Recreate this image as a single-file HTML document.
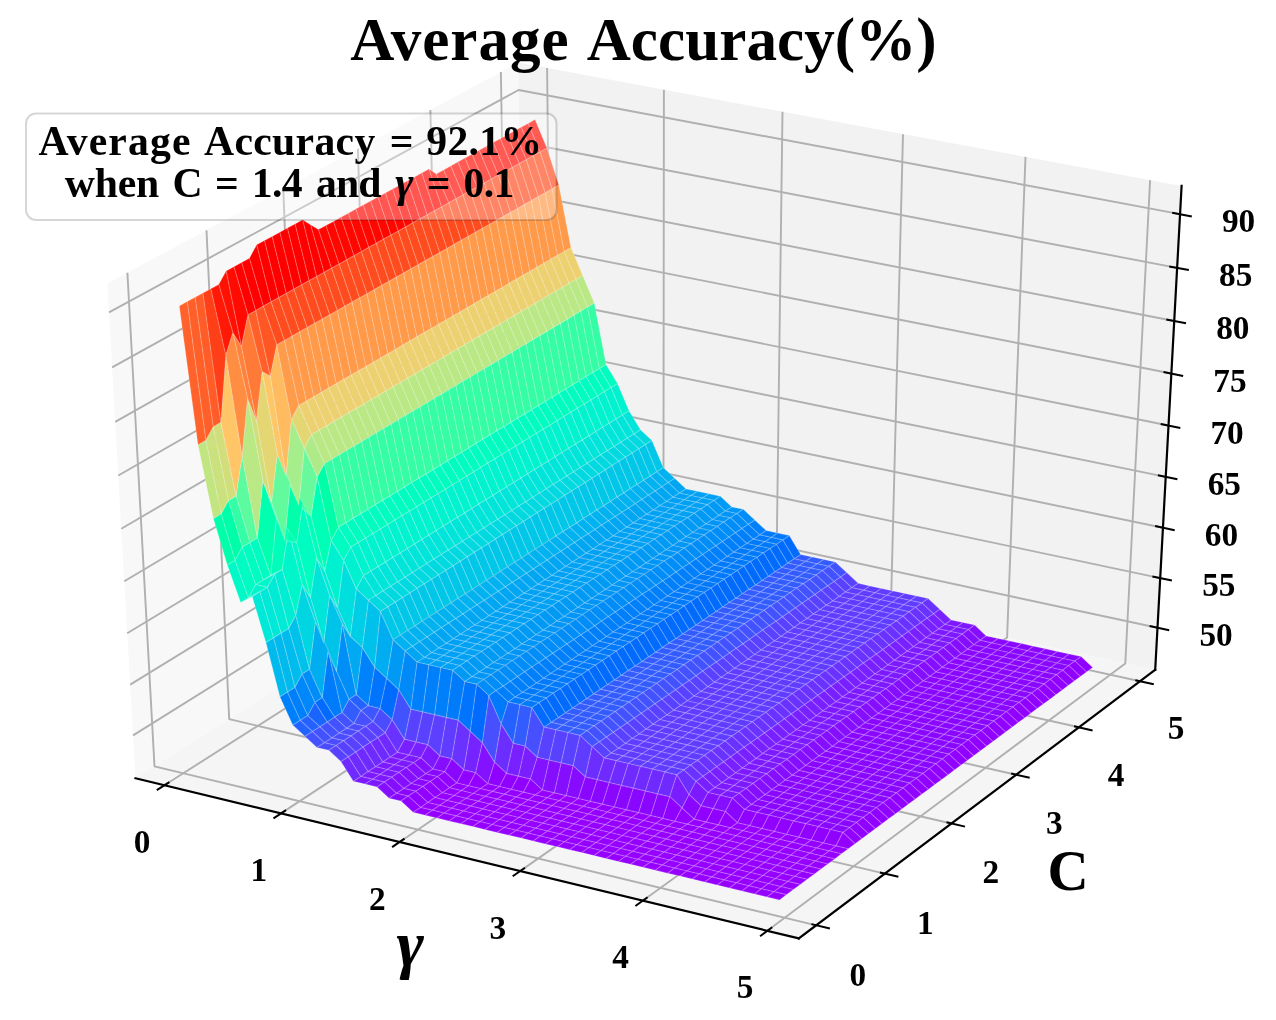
<!DOCTYPE html>
<html><head><meta charset="utf-8"><title>Average Accuracy</title>
<style>html,body{margin:0;padding:0;background:#fff}body{width:1276px;height:1020px;position:relative;overflow:hidden}</style></head>
<body>
<svg width="1276" height="1020" viewBox="0 0 1276 1020" style="position:absolute;left:0;top:0;filter:blur(0.5px)">
<polygon points="135.5,778.3 524.7,532.4 518.2,62.6 107.3,283.5" fill="#f8f8f8"/>
<polygon points="524.7,532.4 1155.2,669.9 1181.6,185.9 518.2,62.6" fill="#f2f2f2"/>
<polygon points="135.5,778.3 798.8,938.4 1155.2,669.9 524.7,532.4" fill="#f5f5f5"/>
<g fill="none" stroke="#b0b0b0" stroke-width="1.9" stroke-linejoin="round">
<polyline points="164.4,785.3 552.2,538.4 547.1,68.0"/>
<polyline points="816.3,925.3 154.5,766.3 127.4,272.7"/>
<polyline points="281.0,813.4 663.4,562.7 663.9,89.7"/>
<polyline points="884.8,873.6 229.2,719.1 206.5,230.2"/>
<polyline points="399.6,842.0 776.2,587.3 782.5,111.7"/>
<polyline points="951.4,823.5 301.8,673.3 283.3,189.0"/>
<polyline points="520.1,871.1 890.8,612.3 903.0,134.2"/>
<polyline points="1016.1,774.7 372.4,628.6 357.9,148.8"/>
<polyline points="642.7,900.7 1007.1,637.6 1025.5,156.9"/>
<polyline points="1079.0,727.3 441.2,585.2 430.4,109.9"/>
<polyline points="767.3,930.8 1125.3,663.4 1150.1,180.1"/>
<polyline points="1140.1,681.2 508.2,542.9 500.9,71.9"/>
<polyline points="133.1,735.4 524.1,491.5 1157.5,627.8"/>
<polyline points="130.2,684.6 523.5,443.1 1160.2,578.1"/>
<polyline points="127.2,633.2 522.8,394.3 1162.9,527.8"/>
<polyline points="124.3,581.2 522.1,344.9 1165.7,476.9"/>
<polyline points="121.3,528.7 521.4,295.0 1168.5,425.5"/>
<polyline points="118.3,475.5 520.7,244.5 1171.3,373.5"/>
<polyline points="115.2,421.8 520.0,193.5 1174.2,321.0"/>
<polyline points="112.1,367.4 519.3,142.0 1177.1,267.9"/>
<polyline points="109.0,312.4 518.6,90.0 1180.0,214.1"/>
</g>
<g id="surf" stroke="#fff" stroke-opacity="0.16" stroke-width="1.2" stroke-linejoin="round">
<polygon points="668.1,482.4 679.5,493.1 686.1,488.9 674.7,478.2" fill="#00a6f2"/>
<polygon points="656.7,471.8 668.1,482.4 674.7,478.2 663.3,467.6" fill="#00b2ef"/>
<polygon points="679.5,493.1 691.0,495.5 697.5,491.3 686.1,488.9" fill="#00a1f4"/>
<polygon points="645.3,444.6 656.7,471.8 663.3,467.6 651.9,440.4" fill="#00c7e8"/>
<polygon points="691.0,495.5 702.4,498.0 709.0,493.8 697.5,491.3" fill="#00a1f4"/>
<polygon points="661.6,486.7 673.0,497.3 679.5,493.1 668.1,482.4" fill="#00a6f2"/>
<polygon points="650.1,476.0 661.6,486.7 668.1,482.4 656.7,471.8" fill="#00b2ef"/>
<polygon points="673.0,497.3 684.4,499.8 691.0,495.5 679.5,493.1" fill="#00a1f4"/>
<polygon points="702.4,498.0 713.9,500.4 720.4,496.2 709.0,493.8" fill="#00a1f4"/>
<polygon points="633.9,433.9 645.3,444.6 651.9,440.4 640.5,429.8" fill="#00d9e0"/>
<polygon points="713.9,500.4 725.4,511.1 731.9,506.9 720.4,496.2" fill="#009af5"/>
<polygon points="638.7,448.8 650.1,476.0 656.7,471.8 645.3,444.6" fill="#00c7e8"/>
<polygon points="684.4,499.8 695.9,502.2 702.4,498.0 691.0,495.5" fill="#00a1f4"/>
<polygon points="725.4,511.1 736.9,513.6 743.3,509.3 731.9,506.9" fill="#0095f6"/>
<polygon points="622.4,414.9 633.9,433.9 640.5,429.8 629.0,410.8" fill="#00e5d9"/>
<polygon points="655.0,490.9 666.4,501.6 673.0,497.3 661.6,486.7" fill="#00a6f2"/>
<polygon points="643.5,480.2 655.0,490.9 661.6,486.7 650.1,476.0" fill="#00b2ef"/>
<polygon points="748.3,524.2 759.7,534.9 766.2,530.6 754.8,520.0" fill="#007ffa"/>
<polygon points="736.9,513.6 748.3,524.2 754.8,520.0 743.3,509.3" fill="#008df8"/>
<polygon points="666.4,501.6 677.9,504.0 684.4,499.8 673.0,497.3" fill="#00a1f4"/>
<polygon points="759.7,534.9 771.3,537.4 777.7,533.1 766.2,530.6" fill="#0079fb"/>
<polygon points="695.9,502.2 707.4,504.7 713.9,500.4 702.4,498.0" fill="#00a1f4"/>
<polygon points="627.2,438.1 638.7,448.8 645.3,444.6 633.9,433.9" fill="#00d9e0"/>
<polygon points="707.4,504.7 718.8,515.4 725.4,511.1 713.9,500.4" fill="#009af5"/>
<polygon points="794.1,558.8 805.7,561.3 812.1,557.0 800.6,554.5" fill="#335cff"/>
<polygon points="632.0,452.9 643.5,480.2 650.1,476.0 638.7,448.8" fill="#00c7e8"/>
<polygon points="677.9,504.0 689.3,506.5 695.9,502.2 684.4,499.8" fill="#00a1f4"/>
<polygon points="782.8,539.9 794.1,558.8 800.6,554.5 789.3,535.6" fill="#006bfd"/>
<polygon points="718.8,515.4 730.4,517.8 736.9,513.6 725.4,511.1" fill="#0095f6"/>
<polygon points="771.3,537.4 782.8,539.9 789.3,535.6 777.7,533.1" fill="#0079fb"/>
<polygon points="615.7,419.0 627.2,438.1 633.9,433.9 622.4,414.9" fill="#00e5d9"/>
<polygon points="610.9,387.5 622.4,414.9 629.0,410.8 617.5,383.4" fill="#00f3ce"/>
<polygon points="648.3,495.1 659.8,505.8 666.4,501.6 655.0,490.9" fill="#00a6f2"/>
<polygon points="636.9,484.4 648.3,495.1 655.0,490.9 643.5,480.2" fill="#00b2ef"/>
<polygon points="741.8,528.5 753.3,539.2 759.7,534.9 748.3,524.2" fill="#007ffa"/>
<polygon points="730.4,517.8 741.8,528.5 748.3,524.2 736.9,513.6" fill="#008df8"/>
<polygon points="659.8,505.8 671.3,508.3 677.9,504.0 666.4,501.6" fill="#00a1f4"/>
<polygon points="753.3,539.2 764.8,541.7 771.3,537.4 759.7,534.9" fill="#0079fb"/>
<polygon points="805.7,561.3 817.3,563.8 823.7,559.5 812.1,557.0" fill="#335cff"/>
<polygon points="689.3,506.5 700.8,508.9 707.4,504.7 695.9,502.2" fill="#00a1f4"/>
<polygon points="620.6,442.2 632.0,452.9 638.7,448.8 627.2,438.1" fill="#00d9e0"/>
<polygon points="700.8,508.9 712.3,519.6 718.8,515.4 707.4,504.7" fill="#009af5"/>
<polygon points="787.7,563.1 799.3,565.6 805.7,561.3 794.1,558.8" fill="#335cff"/>
<polygon points="625.4,457.1 636.9,484.4 643.5,480.2 632.0,452.9" fill="#00c7e8"/>
<polygon points="671.3,508.3 682.8,510.7 689.3,506.5 677.9,504.0" fill="#00a1f4"/>
<polygon points="776.4,544.2 787.7,563.1 794.1,558.8 782.8,539.9" fill="#006bfd"/>
<polygon points="712.3,519.6 723.8,522.1 730.4,517.8 718.8,515.4" fill="#0095f6"/>
<polygon points="764.8,541.7 776.4,544.2 782.8,539.9 771.3,537.4" fill="#0079fb"/>
<polygon points="817.3,563.8 828.9,566.3 835.3,561.9 823.7,559.5" fill="#335cff"/>
<polygon points="609.1,423.2 620.6,442.2 627.2,438.1 615.7,419.0" fill="#00e5d9"/>
<polygon points="604.2,391.6 615.7,419.0 622.4,414.9 610.9,387.5" fill="#00f3ce"/>
<polygon points="641.7,499.3 653.2,510.1 659.8,505.8 648.3,495.1" fill="#00a6f2"/>
<polygon points="599.3,368.4 610.9,387.5 617.5,383.4 606.0,364.4" fill="#00fcc0"/>
<polygon points="630.2,488.6 641.7,499.3 648.3,495.1 636.9,484.4" fill="#00b2ef"/>
<polygon points="735.3,532.8 746.8,543.5 753.3,539.2 741.8,528.5" fill="#007ffa"/>
<polygon points="840.4,577.0 851.8,587.7 858.2,583.3 846.7,572.6" fill="#5842ff"/>
<polygon points="723.8,522.1 735.3,532.8 741.8,528.5 730.4,517.8" fill="#008df8"/>
<polygon points="828.9,566.3 840.4,577.0 846.7,572.6 835.3,561.9" fill="#4352ff"/>
<polygon points="653.2,510.1 664.7,512.5 671.3,508.3 659.8,505.8" fill="#00a1f4"/>
<polygon points="746.8,543.5 758.3,546.0 764.8,541.7 753.3,539.2" fill="#0079fb"/>
<polygon points="799.3,565.6 810.9,568.1 817.3,563.8 805.7,561.3" fill="#335cff"/>
<polygon points="851.8,587.7 863.5,590.2 869.8,585.9 858.2,583.3" fill="#5f3cff"/>
<polygon points="682.8,510.7 694.3,513.2 700.8,508.9 689.3,506.5" fill="#00a1f4"/>
<polygon points="613.9,446.4 625.4,457.1 632.0,452.9 620.6,442.2" fill="#00d9e0"/>
<polygon points="694.3,513.2 705.8,523.9 712.3,519.6 700.8,508.9" fill="#009af5"/>
<polygon points="781.3,567.4 792.9,570.0 799.3,565.6 787.7,563.1" fill="#335cff"/>
<polygon points="618.7,461.3 630.2,488.6 636.9,484.4 625.4,457.1" fill="#00c7e8"/>
<polygon points="664.7,512.5 676.2,515.0 682.8,510.7 671.3,508.3" fill="#00a1f4"/>
<polygon points="769.9,548.5 781.3,567.4 787.7,563.1 776.4,544.2" fill="#006bfd"/>
<polygon points="705.8,523.9 717.3,526.4 723.8,522.1 712.3,519.6" fill="#0095f6"/>
<polygon points="758.3,546.0 769.9,548.5 776.4,544.2 764.8,541.7" fill="#0079fb"/>
<polygon points="810.9,568.1 822.5,570.6 828.9,566.3 817.3,563.8" fill="#335cff"/>
<polygon points="863.5,590.2 875.1,592.8 881.4,588.4 869.8,585.9" fill="#5f3cff"/>
<polygon points="602.4,427.3 613.9,446.4 620.6,442.2 609.1,423.2" fill="#00e5d9"/>
<polygon points="597.5,395.7 609.1,423.2 615.7,419.0 604.2,391.6" fill="#00f3ce"/>
<polygon points="635.1,503.6 646.6,514.3 653.2,510.1 641.7,499.3" fill="#00a6f2"/>
<polygon points="592.6,372.5 604.2,391.6 610.9,387.5 599.3,368.4" fill="#00fcc0"/>
<polygon points="623.6,492.9 635.1,503.6 641.7,499.3 630.2,488.6" fill="#00b2ef"/>
<polygon points="728.8,537.1 740.3,547.8 746.8,543.5 735.3,532.8" fill="#007ffa"/>
<polygon points="834.0,581.4 845.5,592.1 851.8,587.7 840.4,577.0" fill="#5842ff"/>
<polygon points="717.3,526.4 728.8,537.1 735.3,532.8 723.8,522.1" fill="#008df8"/>
<polygon points="822.5,570.6 834.0,581.4 840.4,577.0 828.9,566.3" fill="#4352ff"/>
<polygon points="646.6,514.3 658.1,516.8 664.7,512.5 653.2,510.1" fill="#00a1f4"/>
<polygon points="740.3,547.8 751.8,550.3 758.3,546.0 746.8,543.5" fill="#0079fb"/>
<polygon points="792.9,570.0 804.5,572.5 810.9,568.1 799.3,565.6" fill="#335cff"/>
<polygon points="845.5,592.1 857.1,594.6 863.5,590.2 851.8,587.7" fill="#5f3cff"/>
<polygon points="676.2,515.0 687.7,517.5 694.3,513.2 682.8,510.7" fill="#00a1f4"/>
<polygon points="875.1,592.8 886.8,595.3 893.1,590.9 881.4,588.4" fill="#5f3cff"/>
<polygon points="607.2,450.6 618.7,461.3 625.4,457.1 613.9,446.4" fill="#00d9e0"/>
<polygon points="687.7,517.5 699.2,528.2 705.8,523.9 694.3,513.2" fill="#009af5"/>
<polygon points="774.8,571.8 786.4,574.3 792.9,570.0 781.3,567.4" fill="#335cff"/>
<polygon points="612.0,465.5 623.6,492.9 630.2,488.6 618.7,461.3" fill="#00c7e8"/>
<polygon points="658.1,516.8 669.6,519.3 676.2,515.0 664.7,512.5" fill="#00a1f4"/>
<polygon points="763.4,552.8 774.8,571.8 781.3,567.4 769.9,548.5" fill="#006bfd"/>
<polygon points="699.2,528.2 710.7,530.7 717.3,526.4 705.8,523.9" fill="#0095f6"/>
<polygon points="751.8,550.3 763.4,552.8 769.9,548.5 758.3,546.0" fill="#0079fb"/>
<polygon points="804.5,572.5 816.1,575.0 822.5,570.6 810.9,568.1" fill="#335cff"/>
<polygon points="857.1,594.6 868.8,597.1 875.1,592.8 863.5,590.2" fill="#5f3cff"/>
<polygon points="595.6,431.5 607.2,450.6 613.9,446.4 602.4,427.3" fill="#00e5d9"/>
<polygon points="590.7,399.9 602.4,427.3 609.1,423.2 597.5,395.7" fill="#00f3ce"/>
<polygon points="628.4,507.9 639.9,518.6 646.6,514.3 635.1,503.6" fill="#00a6f2"/>
<polygon points="585.9,376.6 597.5,395.7 604.2,391.6 592.6,372.5" fill="#00fcc0"/>
<polygon points="616.9,497.1 628.4,507.9 635.1,503.6 623.6,492.9" fill="#00b2ef"/>
<polygon points="886.8,595.3 898.5,597.8 904.8,593.4 893.1,590.9" fill="#5f3cff"/>
<polygon points="722.2,541.4 733.7,552.2 740.3,547.8 728.8,537.1" fill="#007ffa"/>
<polygon points="827.6,585.7 839.1,596.5 845.5,592.1 834.0,581.4" fill="#5842ff"/>
<polygon points="710.7,530.7 722.2,541.4 728.8,537.1 717.3,526.4" fill="#008df8"/>
<polygon points="816.1,575.0 827.6,585.7 834.0,581.4 822.5,570.6" fill="#4352ff"/>
<polygon points="639.9,518.6 651.4,521.1 658.1,516.8 646.6,514.3" fill="#00a1f4"/>
<polygon points="733.7,552.2 745.3,554.7 751.8,550.3 740.3,547.8" fill="#0079fb"/>
<polygon points="786.4,574.3 798.0,576.8 804.5,572.5 792.9,570.0" fill="#335cff"/>
<polygon points="839.1,596.5 850.7,599.0 857.1,594.6 845.5,592.1" fill="#5f3cff"/>
<polygon points="587.5,307.1 599.3,368.4 606.0,364.4 594.3,303.1" fill="#34fda5"/>
<polygon points="669.6,519.3 681.1,521.8 687.7,517.5 676.2,515.0" fill="#00a1f4"/>
<polygon points="868.8,597.1 880.5,599.7 886.8,595.3 875.1,592.8" fill="#5f3cff"/>
<polygon points="600.5,454.8 612.0,465.5 618.7,461.3 607.2,450.6" fill="#00d9e0"/>
<polygon points="681.1,521.8 692.6,532.5 699.2,528.2 687.7,517.5" fill="#009af5"/>
<polygon points="898.5,597.8 910.2,600.4 916.5,596.0 904.8,593.4" fill="#5f3cff"/>
<polygon points="768.3,576.2 779.9,578.7 786.4,574.3 774.8,571.8" fill="#335cff"/>
<polygon points="605.3,469.8 616.9,497.1 623.6,492.9 612.0,465.5" fill="#00c7e8"/>
<polygon points="651.4,521.1 662.9,523.6 669.6,519.3 658.1,516.8" fill="#00a1f4"/>
<polygon points="756.9,557.2 768.3,576.2 774.8,571.8 763.4,552.8" fill="#006bfd"/>
<polygon points="692.6,532.5 704.2,535.0 710.7,530.7 699.2,528.2" fill="#0095f6"/>
<polygon points="745.3,554.7 756.9,557.2 763.4,552.8 751.8,550.3" fill="#0079fb"/>
<polygon points="798.0,576.8 809.7,579.4 816.1,575.0 804.5,572.5" fill="#335cff"/>
<polygon points="850.7,599.0 862.4,601.5 868.8,597.1 857.1,594.6" fill="#5f3cff"/>
<polygon points="588.9,435.7 600.5,454.8 607.2,450.6 595.6,431.5" fill="#00e5d9"/>
<polygon points="584.0,404.0 595.6,431.5 602.4,427.3 590.7,399.9" fill="#00f3ce"/>
<polygon points="621.7,512.2 633.2,522.9 639.9,518.6 628.4,507.9" fill="#00a6f2"/>
<polygon points="579.2,380.7 590.7,399.9 597.5,395.7 585.9,376.6" fill="#00fcc0"/>
<polygon points="610.2,501.4 621.7,512.2 628.4,507.9 616.9,497.1" fill="#00b2ef"/>
<polygon points="880.5,599.7 892.2,602.2 898.5,597.8 886.8,595.3" fill="#5f3cff"/>
<polygon points="715.7,545.8 727.2,556.5 733.7,552.2 722.2,541.4" fill="#007ffa"/>
<polygon points="821.2,590.1 832.7,600.9 839.1,596.5 827.6,585.7" fill="#5842ff"/>
<polygon points="704.2,535.0 715.7,545.8 722.2,541.4 710.7,530.7" fill="#008df8"/>
<polygon points="809.7,579.4 821.2,590.1 827.6,585.7 816.1,575.0" fill="#4352ff"/>
<polygon points="910.2,600.4 921.9,602.9 928.2,598.5 916.5,596.0" fill="#5f3cff"/>
<polygon points="633.2,522.9 644.8,525.4 651.4,521.1 639.9,518.6" fill="#00a1f4"/>
<polygon points="727.2,556.5 738.8,559.0 745.3,554.7 733.7,552.2" fill="#0079fb"/>
<polygon points="779.9,578.7 791.6,581.2 798.0,576.8 786.4,574.3" fill="#335cff"/>
<polygon points="832.7,600.9 844.3,603.4 850.7,599.0 839.1,596.5" fill="#5f3cff"/>
<polygon points="580.7,311.1 592.6,372.5 599.3,368.4 587.5,307.1" fill="#34fda5"/>
<polygon points="662.9,523.6 674.5,526.1 681.1,521.8 669.6,519.3" fill="#00a1f4"/>
<polygon points="933.4,613.7 944.9,624.4 951.2,620.0 939.7,609.2" fill="#7820ff"/>
<polygon points="921.9,602.9 933.4,613.7 939.7,609.2 928.2,598.5" fill="#6932ff"/>
<polygon points="862.4,601.5 874.1,604.1 880.5,599.7 868.8,597.1" fill="#5f3cff"/>
<polygon points="593.8,459.0 605.3,469.8 612.0,465.5 600.5,454.8" fill="#00d9e0"/>
<polygon points="674.5,526.1 686.0,536.8 692.6,532.5 681.1,521.8" fill="#009af5"/>
<polygon points="892.2,602.2 903.9,604.8 910.2,600.4 898.5,597.8" fill="#5f3cff"/>
<polygon points="944.9,624.4 956.7,627.0 962.9,622.5 951.2,620.0" fill="#7d19ff"/>
<polygon points="761.8,580.5 773.4,583.1 779.9,578.7 768.3,576.2" fill="#335cff"/>
<polygon points="598.6,474.0 610.2,501.4 616.9,497.1 605.3,469.8" fill="#00c7e8"/>
<polygon points="644.8,525.4 656.3,527.9 662.9,523.6 651.4,521.1" fill="#00a1f4"/>
<polygon points="750.4,561.5 761.8,580.5 768.3,576.2 756.9,557.2" fill="#006bfd"/>
<polygon points="686.0,536.8 697.6,539.3 704.2,535.0 692.6,532.5" fill="#0095f6"/>
<polygon points="738.8,559.0 750.4,561.5 756.9,557.2 745.3,554.7" fill="#0079fb"/>
<polygon points="791.6,581.2 803.2,583.7 809.7,579.4 798.0,576.8" fill="#335cff"/>
<polygon points="844.3,603.4 856.0,606.0 862.4,601.5 850.7,599.0" fill="#5f3cff"/>
<polygon points="582.2,439.9 593.8,459.0 600.5,454.8 588.9,435.7" fill="#00e5d9"/>
<polygon points="577.2,408.1 588.9,435.7 595.6,431.5 584.0,404.0" fill="#00f3ce"/>
<polygon points="615.0,516.4 626.5,527.2 633.2,522.9 621.7,512.2" fill="#00a6f2"/>
<polygon points="572.4,384.8 584.0,404.0 590.7,399.9 579.2,380.7" fill="#00fcc0"/>
<polygon points="603.5,505.7 615.0,516.4 621.7,512.2 610.2,501.4" fill="#00b2ef"/>
<polygon points="874.1,604.1 885.8,606.6 892.2,602.2 880.5,599.7" fill="#5f3cff"/>
<polygon points="709.1,550.1 720.6,560.9 727.2,556.5 715.7,545.8" fill="#007ffa"/>
<polygon points="814.7,594.5 826.2,605.3 832.7,600.9 821.2,590.1" fill="#5842ff"/>
<polygon points="697.6,539.3 709.1,550.1 715.7,545.8 704.2,535.0" fill="#008df8"/>
<polygon points="803.2,583.7 814.7,594.5 821.2,590.1 809.7,579.4" fill="#4352ff"/>
<polygon points="903.9,604.8 915.6,607.3 921.9,602.9 910.2,600.4" fill="#5f3cff"/>
<polygon points="956.7,627.0 968.5,629.6 974.7,625.1 962.9,622.5" fill="#7d19ff"/>
<polygon points="626.5,527.2 638.1,529.7 644.8,525.4 633.2,522.9" fill="#00a1f4"/>
<polygon points="720.6,560.9 732.2,563.4 738.8,559.0 727.2,556.5" fill="#0079fb"/>
<polygon points="773.4,583.1 785.1,585.6 791.6,581.2 779.9,578.7" fill="#335cff"/>
<polygon points="826.2,605.3 837.9,607.8 844.3,603.4 832.7,600.9" fill="#5f3cff"/>
<polygon points="574.0,315.1 585.9,376.6 592.6,372.5 580.7,311.1" fill="#34fda5"/>
<polygon points="656.3,527.9 667.8,530.4 674.5,526.1 662.9,523.6" fill="#00a1f4"/>
<polygon points="927.1,618.1 938.7,628.9 944.9,624.4 933.4,613.7" fill="#7820ff"/>
<polygon points="915.6,607.3 927.1,618.1 933.4,613.7 921.9,602.9" fill="#6932ff"/>
<polygon points="968.5,629.6 980.0,640.3 986.2,635.9 974.7,625.1" fill="#850eff"/>
<polygon points="856.0,606.0 867.7,608.5 874.1,604.1 862.4,601.5" fill="#5f3cff"/>
<polygon points="587.0,463.2 598.6,474.0 605.3,469.8 593.8,459.0" fill="#00d9e0"/>
<polygon points="667.8,530.4 679.4,541.2 686.0,536.8 674.5,526.1" fill="#009af5"/>
<polygon points="885.8,606.6 897.6,609.2 903.9,604.8 892.2,602.2" fill="#5f3cff"/>
<polygon points="938.7,628.9 950.4,631.4 956.7,627.0 944.9,624.4" fill="#7d19ff"/>
<polygon points="980.0,640.3 991.8,642.9 998.0,638.4 986.2,635.9" fill="#8a07ff"/>
<polygon points="755.3,584.9 766.9,587.5 773.4,583.1 761.8,580.5" fill="#335cff"/>
<polygon points="591.8,478.2 603.5,505.7 610.2,501.4 598.6,474.0" fill="#00c7e8"/>
<polygon points="638.1,529.7 649.6,532.2 656.3,527.9 644.8,525.4" fill="#00a1f4"/>
<polygon points="743.8,565.9 755.3,584.9 761.8,580.5 750.4,561.5" fill="#006bfd"/>
<polygon points="679.4,541.2 691.0,543.7 697.6,539.3 686.0,536.8" fill="#0095f6"/>
<polygon points="732.2,563.4 743.8,565.9 750.4,561.5 738.8,559.0" fill="#0079fb"/>
<polygon points="785.1,585.6 796.7,588.1 803.2,583.7 791.6,581.2" fill="#335cff"/>
<polygon points="837.9,607.8 849.6,610.4 856.0,606.0 844.3,603.4" fill="#5f3cff"/>
<polygon points="575.4,444.1 587.0,463.2 593.8,459.0 582.2,439.9" fill="#00e5d9"/>
<polygon points="570.5,412.3 582.2,439.9 588.9,435.7 577.2,408.1" fill="#00f3ce"/>
<polygon points="608.3,520.7 619.8,531.5 626.5,527.2 615.0,516.4" fill="#00a6f2"/>
<polygon points="565.6,388.9 577.2,408.1 584.0,404.0 572.4,384.8" fill="#00fcc0"/>
<polygon points="575.8,279.3 587.5,307.1 594.3,303.1 582.6,275.3" fill="#b9e884"/>
<polygon points="596.7,510.0 608.3,520.7 615.0,516.4 603.5,505.7" fill="#00b2ef"/>
<polygon points="867.7,608.5 879.5,611.1 885.8,606.6 874.1,604.1" fill="#5f3cff"/>
<polygon points="702.5,554.4 714.0,565.2 720.6,560.9 709.1,550.1" fill="#007ffa"/>
<polygon points="808.3,598.9 819.8,609.7 826.2,605.3 814.7,594.5" fill="#5842ff"/>
<polygon points="691.0,543.7 702.5,554.4 709.1,550.1 697.6,539.3" fill="#008df8"/>
<polygon points="796.7,588.1 808.3,598.9 814.7,594.5 803.2,583.7" fill="#4352ff"/>
<polygon points="897.6,609.2 909.3,611.8 915.6,607.3 903.9,604.8" fill="#5f3cff"/>
<polygon points="950.4,631.4 962.2,634.0 968.5,629.6 956.7,627.0" fill="#7d19ff"/>
<polygon points="619.8,531.5 631.4,534.0 638.1,529.7 626.5,527.2" fill="#00a1f4"/>
<polygon points="991.8,642.9 1003.6,645.5 1009.8,641.0 998.0,638.4" fill="#8a07ff"/>
<polygon points="714.0,565.2 725.7,567.7 732.2,563.4 720.6,560.9" fill="#0079fb"/>
<polygon points="766.9,587.5 778.6,590.0 785.1,585.6 773.4,583.1" fill="#335cff"/>
<polygon points="819.8,609.7 831.5,612.3 837.9,607.8 826.2,605.3" fill="#5f3cff"/>
<polygon points="567.2,319.2 579.2,380.7 585.9,376.6 574.0,315.1" fill="#34fda5"/>
<polygon points="649.6,532.2 661.2,534.7 667.8,530.4 656.3,527.9" fill="#00a1f4"/>
<polygon points="920.8,622.5 932.4,633.3 938.7,628.9 927.1,618.1" fill="#7820ff"/>
<polygon points="909.3,611.8 920.8,622.5 927.1,618.1 915.6,607.3" fill="#6932ff"/>
<polygon points="962.2,634.0 973.8,644.8 980.0,640.3 968.5,629.6" fill="#850eff"/>
<polygon points="849.6,610.4 861.4,612.9 867.7,608.5 856.0,606.0" fill="#5f3cff"/>
<polygon points="580.2,467.4 591.8,478.2 598.6,474.0 587.0,463.2" fill="#00d9e0"/>
<polygon points="661.2,534.7 672.7,545.5 679.4,541.2 667.8,530.4" fill="#009af5"/>
<polygon points="879.5,611.1 891.2,613.6 897.6,609.2 885.8,606.6" fill="#5f3cff"/>
<polygon points="932.4,633.3 944.2,635.9 950.4,631.4 938.7,628.9" fill="#7d19ff"/>
<polygon points="973.8,644.8 985.6,647.4 991.8,642.9 980.0,640.3" fill="#8a07ff"/>
<polygon points="748.8,589.3 760.4,591.9 766.9,587.5 755.3,584.9" fill="#335cff"/>
<polygon points="585.0,482.5 596.7,510.0 603.5,505.7 591.8,478.2" fill="#00c7e8"/>
<polygon points="631.4,534.0 642.9,536.5 649.6,532.2 638.1,529.7" fill="#00a1f4"/>
<polygon points="737.3,570.3 748.8,589.3 755.3,584.9 743.8,565.9" fill="#006bfd"/>
<polygon points="1003.6,645.5 1015.5,648.1 1021.6,643.6 1009.8,641.0" fill="#8a07ff"/>
<polygon points="672.7,545.5 684.3,548.0 691.0,543.7 679.4,541.2" fill="#0095f6"/>
<polygon points="725.7,567.7 737.3,570.3 743.8,565.9 732.2,563.4" fill="#0079fb"/>
<polygon points="778.6,590.0 790.3,592.5 796.7,588.1 785.1,585.6" fill="#335cff"/>
<polygon points="831.5,612.3 843.2,614.8 849.6,610.4 837.9,607.8" fill="#5f3cff"/>
<polygon points="568.6,448.3 580.2,467.4 587.0,463.2 575.4,444.1" fill="#00e5d9"/>
<polygon points="563.7,416.5 575.4,444.1 582.2,439.9 570.5,412.3" fill="#00f3ce"/>
<polygon points="601.5,525.1 613.1,535.9 619.8,531.5 608.3,520.7" fill="#00a6f2"/>
<polygon points="558.8,393.1 570.5,412.3 577.2,408.1 565.6,388.9" fill="#00fcc0"/>
<polygon points="569.0,283.3 580.7,311.1 587.5,307.1 575.8,279.3" fill="#b9e884"/>
<polygon points="590.0,514.3 601.5,525.1 608.3,520.7 596.7,510.0" fill="#00b2ef"/>
<polygon points="861.4,612.9 873.1,615.5 879.5,611.1 867.7,608.5" fill="#5f3cff"/>
<polygon points="695.9,558.8 707.5,569.6 714.0,565.2 702.5,554.4" fill="#007ffa"/>
<polygon points="801.8,603.3 813.4,614.1 819.8,609.7 808.3,598.9" fill="#5842ff"/>
<polygon points="684.3,548.0 695.9,558.8 702.5,554.4 691.0,543.7" fill="#008df8"/>
<polygon points="790.3,592.5 801.8,603.3 808.3,598.9 796.7,588.1" fill="#4352ff"/>
<polygon points="891.2,613.6 903.0,616.2 909.3,611.8 897.6,609.2" fill="#5f3cff"/>
<polygon points="944.2,635.9 956.0,638.5 962.2,634.0 950.4,631.4" fill="#7d19ff"/>
<polygon points="613.1,535.9 624.7,538.4 631.4,534.0 619.8,531.5" fill="#00a1f4"/>
<polygon points="985.6,647.4 997.4,650.0 1003.6,645.5 991.8,642.9" fill="#8a07ff"/>
<polygon points="707.5,569.6 719.1,572.1 725.7,567.7 714.0,565.2" fill="#0079fb"/>
<polygon points="760.4,591.9 772.1,594.4 778.6,590.0 766.9,587.5" fill="#335cff"/>
<polygon points="813.4,614.1 825.1,616.7 831.5,612.3 819.8,609.7" fill="#5f3cff"/>
<polygon points="560.3,323.2 572.4,384.8 579.2,380.7 567.2,319.2" fill="#34fda5"/>
<polygon points="642.9,536.5 654.5,539.0 661.2,534.7 649.6,532.2" fill="#00a1f4"/>
<polygon points="914.5,627.0 926.1,637.8 932.4,633.3 920.8,622.5" fill="#7820ff"/>
<polygon points="564.1,251.4 575.8,279.3 582.6,275.3 570.9,247.4" fill="#edd06f"/>
<polygon points="1015.5,648.1 1027.3,650.7 1033.5,646.2 1021.6,643.6" fill="#8a07ff"/>
<polygon points="903.0,616.2 914.5,627.0 920.8,622.5 909.3,611.8" fill="#6932ff"/>
<polygon points="956.0,638.5 967.5,649.3 973.8,644.8 962.2,634.0" fill="#850eff"/>
<polygon points="843.2,614.8 854.9,617.4 861.4,612.9 849.6,610.4" fill="#5f3cff"/>
<polygon points="573.5,471.7 585.0,482.5 591.8,478.2 580.2,467.4" fill="#00d9e0"/>
<polygon points="654.5,539.0 666.1,549.8 672.7,545.5 661.2,534.7" fill="#009af5"/>
<polygon points="873.1,615.5 884.8,618.1 891.2,613.6 879.5,611.1" fill="#5f3cff"/>
<polygon points="926.1,637.8 937.9,640.4 944.2,635.9 932.4,633.3" fill="#7d19ff"/>
<polygon points="967.5,649.3 979.3,651.9 985.6,647.4 973.8,644.8" fill="#8a07ff"/>
<polygon points="742.2,593.7 753.9,596.3 760.4,591.9 748.8,589.3" fill="#335cff"/>
<polygon points="578.3,486.8 590.0,514.3 596.7,510.0 585.0,482.5" fill="#00c7e8"/>
<polygon points="624.7,538.4 636.2,540.9 642.9,536.5 631.4,534.0" fill="#00a1f4"/>
<polygon points="730.7,574.7 742.2,593.7 748.8,589.3 737.3,570.3" fill="#006bfd"/>
<polygon points="997.4,650.0 1009.3,652.6 1015.5,648.1 1003.6,645.5" fill="#8a07ff"/>
<polygon points="666.1,549.8 677.7,552.4 684.3,548.0 672.7,545.5" fill="#0095f6"/>
<polygon points="719.1,572.1 730.7,574.7 737.3,570.3 725.7,567.7" fill="#0079fb"/>
<polygon points="772.1,594.4 783.7,597.0 790.3,592.5 778.6,590.0" fill="#335cff"/>
<polygon points="825.1,616.7 836.8,619.3 843.2,614.8 831.5,612.3" fill="#5f3cff"/>
<polygon points="561.8,452.5 573.5,471.7 580.2,467.4 568.6,448.3" fill="#00e5d9"/>
<polygon points="556.8,420.7 568.6,448.3 575.4,444.1 563.7,416.5" fill="#00f3ce"/>
<polygon points="594.8,529.4 606.4,540.2 613.1,535.9 601.5,525.1" fill="#00a6f2"/>
<polygon points="552.0,397.2 563.7,416.5 570.5,412.3 558.8,393.1" fill="#00fcc0"/>
<polygon points="1027.3,650.7 1039.2,653.3 1045.4,648.8 1033.5,646.2" fill="#8a07ff"/>
<polygon points="562.2,287.3 574.0,315.1 580.7,311.1 569.0,283.3" fill="#b9e884"/>
<polygon points="583.2,518.6 594.8,529.4 601.5,525.1 590.0,514.3" fill="#00b2ef"/>
<polygon points="854.9,617.4 866.7,620.0 873.1,615.5 861.4,612.9" fill="#5f3cff"/>
<polygon points="689.3,563.2 700.8,574.0 707.5,569.6 695.9,558.8" fill="#007ffa"/>
<polygon points="795.3,607.8 806.9,618.6 813.4,614.1 801.8,603.3" fill="#5842ff"/>
<polygon points="677.7,552.4 689.3,563.2 695.9,558.8 684.3,548.0" fill="#008df8"/>
<polygon points="783.7,597.0 795.3,607.8 801.8,603.3 790.3,592.5" fill="#4352ff"/>
<polygon points="884.8,618.1 896.6,620.7 903.0,616.2 891.2,613.6" fill="#5f3cff"/>
<polygon points="937.9,640.4 949.7,643.0 956.0,638.5 944.2,635.9" fill="#7d19ff"/>
<polygon points="606.4,540.2 617.9,542.7 624.7,538.4 613.1,535.9" fill="#00a1f4"/>
<polygon points="979.3,651.9 991.2,654.5 997.4,650.0 985.6,647.4" fill="#8a07ff"/>
<polygon points="700.8,574.0 712.5,576.5 719.1,572.1 707.5,569.6" fill="#0079fb"/>
<polygon points="753.9,596.3 765.5,598.8 772.1,594.4 760.4,591.9" fill="#335cff"/>
<polygon points="806.9,618.6 818.6,621.2 825.1,616.7 813.4,614.1" fill="#5f3cff"/>
<polygon points="553.5,327.3 565.6,388.9 572.4,384.8 560.3,323.2" fill="#34fda5"/>
<polygon points="636.2,540.9 647.8,543.4 654.5,539.0 642.9,536.5" fill="#00a1f4"/>
<polygon points="908.2,631.5 919.7,642.3 926.1,637.8 914.5,627.0" fill="#7820ff"/>
<polygon points="557.3,255.3 569.0,283.3 575.8,279.3 564.1,251.4" fill="#edd06f"/>
<polygon points="1009.3,652.6 1021.1,655.2 1027.3,650.7 1015.5,648.1" fill="#8a07ff"/>
<polygon points="896.6,620.7 908.2,631.5 914.5,627.0 903.0,616.2" fill="#6932ff"/>
<polygon points="949.7,643.0 961.2,653.8 967.5,649.3 956.0,638.5" fill="#850eff"/>
<polygon points="836.8,619.3 848.5,621.8 854.9,617.4 843.2,614.8" fill="#5f3cff"/>
<polygon points="566.7,475.9 578.3,486.8 585.0,482.5 573.5,471.7" fill="#00d9e0"/>
<polygon points="1039.2,653.3 1051.1,655.9 1057.3,651.4 1045.4,648.8" fill="#8a07ff"/>
<polygon points="647.8,543.4 659.4,554.2 666.1,549.8 654.5,539.0" fill="#009af5"/>
<polygon points="866.7,620.0 878.5,622.5 884.8,618.1 873.1,615.5" fill="#5f3cff"/>
<polygon points="919.7,642.3 931.6,644.9 937.9,640.4 926.1,637.8" fill="#7d19ff"/>
<polygon points="961.2,653.8 973.1,656.4 979.3,651.9 967.5,649.3" fill="#8a07ff"/>
<polygon points="735.6,598.2 747.3,600.7 753.9,596.3 742.2,593.7" fill="#335cff"/>
<polygon points="571.5,491.1 583.2,518.6 590.0,514.3 578.3,486.8" fill="#00c7e8"/>
<polygon points="617.9,542.7 629.5,545.2 636.2,540.9 624.7,538.4" fill="#00a1f4"/>
<polygon points="724.1,579.1 735.6,598.2 742.2,593.7 730.7,574.7" fill="#006bfd"/>
<polygon points="991.2,654.5 1003.1,657.1 1009.3,652.6 997.4,650.0" fill="#8a07ff"/>
<polygon points="659.4,554.2 671.0,556.7 677.7,552.4 666.1,549.8" fill="#0095f6"/>
<polygon points="712.5,576.5 724.1,579.1 730.7,574.7 719.1,572.1" fill="#0079fb"/>
<polygon points="765.5,598.8 777.2,601.4 783.7,597.0 772.1,594.4" fill="#335cff"/>
<polygon points="818.6,621.2 830.3,623.7 836.8,619.3 825.1,616.7" fill="#5f3cff"/>
<polygon points="555.0,456.7 566.7,475.9 573.5,471.7 561.8,452.5" fill="#00e5d9"/>
<polygon points="550.0,424.9 561.8,452.5 568.6,448.3 556.8,420.7" fill="#00f3ce"/>
<polygon points="588.0,533.7 599.6,544.6 606.4,540.2 594.8,529.4" fill="#00a6f2"/>
<polygon points="545.1,401.4 556.8,420.7 563.7,416.5 552.0,397.2" fill="#00fcc0"/>
<polygon points="1021.1,655.2 1033.0,657.8 1039.2,653.3 1027.3,650.7" fill="#8a07ff"/>
<polygon points="555.4,291.3 567.2,319.2 574.0,315.1 562.2,287.3" fill="#b9e884"/>
<polygon points="576.4,522.9 588.0,533.7 594.8,529.4 583.2,518.6" fill="#00b2ef"/>
<polygon points="848.5,621.8 860.3,624.4 866.7,620.0 854.9,617.4" fill="#5f3cff"/>
<polygon points="682.6,567.6 694.2,578.4 700.8,574.0 689.3,563.2" fill="#007ffa"/>
<polygon points="788.8,612.2 800.4,623.0 806.9,618.6 795.3,607.8" fill="#5842ff"/>
<polygon points="671.0,556.7 682.6,567.6 689.3,563.2 677.7,552.4" fill="#008df8"/>
<polygon points="777.2,601.4 788.8,612.2 795.3,607.8 783.7,597.0" fill="#4352ff"/>
<polygon points="1051.1,655.9 1063.0,658.5 1069.2,654.0 1057.3,651.4" fill="#8a07ff"/>
<polygon points="878.5,622.5 890.2,625.1 896.6,620.7 884.8,618.1" fill="#5f3cff"/>
<polygon points="931.6,644.9 943.4,647.5 949.7,643.0 937.9,640.4" fill="#7d19ff"/>
<polygon points="599.6,544.6 611.2,547.1 617.9,542.7 606.4,540.2" fill="#00a1f4"/>
<polygon points="973.1,656.4 984.9,659.0 991.2,654.5 979.3,651.9" fill="#8a07ff"/>
<polygon points="694.2,578.4 705.8,580.9 712.5,576.5 700.8,574.0" fill="#0079fb"/>
<polygon points="747.3,600.7 759.0,603.3 765.5,598.8 753.9,596.3" fill="#335cff"/>
<polygon points="800.4,623.0 812.1,625.6 818.6,621.2 806.9,618.6" fill="#5f3cff"/>
<polygon points="546.7,331.4 558.8,393.1 565.6,388.9 553.5,327.3" fill="#34fda5"/>
<polygon points="629.5,545.2 641.1,547.7 647.8,543.4 636.2,540.9" fill="#00a1f4"/>
<polygon points="901.8,635.9 913.4,646.8 919.7,642.3 908.2,631.5" fill="#7820ff"/>
<polygon points="550.4,259.3 562.2,287.3 569.0,283.3 557.3,255.3" fill="#edd06f"/>
<polygon points="1003.1,657.1 1014.9,659.7 1021.1,655.2 1009.3,652.6" fill="#8a07ff"/>
<polygon points="890.2,625.1 901.8,635.9 908.2,631.5 896.6,620.7" fill="#6932ff"/>
<polygon points="943.4,647.5 955.0,658.3 961.2,653.8 949.7,643.0" fill="#850eff"/>
<polygon points="830.3,623.7 842.1,626.3 848.5,621.8 836.8,619.3" fill="#5f3cff"/>
<polygon points="559.8,480.2 571.5,491.1 578.3,486.8 566.7,475.9" fill="#00d9e0"/>
<polygon points="1033.0,657.8 1045.0,660.4 1051.1,655.9 1039.2,653.3" fill="#8a07ff"/>
<polygon points="641.1,547.7 652.7,558.6 659.4,554.2 647.8,543.4" fill="#009af5"/>
<polygon points="860.3,624.4 872.1,627.0 878.5,622.5 866.7,620.0" fill="#5f3cff"/>
<polygon points="913.4,646.8 925.2,649.4 931.6,644.9 919.7,642.3" fill="#7d19ff"/>
<polygon points="955.0,658.3 966.8,660.9 973.1,656.4 961.2,653.8" fill="#8a07ff"/>
<polygon points="729.0,602.6 740.7,605.2 747.3,600.7 735.6,598.2" fill="#335cff"/>
<polygon points="1063.0,658.5 1075.0,661.1 1081.1,656.6 1069.2,654.0" fill="#8a07ff"/>
<polygon points="564.6,495.3 576.4,522.9 583.2,518.6 571.5,491.1" fill="#00c7e8"/>
<polygon points="611.2,547.1 622.8,549.6 629.5,545.2 617.9,542.7" fill="#00a1f4"/>
<polygon points="717.5,583.5 729.0,602.6 735.6,598.2 724.1,579.1" fill="#006bfd"/>
<polygon points="984.9,659.0 996.8,661.6 1003.1,657.1 991.2,654.5" fill="#8a07ff"/>
<polygon points="652.7,558.6 664.3,561.1 671.0,556.7 659.4,554.2" fill="#0095f6"/>
<polygon points="705.8,580.9 717.5,583.5 724.1,579.1 712.5,576.5" fill="#0079fb"/>
<polygon points="759.0,603.3 770.7,605.8 777.2,601.4 765.5,598.8" fill="#335cff"/>
<polygon points="812.1,625.6 823.9,628.2 830.3,623.7 818.6,621.2" fill="#5f3cff"/>
<polygon points="548.1,461.0 559.8,480.2 566.7,475.9 555.0,456.7" fill="#00e5d9"/>
<polygon points="543.2,429.1 555.0,456.7 561.8,452.5 550.0,424.9" fill="#00f3ce"/>
<polygon points="581.2,538.1 592.8,548.9 599.6,544.6 588.0,533.7" fill="#00a6f2"/>
<polygon points="538.3,405.6 550.0,424.9 556.8,420.7 545.1,401.4" fill="#00fcc0"/>
<polygon points="1075.0,661.1 1086.5,671.9 1092.7,667.4 1081.1,656.6" fill="#9101ff"/>
<polygon points="1014.9,659.7 1026.8,662.3 1033.0,657.8 1021.1,655.2" fill="#8a07ff"/>
<polygon points="548.5,295.3 560.3,323.2 567.2,319.2 555.4,291.3" fill="#b9e884"/>
<polygon points="569.6,527.2 581.2,538.1 588.0,533.7 576.4,522.9" fill="#00b2ef"/>
<polygon points="842.1,626.3 853.9,628.9 860.3,624.4 848.5,621.8" fill="#5f3cff"/>
<polygon points="675.9,572.0 687.6,582.8 694.2,578.4 682.6,567.6" fill="#007ffa"/>
<polygon points="782.3,616.7 793.9,627.5 800.4,623.0 788.8,612.2" fill="#5842ff"/>
<polygon points="551.9,188.8 564.1,251.4 570.9,247.4 558.8,184.9" fill="#ff9a4a"/>
<polygon points="664.3,561.1 675.9,572.0 682.6,567.6 671.0,556.7" fill="#008df8"/>
<polygon points="770.7,605.8 782.3,616.7 788.8,612.2 777.2,601.4" fill="#4352ff"/>
<polygon points="1045.0,660.4 1056.9,663.0 1063.0,658.5 1051.1,655.9" fill="#8a07ff"/>
<polygon points="872.1,627.0 883.9,629.6 890.2,625.1 878.5,622.5" fill="#5f3cff"/>
<polygon points="925.2,649.4 937.1,652.0 943.4,647.5 931.6,644.9" fill="#7d19ff"/>
<polygon points="592.8,548.9 604.4,551.4 611.2,547.1 599.6,544.6" fill="#00a1f4"/>
<polygon points="966.8,660.9 978.7,663.5 984.9,659.0 973.1,656.4" fill="#8a07ff"/>
<polygon points="687.6,582.8 699.2,585.3 705.8,580.9 694.2,578.4" fill="#0079fb"/>
<polygon points="740.7,605.2 752.4,607.7 759.0,603.3 747.3,600.7" fill="#335cff"/>
<polygon points="793.9,627.5 805.6,630.1 812.1,625.6 800.4,623.0" fill="#5f3cff"/>
<polygon points="539.8,335.5 552.0,397.2 558.8,393.1 546.7,331.4" fill="#34fda5"/>
<polygon points="622.8,549.6 634.4,552.1 641.1,547.7 629.5,545.2" fill="#00a1f4"/>
<polygon points="895.5,640.4 907.1,651.3 913.4,646.8 901.8,635.9" fill="#7820ff"/>
<polygon points="543.6,263.3 555.4,291.3 562.2,287.3 550.4,259.3" fill="#edd06f"/>
<polygon points="996.8,661.6 1008.7,664.2 1014.9,659.7 1003.1,657.1" fill="#8a07ff"/>
<polygon points="883.9,629.6 895.5,640.4 901.8,635.9 890.2,625.1" fill="#6932ff"/>
<polygon points="937.1,652.0 948.7,662.8 955.0,658.3 943.4,647.5" fill="#850eff"/>
<polygon points="823.9,628.2 835.6,630.8 842.1,626.3 830.3,623.7" fill="#5f3cff"/>
<polygon points="553.0,484.5 564.6,495.3 571.5,491.1 559.8,480.2" fill="#00d9e0"/>
<polygon points="1026.8,662.3 1038.8,664.9 1045.0,660.4 1033.0,657.8" fill="#8a07ff"/>
<polygon points="634.4,552.1 646.0,563.0 652.7,558.6 641.1,547.7" fill="#009af5"/>
<polygon points="853.9,628.9 865.7,631.5 872.1,627.0 860.3,624.4" fill="#5f3cff"/>
<polygon points="907.1,651.3 918.9,653.9 925.2,649.4 913.4,646.8" fill="#7d19ff"/>
<polygon points="948.7,662.8 960.5,665.4 966.8,660.9 955.0,658.3" fill="#8a07ff"/>
<polygon points="722.4,607.0 734.1,609.6 740.7,605.2 729.0,602.6" fill="#335cff"/>
<polygon points="1056.9,663.0 1068.8,665.6 1075.0,661.1 1063.0,658.5" fill="#8a07ff"/>
<polygon points="557.8,499.7 569.6,527.2 576.4,522.9 564.6,495.3" fill="#00c7e8"/>
<polygon points="604.4,551.4 616.0,554.0 622.8,549.6 611.2,547.1" fill="#00a1f4"/>
<polygon points="710.9,587.9 722.4,607.0 729.0,602.6 717.5,583.5" fill="#006bfd"/>
<polygon points="978.7,663.5 990.6,666.1 996.8,661.6 984.9,659.0" fill="#8a07ff"/>
<polygon points="646.0,563.0 657.6,565.5 664.3,561.1 652.7,558.6" fill="#0095f6"/>
<polygon points="699.2,585.3 710.9,587.9 717.5,583.5 705.8,580.9" fill="#0079fb"/>
<polygon points="752.4,607.7 764.1,610.3 770.7,605.8 759.0,603.3" fill="#335cff"/>
<polygon points="805.6,630.1 817.4,632.7 823.9,628.2 812.1,625.6" fill="#5f3cff"/>
<polygon points="541.3,465.2 553.0,484.5 559.8,480.2 548.1,461.0" fill="#00e5d9"/>
<polygon points="536.3,433.3 548.1,461.0 555.0,456.7 543.2,429.1" fill="#00f3ce"/>
<polygon points="574.4,542.4 586.0,553.3 592.8,548.9 581.2,538.1" fill="#00a6f2"/>
<polygon points="531.4,409.7 543.2,429.1 550.0,424.9 538.3,405.6" fill="#00fcc0"/>
<polygon points="1068.8,665.6 1080.4,676.5 1086.5,671.9 1075.0,661.1" fill="#9101ff"/>
<polygon points="1008.7,664.2 1020.6,666.8 1026.8,662.3 1014.9,659.7" fill="#8a07ff"/>
<polygon points="541.7,299.3 553.5,327.3 560.3,323.2 548.5,295.3" fill="#b9e884"/>
<polygon points="562.8,531.6 574.4,542.4 581.2,538.1 569.6,527.2" fill="#00b2ef"/>
<polygon points="835.6,630.8 847.4,633.4 853.9,628.9 842.1,626.3" fill="#5f3cff"/>
<polygon points="669.3,576.4 680.9,587.2 687.6,582.8 675.9,572.0" fill="#007ffa"/>
<polygon points="775.8,621.2 787.4,632.0 793.9,627.5 782.3,616.7" fill="#5842ff"/>
<polygon points="545.1,192.7 557.3,255.3 564.1,251.4 551.9,188.8" fill="#ff9a4a"/>
<polygon points="657.6,565.5 669.3,576.4 675.9,572.0 664.3,561.1" fill="#008df8"/>
<polygon points="764.1,610.3 775.8,621.2 782.3,616.7 770.7,605.8" fill="#4352ff"/>
<polygon points="1038.8,664.9 1050.7,667.5 1056.9,663.0 1045.0,660.4" fill="#8a07ff"/>
<polygon points="865.7,631.5 877.5,634.1 883.9,629.6 872.1,627.0" fill="#5f3cff"/>
<polygon points="918.9,653.9 930.7,656.5 937.1,652.0 925.2,649.4" fill="#7d19ff"/>
<polygon points="586.0,553.3 597.6,555.8 604.4,551.4 592.8,548.9" fill="#00a1f4"/>
<polygon points="960.5,665.4 972.4,668.0 978.7,663.5 966.8,660.9" fill="#8a07ff"/>
<polygon points="680.9,587.2 692.5,589.8 699.2,585.3 687.6,582.8" fill="#0079fb"/>
<polygon points="734.1,609.6 745.8,612.2 752.4,607.7 740.7,605.2" fill="#335cff"/>
<polygon points="787.4,632.0 799.1,634.6 805.6,630.1 793.9,627.5" fill="#5f3cff"/>
<polygon points="532.9,339.5 545.1,401.4 552.0,397.2 539.8,335.5" fill="#34fda5"/>
<polygon points="616.0,554.0 627.6,556.5 634.4,552.1 622.8,549.6" fill="#00a1f4"/>
<polygon points="889.1,644.9 900.7,655.8 907.1,651.3 895.5,640.4" fill="#7820ff"/>
<polygon points="536.7,267.3 548.5,295.3 555.4,291.3 543.6,263.3" fill="#edd06f"/>
<polygon points="990.6,666.1 1002.5,668.7 1008.7,664.2 996.8,661.6" fill="#8a07ff"/>
<polygon points="877.5,634.1 889.1,644.9 895.5,640.4 883.9,629.6" fill="#6932ff"/>
<polygon points="930.7,656.5 942.3,667.3 948.7,662.8 937.1,652.0" fill="#850eff"/>
<polygon points="817.4,632.7 829.2,635.3 835.6,630.8 823.9,628.2" fill="#5f3cff"/>
<polygon points="546.1,488.8 557.8,499.7 564.6,495.3 553.0,484.5" fill="#00d9e0"/>
<polygon points="1020.6,666.8 1032.6,669.5 1038.8,664.9 1026.8,662.3" fill="#8a07ff"/>
<polygon points="627.6,556.5 639.3,567.4 646.0,563.0 634.4,552.1" fill="#009af5"/>
<polygon points="847.4,633.4 859.2,636.0 865.7,631.5 853.9,628.9" fill="#5f3cff"/>
<polygon points="900.7,655.8 912.5,658.4 918.9,653.9 907.1,651.3" fill="#7d19ff"/>
<polygon points="942.3,667.3 954.2,670.0 960.5,665.4 948.7,662.8" fill="#8a07ff"/>
<polygon points="715.8,611.5 727.5,614.1 734.1,609.6 722.4,607.0" fill="#335cff"/>
<polygon points="1050.7,667.5 1062.7,670.2 1068.8,665.6 1056.9,663.0" fill="#8a07ff"/>
<polygon points="550.9,504.0 562.8,531.6 569.6,527.2 557.8,499.7" fill="#00c7e8"/>
<polygon points="597.6,555.8 609.2,558.4 616.0,554.0 604.4,551.4" fill="#00a1f4"/>
<polygon points="704.2,592.3 715.8,611.5 722.4,607.0 710.9,587.9" fill="#006bfd"/>
<polygon points="972.4,668.0 984.3,670.7 990.6,666.1 978.7,663.5" fill="#8a07ff"/>
<polygon points="639.3,567.4 650.9,569.9 657.6,565.5 646.0,563.0" fill="#0095f6"/>
<polygon points="692.5,589.8 704.2,592.3 710.9,587.9 699.2,585.3" fill="#0079fb"/>
<polygon points="745.8,612.2 757.6,614.8 764.1,610.3 752.4,607.7" fill="#335cff"/>
<polygon points="799.1,634.6 810.9,637.2 817.4,632.7 805.6,630.1" fill="#5f3cff"/>
<polygon points="534.4,469.5 546.1,488.8 553.0,484.5 541.3,465.2" fill="#00e5d9"/>
<polygon points="529.4,437.5 541.3,465.2 548.1,461.0 536.3,433.3" fill="#00f3ce"/>
<polygon points="567.6,546.8 579.2,557.7 586.0,553.3 574.4,542.4" fill="#00a6f2"/>
<polygon points="524.5,413.9 536.3,433.3 543.2,429.1 531.4,409.7" fill="#00fcc0"/>
<polygon points="1062.7,670.2 1074.3,681.0 1080.4,676.5 1068.8,665.6" fill="#9101ff"/>
<polygon points="1002.5,668.7 1014.4,671.4 1020.6,666.8 1008.7,664.2" fill="#8a07ff"/>
<polygon points="534.8,303.4 546.7,331.4 553.5,327.3 541.7,299.3" fill="#b9e884"/>
<polygon points="555.9,535.9 567.6,546.8 574.4,542.4 562.8,531.6" fill="#00b2ef"/>
<polygon points="829.2,635.3 841.0,637.9 847.4,633.4 835.6,630.8" fill="#5f3cff"/>
<polygon points="662.6,580.8 674.2,591.7 680.9,587.2 669.3,576.4" fill="#007ffa"/>
<polygon points="769.2,625.6 780.8,636.5 787.4,632.0 775.8,621.2" fill="#5842ff"/>
<polygon points="538.2,196.6 550.4,259.3 557.3,255.3 545.1,192.7" fill="#ff9a4a"/>
<polygon points="650.9,569.9 662.6,580.8 669.3,576.4 657.6,565.5" fill="#008df8"/>
<polygon points="757.6,614.8 769.2,625.6 775.8,621.2 764.1,610.3" fill="#4352ff"/>
<polygon points="1032.6,669.5 1044.5,672.1 1050.7,667.5 1038.8,664.9" fill="#8a07ff"/>
<polygon points="859.2,636.0 871.0,638.6 877.5,634.1 865.7,631.5" fill="#5f3cff"/>
<polygon points="912.5,658.4 924.4,661.0 930.7,656.5 918.9,653.9" fill="#7d19ff"/>
<polygon points="579.2,557.7 590.8,560.2 597.6,555.8 586.0,553.3" fill="#00a1f4"/>
<polygon points="954.2,670.0 966.1,672.6 972.4,668.0 960.5,665.4" fill="#8a07ff"/>
<polygon points="674.2,591.7 685.9,594.2 692.5,589.8 680.9,587.2" fill="#0079fb"/>
<polygon points="727.5,614.1 739.2,616.7 745.8,612.2 734.1,609.6" fill="#335cff"/>
<polygon points="780.8,636.5 792.6,639.1 799.1,634.6 787.4,632.0" fill="#5f3cff"/>
<polygon points="526.0,343.7 538.3,405.6 545.1,401.4 532.9,339.5" fill="#34fda5"/>
<polygon points="609.2,558.4 620.9,560.9 627.6,556.5 616.0,554.0" fill="#00a1f4"/>
<polygon points="882.7,649.5 894.3,660.3 900.7,655.8 889.1,644.9" fill="#7820ff"/>
<polygon points="529.8,271.3 541.7,299.3 548.5,295.3 536.7,267.3" fill="#edd06f"/>
<polygon points="984.3,670.7 996.2,673.3 1002.5,668.7 990.6,666.1" fill="#8a07ff"/>
<polygon points="871.0,638.6 882.7,649.5 889.1,644.9 877.5,634.1" fill="#6932ff"/>
<polygon points="924.4,661.0 936.0,671.9 942.3,667.3 930.7,656.5" fill="#850eff"/>
<polygon points="810.9,637.2 822.7,639.8 829.2,635.3 817.4,632.7" fill="#5f3cff"/>
<polygon points="539.3,493.1 550.9,504.0 557.8,499.7 546.1,488.8" fill="#00d9e0"/>
<polygon points="1014.4,671.4 1026.4,674.0 1032.6,669.5 1020.6,666.8" fill="#8a07ff"/>
<polygon points="620.9,560.9 632.5,571.8 639.3,567.4 627.6,556.5" fill="#009af5"/>
<polygon points="841.0,637.9 852.8,640.5 859.2,636.0 847.4,633.4" fill="#5f3cff"/>
<polygon points="894.3,660.3 906.2,662.9 912.5,658.4 900.7,655.8" fill="#7d19ff"/>
<polygon points="936.0,671.9 947.9,674.5 954.2,670.0 942.3,667.3" fill="#8a07ff"/>
<polygon points="709.2,616.0 720.9,618.6 727.5,614.1 715.8,611.5" fill="#335cff"/>
<polygon points="1044.5,672.1 1056.5,674.7 1062.7,670.2 1050.7,667.5" fill="#8a07ff"/>
<polygon points="544.1,508.3 555.9,535.9 562.8,531.6 550.9,504.0" fill="#00c7e8"/>
<polygon points="590.8,560.2 602.4,562.8 609.2,558.4 597.6,555.8" fill="#00a1f4"/>
<polygon points="697.6,596.8 709.2,616.0 715.8,611.5 704.2,592.3" fill="#006bfd"/>
<polygon points="966.1,672.6 978.0,675.2 984.3,670.7 972.4,668.0" fill="#8a07ff"/>
<polygon points="632.5,571.8 644.2,574.3 650.9,569.9 639.3,567.4" fill="#0095f6"/>
<polygon points="685.9,594.2 697.6,596.8 704.2,592.3 692.5,589.8" fill="#0079fb"/>
<polygon points="739.2,616.7 751.0,619.2 757.6,614.8 745.8,612.2" fill="#335cff"/>
<polygon points="792.6,639.1 804.4,641.7 810.9,637.2 799.1,634.6" fill="#5f3cff"/>
<polygon points="527.5,473.8 539.3,493.1 546.1,488.8 534.4,469.5" fill="#00e5d9"/>
<polygon points="522.5,441.7 534.4,469.5 541.3,465.2 529.4,437.5" fill="#00f3ce"/>
<polygon points="560.7,551.2 572.4,562.1 579.2,557.7 567.6,546.8" fill="#00a6f2"/>
<polygon points="517.6,418.1 529.4,437.5 536.3,433.3 524.5,413.9" fill="#00fcc0"/>
<polygon points="1056.5,674.7 1068.1,685.6 1074.3,681.0 1062.7,670.2" fill="#9101ff"/>
<polygon points="996.2,673.3 1008.2,675.9 1014.4,671.4 1002.5,668.7" fill="#8a07ff"/>
<polygon points="527.9,307.4 539.8,335.5 546.7,331.4 534.8,303.4" fill="#b9e884"/>
<polygon points="549.0,540.3 560.7,551.2 567.6,546.8 555.9,535.9" fill="#00b2ef"/>
<polygon points="822.7,639.8 834.5,642.4 841.0,637.9 829.2,635.3" fill="#5f3cff"/>
<polygon points="655.8,585.2 667.5,596.1 674.2,591.7 662.6,580.8" fill="#007ffa"/>
<polygon points="762.6,630.1 774.3,641.0 780.8,636.5 769.2,625.6" fill="#5842ff"/>
<polygon points="531.3,200.5 543.6,263.3 550.4,259.3 538.2,196.6" fill="#ff9a4a"/>
<polygon points="540.0,151.8 551.9,188.8 558.8,184.9 546.9,148.0" fill="#ff4c1f"/>
<polygon points="644.2,574.3 655.8,585.2 662.6,580.8 650.9,569.9" fill="#008df8"/>
<polygon points="751.0,619.2 762.6,630.1 769.2,625.6 757.6,614.8" fill="#4352ff"/>
<polygon points="1026.4,674.0 1038.3,676.6 1044.5,672.1 1032.6,669.5" fill="#8a07ff"/>
<polygon points="852.8,640.5 864.6,643.1 871.0,638.6 859.2,636.0" fill="#5f3cff"/>
<polygon points="906.2,662.9 918.0,665.6 924.4,661.0 912.5,658.4" fill="#7d19ff"/>
<polygon points="572.4,562.1 584.0,564.6 590.8,560.2 579.2,557.7" fill="#00a1f4"/>
<polygon points="947.9,674.5 959.8,677.2 966.1,672.6 954.2,670.0" fill="#8a07ff"/>
<polygon points="667.5,596.1 679.2,598.7 685.9,594.2 674.2,591.7" fill="#0079fb"/>
<polygon points="720.9,618.6 732.6,621.1 739.2,616.7 727.5,614.1" fill="#335cff"/>
<polygon points="774.3,641.0 786.0,643.6 792.6,639.1 780.8,636.5" fill="#5f3cff"/>
<polygon points="519.0,347.8 531.4,409.7 538.3,405.6 526.0,343.7" fill="#34fda5"/>
<polygon points="602.4,562.8 614.1,565.3 620.9,560.9 609.2,558.4" fill="#00a1f4"/>
<polygon points="876.2,654.0 887.9,664.9 894.3,660.3 882.7,649.5" fill="#7820ff"/>
<polygon points="522.9,275.3 534.8,303.4 541.7,299.3 529.8,271.3" fill="#edd06f"/>
<polygon points="978.0,675.2 990.0,677.9 996.2,673.3 984.3,670.7" fill="#8a07ff"/>
<polygon points="864.6,643.1 876.2,654.0 882.7,649.5 871.0,638.6" fill="#6932ff"/>
<polygon points="918.0,665.6 929.7,676.5 936.0,671.9 924.4,661.0" fill="#850eff"/>
<polygon points="804.4,641.7 816.2,644.3 822.7,639.8 810.9,637.2" fill="#5f3cff"/>
<polygon points="532.4,497.4 544.1,508.3 550.9,504.0 539.3,493.1" fill="#00d9e0"/>
<polygon points="1008.2,675.9 1020.1,678.6 1026.4,674.0 1014.4,671.4" fill="#8a07ff"/>
<polygon points="614.1,565.3 625.7,576.2 632.5,571.8 620.9,560.9" fill="#009af5"/>
<polygon points="834.5,642.4 846.3,645.0 852.8,640.5 841.0,637.9" fill="#5f3cff"/>
<polygon points="887.9,664.9 899.8,667.5 906.2,662.9 894.3,660.3" fill="#7d19ff"/>
<polygon points="929.7,676.5 941.6,679.1 947.9,674.5 936.0,671.9" fill="#8a07ff"/>
<polygon points="702.5,620.4 714.2,623.0 720.9,618.6 709.2,616.0" fill="#335cff"/>
<polygon points="1038.3,676.6 1050.3,679.3 1056.5,674.7 1044.5,672.1" fill="#8a07ff"/>
<polygon points="537.2,512.6 549.0,540.3 555.9,535.9 544.1,508.3" fill="#00c7e8"/>
<polygon points="584.0,564.6 595.6,567.2 602.4,562.8 590.8,560.2" fill="#00a1f4"/>
<polygon points="690.9,601.3 702.5,620.4 709.2,616.0 697.6,596.8" fill="#006bfd"/>
<polygon points="959.8,677.2 971.7,679.8 978.0,675.2 966.1,672.6" fill="#8a07ff"/>
<polygon points="625.7,576.2 637.4,578.8 644.2,574.3 632.5,571.8" fill="#0095f6"/>
<polygon points="679.2,598.7 690.9,601.3 697.6,596.8 685.9,594.2" fill="#0079fb"/>
<polygon points="732.6,621.1 744.4,623.7 751.0,619.2 739.2,616.7" fill="#335cff"/>
<polygon points="786.0,643.6 797.8,646.2 804.4,641.7 792.6,639.1" fill="#5f3cff"/>
<polygon points="520.6,478.1 532.4,497.4 539.3,493.1 527.5,473.8" fill="#00e5d9"/>
<polygon points="515.6,446.0 527.5,473.8 534.4,469.5 522.5,441.7" fill="#00f3ce"/>
<polygon points="553.8,555.6 565.5,566.5 572.4,562.1 560.7,551.2" fill="#00a6f2"/>
<polygon points="510.7,422.4 522.5,441.7 529.4,437.5 517.6,418.1" fill="#00fcc0"/>
<polygon points="1050.3,679.3 1062.0,690.2 1068.1,685.6 1056.5,674.7" fill="#9101ff"/>
<polygon points="990.0,677.9 1001.9,680.5 1008.2,675.9 996.2,673.3" fill="#8a07ff"/>
<polygon points="521.0,311.5 532.9,339.5 539.8,335.5 527.9,307.4" fill="#b9e884"/>
<polygon points="542.2,544.7 553.8,555.6 560.7,551.2 549.0,540.3" fill="#00b2ef"/>
<polygon points="816.2,644.3 828.0,646.9 834.5,642.4 822.7,639.8" fill="#5f3cff"/>
<polygon points="649.1,589.7 660.8,600.6 667.5,596.1 655.8,585.2" fill="#007ffa"/>
<polygon points="756.0,634.6 767.7,645.5 774.3,641.0 762.6,630.1" fill="#5842ff"/>
<polygon points="524.3,204.4 536.7,267.3 543.6,263.3 531.3,200.5" fill="#ff9a4a"/>
<polygon points="533.1,155.7 545.1,192.7 551.9,188.8 540.0,151.8" fill="#ff4c1f"/>
<polygon points="637.4,578.8 649.1,589.7 655.8,585.2 644.2,574.3" fill="#008df8"/>
<polygon points="744.4,623.7 756.0,634.6 762.6,630.1 751.0,619.2" fill="#4352ff"/>
<polygon points="1020.1,678.6 1032.1,681.2 1038.3,676.6 1026.4,674.0" fill="#8a07ff"/>
<polygon points="846.3,645.0 858.1,647.6 864.6,643.1 852.8,640.5" fill="#5f3cff"/>
<polygon points="899.8,667.5 911.6,670.1 918.0,665.6 906.2,662.9" fill="#7d19ff"/>
<polygon points="565.5,566.5 577.1,569.0 584.0,564.6 572.4,562.1" fill="#00a1f4"/>
<polygon points="941.6,679.1 953.5,681.7 959.8,677.2 947.9,674.5" fill="#8a07ff"/>
<polygon points="660.8,600.6 672.5,603.1 679.2,598.7 667.5,596.1" fill="#0079fb"/>
<polygon points="714.2,623.0 726.0,625.6 732.6,621.1 720.9,618.6" fill="#335cff"/>
<polygon points="767.7,645.5 779.5,648.1 786.0,643.6 774.3,641.0" fill="#5f3cff"/>
<polygon points="512.1,351.9 524.5,413.9 531.4,409.7 519.0,347.8" fill="#34fda5"/>
<polygon points="595.6,567.2 607.3,569.7 614.1,565.3 602.4,562.8" fill="#00a1f4"/>
<polygon points="869.8,658.5 881.5,669.4 887.9,664.9 876.2,654.0" fill="#7820ff"/>
<polygon points="515.9,279.3 527.9,307.4 534.8,303.4 522.9,275.3" fill="#edd06f"/>
<polygon points="971.7,679.8 983.7,682.4 990.0,677.9 978.0,675.2" fill="#8a07ff"/>
<polygon points="858.1,647.6 869.8,658.5 876.2,654.0 864.6,643.1" fill="#6932ff"/>
<polygon points="911.6,670.1 923.3,681.0 929.7,676.5 918.0,665.6" fill="#850eff"/>
<polygon points="797.8,646.2 809.6,648.8 816.2,644.3 804.4,641.7" fill="#5f3cff"/>
<polygon points="525.5,501.7 537.2,512.6 544.1,508.3 532.4,497.4" fill="#00d9e0"/>
<polygon points="1001.9,680.5 1013.9,683.2 1020.1,678.6 1008.2,675.9" fill="#8a07ff"/>
<polygon points="607.3,569.7 619.0,580.6 625.7,576.2 614.1,565.3" fill="#009af5"/>
<polygon points="828.0,646.9 839.8,649.5 846.3,645.0 834.5,642.4" fill="#5f3cff"/>
<polygon points="881.5,669.4 893.3,672.1 899.8,667.5 887.9,664.9" fill="#7d19ff"/>
<polygon points="923.3,681.0 935.2,683.7 941.6,679.1 929.7,676.5" fill="#8a07ff"/>
<polygon points="695.8,624.9 707.6,627.5 714.2,623.0 702.5,620.4" fill="#335cff"/>
<polygon points="1032.1,681.2 1044.1,683.9 1050.3,679.3 1038.3,676.6" fill="#8a07ff"/>
<polygon points="530.2,517.0 542.2,544.7 549.0,540.3 537.2,512.6" fill="#00c7e8"/>
<polygon points="577.1,569.0 588.8,571.6 595.6,567.2 584.0,564.6" fill="#00a1f4"/>
<polygon points="684.2,605.7 695.8,624.9 702.5,620.4 690.9,601.3" fill="#006bfd"/>
<polygon points="528.1,123.4 540.0,151.8 546.9,148.0 535.0,119.5" fill="#ff0e03"/>
<polygon points="953.5,681.7 965.4,684.4 971.7,679.8 959.8,677.2" fill="#8a07ff"/>
<polygon points="619.0,580.6 630.6,583.2 637.4,578.8 625.7,576.2" fill="#0095f6"/>
<polygon points="672.5,603.1 684.2,605.7 690.9,601.3 679.2,598.7" fill="#0079fb"/>
<polygon points="726.0,625.6 737.7,628.2 744.4,623.7 732.6,621.1" fill="#335cff"/>
<polygon points="779.5,648.1 791.3,650.8 797.8,646.2 786.0,643.6" fill="#5f3cff"/>
<polygon points="513.6,482.4 525.5,501.7 532.4,497.4 520.6,478.1" fill="#00e5d9"/>
<polygon points="508.6,450.3 520.6,478.1 527.5,473.8 515.6,446.0" fill="#00f3ce"/>
<polygon points="547.0,560.0 558.7,570.9 565.5,566.5 553.8,555.6" fill="#00a6f2"/>
<polygon points="503.7,426.6 515.6,446.0 522.5,441.7 510.7,422.4" fill="#00fcc0"/>
<polygon points="1044.1,683.9 1055.8,694.8 1062.0,690.2 1050.3,679.3" fill="#9101ff"/>
<polygon points="983.7,682.4 995.6,685.1 1001.9,680.5 990.0,677.9" fill="#8a07ff"/>
<polygon points="514.0,315.6 526.0,343.7 532.9,339.5 521.0,311.5" fill="#b9e884"/>
<polygon points="535.2,549.1 547.0,560.0 553.8,555.6 542.2,544.7" fill="#00b2ef"/>
<polygon points="809.6,648.8 821.5,651.5 828.0,646.9 816.2,644.3" fill="#5f3cff"/>
<polygon points="642.3,594.1 654.0,605.0 660.8,600.6 649.1,589.7" fill="#007ffa"/>
<polygon points="749.4,639.2 761.1,650.1 767.7,645.5 756.0,634.6" fill="#5842ff"/>
<polygon points="517.4,208.4 529.8,271.3 536.7,267.3 524.3,204.4" fill="#ff9a4a"/>
<polygon points="526.1,159.5 538.2,196.6 545.1,192.7 533.1,155.7" fill="#ff4c1f"/>
<polygon points="630.6,583.2 642.3,594.1 649.1,589.7 637.4,578.8" fill="#008df8"/>
<polygon points="737.7,628.2 749.4,639.2 756.0,634.6 744.4,623.7" fill="#4352ff"/>
<polygon points="1013.9,683.2 1025.9,685.8 1032.1,681.2 1020.1,678.6" fill="#8a07ff"/>
<polygon points="839.8,649.5 851.7,652.2 858.1,647.6 846.3,645.0" fill="#5f3cff"/>
<polygon points="893.3,672.1 905.2,674.7 911.6,670.1 899.8,667.5" fill="#7d19ff"/>
<polygon points="558.7,570.9 570.3,573.5 577.1,569.0 565.5,566.5" fill="#00a1f4"/>
<polygon points="935.2,683.7 947.1,686.3 953.5,681.7 941.6,679.1" fill="#8a07ff"/>
<polygon points="654.0,605.0 665.7,607.6 672.5,603.1 660.8,600.6" fill="#0079fb"/>
<polygon points="707.6,627.5 719.3,630.2 726.0,625.6 714.2,623.0" fill="#335cff"/>
<polygon points="761.1,650.1 772.9,652.7 779.5,648.1 767.7,645.5" fill="#5f3cff"/>
<polygon points="505.1,356.1 517.6,418.1 524.5,413.9 512.1,351.9" fill="#34fda5"/>
<polygon points="588.8,571.6 600.4,574.2 607.3,569.7 595.6,567.2" fill="#00a1f4"/>
<polygon points="863.3,663.1 875.0,674.0 881.5,669.4 869.8,658.5" fill="#7820ff"/>
<polygon points="509.0,283.3 521.0,311.5 527.9,307.4 515.9,279.3" fill="#edd06f"/>
<polygon points="965.4,684.4 977.4,687.0 983.7,682.4 971.7,679.8" fill="#8a07ff"/>
<polygon points="851.7,652.2 863.3,663.1 869.8,658.5 858.1,647.6" fill="#6932ff"/>
<polygon points="905.2,674.7 916.9,685.6 923.3,681.0 911.6,670.1" fill="#850eff"/>
<polygon points="791.3,650.8 803.1,653.4 809.6,648.8 797.8,646.2" fill="#5f3cff"/>
<polygon points="518.5,506.1 530.2,517.0 537.2,512.6 525.5,501.7" fill="#00d9e0"/>
<polygon points="995.6,685.1 1007.6,687.7 1013.9,683.2 1001.9,680.5" fill="#8a07ff"/>
<polygon points="600.4,574.2 612.2,585.1 619.0,580.6 607.3,569.7" fill="#009af5"/>
<polygon points="821.5,651.5 833.3,654.1 839.8,649.5 828.0,646.9" fill="#5f3cff"/>
<polygon points="875.0,674.0 886.9,676.6 893.3,672.1 881.5,669.4" fill="#7d19ff"/>
<polygon points="916.9,685.6 928.8,688.3 935.2,683.7 923.3,681.0" fill="#8a07ff"/>
<polygon points="689.1,629.5 700.9,632.1 707.6,627.5 695.8,624.9" fill="#335cff"/>
<polygon points="1025.9,685.8 1037.9,688.5 1044.1,683.9 1032.1,681.2" fill="#8a07ff"/>
<polygon points="523.3,521.4 535.2,549.1 542.2,544.7 530.2,517.0" fill="#00c7e8"/>
<polygon points="570.3,573.5 581.9,576.0 588.8,571.6 577.1,569.0" fill="#00a1f4"/>
<polygon points="677.5,610.2 689.1,629.5 695.8,624.9 684.2,605.7" fill="#006bfd"/>
<polygon points="521.1,127.2 533.1,155.7 540.0,151.8 528.1,123.4" fill="#ff0e03"/>
<polygon points="947.1,686.3 959.1,689.0 965.4,684.4 953.5,681.7" fill="#8a07ff"/>
<polygon points="612.2,585.1 623.8,587.7 630.6,583.2 619.0,580.6" fill="#0095f6"/>
<polygon points="665.7,607.6 677.5,610.2 684.2,605.7 672.5,603.1" fill="#0079fb"/>
<polygon points="719.3,630.2 731.1,632.8 737.7,628.2 726.0,625.6" fill="#335cff"/>
<polygon points="772.9,652.7 784.7,655.3 791.3,650.8 779.5,648.1" fill="#5f3cff"/>
<polygon points="506.7,486.7 518.5,506.1 525.5,501.7 513.6,482.4" fill="#00e5d9"/>
<polygon points="501.6,454.5 513.6,482.4 520.6,478.1 508.6,450.3" fill="#00f3ce"/>
<polygon points="540.0,564.4 551.8,575.4 558.7,570.9 547.0,560.0" fill="#00a6f2"/>
<polygon points="496.7,430.8 508.6,450.3 515.6,446.0 503.7,426.6" fill="#00fcc0"/>
<polygon points="1037.9,688.5 1049.6,699.4 1055.8,694.8 1044.1,683.9" fill="#9101ff"/>
<polygon points="977.4,687.0 989.4,689.7 995.6,685.1 983.7,682.4" fill="#8a07ff"/>
<polygon points="507.1,319.7 519.0,347.8 526.0,343.7 514.0,315.6" fill="#b9e884"/>
<polygon points="528.3,553.5 540.0,564.4 547.0,560.0 535.2,549.1" fill="#00b2ef"/>
<polygon points="803.1,653.4 814.9,656.0 821.5,651.5 809.6,648.8" fill="#5f3cff"/>
<polygon points="635.5,598.6 647.3,609.5 654.0,605.0 642.3,594.1" fill="#007ffa"/>
<polygon points="742.8,643.7 754.5,654.6 761.1,650.1 749.4,639.2" fill="#5842ff"/>
<polygon points="510.4,212.3 522.9,275.3 529.8,271.3 517.4,208.4" fill="#ff9a4a"/>
<polygon points="519.2,163.4 531.3,200.5 538.2,196.6 526.1,159.5" fill="#ff4c1f"/>
<polygon points="623.8,587.7 635.5,598.6 642.3,594.1 630.6,583.2" fill="#008df8"/>
<polygon points="731.1,632.8 742.8,643.7 749.4,639.2 737.7,628.2" fill="#4352ff"/>
<polygon points="1007.6,687.7 1019.6,690.4 1025.9,685.8 1013.9,683.2" fill="#8a07ff"/>
<polygon points="833.3,654.1 845.2,656.7 851.7,652.2 839.8,649.5" fill="#5f3cff"/>
<polygon points="886.9,676.6 898.8,679.3 905.2,674.7 893.3,672.1" fill="#7d19ff"/>
<polygon points="551.8,575.4 563.4,577.9 570.3,573.5 558.7,570.9" fill="#00a1f4"/>
<polygon points="928.8,688.3 940.8,690.9 947.1,686.3 935.2,683.7" fill="#8a07ff"/>
<polygon points="647.3,609.5 659.0,612.1 665.7,607.6 654.0,605.0" fill="#0079fb"/>
<polygon points="700.9,632.1 712.6,634.7 719.3,630.2 707.6,627.5" fill="#335cff"/>
<polygon points="754.5,654.6 766.3,657.2 772.9,652.7 761.1,650.1" fill="#5f3cff"/>
<polygon points="498.1,360.2 510.7,422.4 517.6,418.1 505.1,356.1" fill="#34fda5"/>
<polygon points="581.9,576.0 593.6,578.6 600.4,574.2 588.8,571.6" fill="#00a1f4"/>
<polygon points="856.9,667.6 868.6,678.6 875.0,674.0 863.3,663.1" fill="#7820ff"/>
<polygon points="502.0,287.4 514.0,315.6 521.0,311.5 509.0,283.3" fill="#edd06f"/>
<polygon points="959.1,689.0 971.1,691.6 977.4,687.0 965.4,684.4" fill="#8a07ff"/>
<polygon points="845.2,656.7 856.9,667.6 863.3,663.1 851.7,652.2" fill="#6932ff"/>
<polygon points="898.8,679.3 910.5,690.2 916.9,685.6 905.2,674.7" fill="#850eff"/>
<polygon points="784.7,655.3 796.5,657.9 803.1,653.4 791.3,650.8" fill="#5f3cff"/>
<polygon points="511.6,510.4 523.3,521.4 530.2,517.0 518.5,506.1" fill="#00d9e0"/>
<polygon points="989.4,689.7 1001.3,692.3 1007.6,687.7 995.6,685.1" fill="#8a07ff"/>
<polygon points="593.6,578.6 605.3,589.5 612.2,585.1 600.4,574.2" fill="#009af5"/>
<polygon points="814.9,656.0 826.8,658.6 833.3,654.1 821.5,651.5" fill="#5f3cff"/>
<polygon points="868.6,678.6 880.5,681.2 886.9,676.6 875.0,674.0" fill="#7d19ff"/>
<polygon points="910.5,690.2 922.4,692.9 928.8,688.3 916.9,685.6" fill="#8a07ff"/>
<polygon points="682.4,634.0 694.2,636.6 700.9,632.1 689.1,629.5" fill="#335cff"/>
<polygon points="1019.6,690.4 1031.7,693.1 1037.9,688.5 1025.9,685.8" fill="#8a07ff"/>
<polygon points="516.3,525.7 528.3,553.5 535.2,549.1 523.3,521.4" fill="#00c7e8"/>
<polygon points="563.4,577.9 575.1,580.5 581.9,576.0 570.3,573.5" fill="#00a1f4"/>
<polygon points="670.7,614.7 682.4,634.0 689.1,629.5 677.5,610.2" fill="#006bfd"/>
<polygon points="514.2,131.0 526.1,159.5 533.1,155.7 521.1,127.2" fill="#ff0e03"/>
<polygon points="940.8,690.9 952.7,693.6 959.1,689.0 947.1,686.3" fill="#8a07ff"/>
<polygon points="605.3,589.5 617.0,592.1 623.8,587.7 612.2,585.1" fill="#0095f6"/>
<polygon points="659.0,612.1 670.7,614.7 677.5,610.2 665.7,607.6" fill="#0079fb"/>
<polygon points="712.6,634.7 724.4,637.3 731.1,632.8 719.3,630.2" fill="#335cff"/>
<polygon points="766.3,657.2 778.1,659.9 784.7,655.3 772.9,652.7" fill="#5f3cff"/>
<polygon points="499.7,491.0 511.6,510.4 518.5,506.1 506.7,486.7" fill="#00e5d9"/>
<polygon points="494.6,458.8 506.7,486.7 513.6,482.4 501.6,454.5" fill="#00f3ce"/>
<polygon points="533.1,568.9 544.9,579.8 551.8,575.4 540.0,564.4" fill="#00a6f2"/>
<polygon points="489.7,435.1 501.6,454.5 508.6,450.3 496.7,430.8" fill="#00fcc0"/>
<polygon points="1031.7,693.1 1043.3,704.0 1049.6,699.4 1037.9,688.5" fill="#9101ff"/>
<polygon points="971.1,691.6 983.0,694.3 989.4,689.7 977.4,687.0" fill="#8a07ff"/>
<polygon points="500.1,323.8 512.1,351.9 519.0,347.8 507.1,319.7" fill="#b9e884"/>
<polygon points="521.4,557.9 533.1,568.9 540.0,564.4 528.3,553.5" fill="#00b2ef"/>
<polygon points="796.5,657.9 808.4,660.6 814.9,656.0 803.1,653.4" fill="#5f3cff"/>
<polygon points="628.8,603.1 640.5,614.0 647.3,609.5 635.5,598.6" fill="#007ffa"/>
<polygon points="736.1,648.2 747.9,659.2 754.5,654.6 742.8,643.7" fill="#5842ff"/>
<polygon points="503.4,216.3 515.9,279.3 522.9,275.3 510.4,212.3" fill="#ff9a4a"/>
<polygon points="512.2,167.3 524.3,204.4 531.3,200.5 519.2,163.4" fill="#ff4c1f"/>
<polygon points="617.0,592.1 628.8,603.1 635.5,598.6 623.8,587.7" fill="#008df8"/>
<polygon points="724.4,637.3 736.1,648.2 742.8,643.7 731.1,632.8" fill="#4352ff"/>
<polygon points="1001.3,692.3 1013.4,695.0 1019.6,690.4 1007.6,687.7" fill="#8a07ff"/>
<polygon points="826.8,658.6 838.7,661.3 845.2,656.7 833.3,654.1" fill="#5f3cff"/>
<polygon points="880.5,681.2 892.4,683.9 898.8,679.3 886.9,676.6" fill="#7d19ff"/>
<polygon points="544.9,579.8 556.5,582.4 563.4,577.9 551.8,575.4" fill="#00a1f4"/>
<polygon points="922.4,692.9 934.4,695.5 940.8,690.9 928.8,688.3" fill="#8a07ff"/>
<polygon points="640.5,614.0 652.2,616.6 659.0,612.1 647.3,609.5" fill="#0079fb"/>
<polygon points="694.2,636.6 705.9,639.2 712.6,634.7 700.9,632.1" fill="#335cff"/>
<polygon points="747.9,659.2 759.7,661.8 766.3,657.2 754.5,654.6" fill="#5f3cff"/>
<polygon points="491.1,364.4 503.7,426.6 510.7,422.4 498.1,360.2" fill="#34fda5"/>
<polygon points="575.1,580.5 586.7,583.1 593.6,578.6 581.9,576.0" fill="#00a1f4"/>
<polygon points="850.4,672.2 862.1,683.2 868.6,678.6 856.9,667.6" fill="#7820ff"/>
<polygon points="495.0,291.4 507.1,319.7 514.0,315.6 502.0,287.4" fill="#edd06f"/>
<polygon points="952.7,693.6 964.7,696.2 971.1,691.6 959.1,689.0" fill="#8a07ff"/>
<polygon points="838.7,661.3 850.4,672.2 856.9,667.6 845.2,656.7" fill="#6932ff"/>
<polygon points="892.4,683.9 904.1,694.8 910.5,690.2 898.8,679.3" fill="#850eff"/>
<polygon points="778.1,659.9 790.0,662.5 796.5,657.9 784.7,655.3" fill="#5f3cff"/>
<polygon points="504.6,514.8 516.3,525.7 523.3,521.4 511.6,510.4" fill="#00d9e0"/>
<polygon points="983.0,694.3 995.0,697.0 1001.3,692.3 989.4,689.7" fill="#8a07ff"/>
<polygon points="586.7,583.1 598.5,594.0 605.3,589.5 593.6,578.6" fill="#009af5"/>
<polygon points="808.4,660.6 820.2,663.2 826.8,658.6 814.9,656.0" fill="#5f3cff"/>
<polygon points="862.1,683.2 874.0,685.8 880.5,681.2 868.6,678.6" fill="#7d19ff"/>
<polygon points="904.1,694.8 916.0,697.5 922.4,692.9 910.5,690.2" fill="#8a07ff"/>
<polygon points="675.7,638.5 687.4,641.1 694.2,636.6 682.4,634.0" fill="#335cff"/>
<polygon points="1013.4,695.0 1025.4,697.7 1031.7,693.1 1019.6,690.4" fill="#8a07ff"/>
<polygon points="509.4,530.1 521.4,557.9 528.3,553.5 516.3,525.7" fill="#00c7e8"/>
<polygon points="556.5,582.4 568.2,585.0 575.1,580.5 563.4,577.9" fill="#00a1f4"/>
<polygon points="664.0,619.2 675.7,638.5 682.4,634.0 670.7,614.7" fill="#006bfd"/>
<polygon points="507.2,134.9 519.2,163.4 526.1,159.5 514.2,131.0" fill="#ff0e03"/>
<polygon points="934.4,695.5 946.4,698.2 952.7,693.6 940.8,690.9" fill="#8a07ff"/>
<polygon points="598.5,594.0 610.2,596.6 617.0,592.1 605.3,589.5" fill="#0095f6"/>
<polygon points="652.2,616.6 664.0,619.2 670.7,614.7 659.0,612.1" fill="#0079fb"/>
<polygon points="705.9,639.2 717.7,641.8 724.4,637.3 712.6,634.7" fill="#335cff"/>
<polygon points="759.7,661.8 771.5,664.4 778.1,659.9 766.3,657.2" fill="#5f3cff"/>
<polygon points="492.7,495.4 504.6,514.8 511.6,510.4 499.7,491.0" fill="#00e5d9"/>
<polygon points="487.6,463.1 499.7,491.0 506.7,486.7 494.6,458.8" fill="#00f3ce"/>
<polygon points="526.2,573.3 537.9,584.3 544.9,579.8 533.1,568.9" fill="#00a6f2"/>
<polygon points="482.7,439.3 494.6,458.8 501.6,454.5 489.7,435.1" fill="#00fcc0"/>
<polygon points="1025.4,697.7 1037.1,708.6 1043.3,704.0 1031.7,693.1" fill="#9101ff"/>
<polygon points="964.7,696.2 976.7,698.9 983.0,694.3 971.1,691.6" fill="#8a07ff"/>
<polygon points="493.1,327.9 505.1,356.1 512.1,351.9 500.1,323.8" fill="#b9e884"/>
<polygon points="514.4,562.3 526.2,573.3 533.1,568.9 521.4,557.9" fill="#00b2ef"/>
<polygon points="790.0,662.5 801.8,665.2 808.4,660.6 796.5,657.9" fill="#5f3cff"/>
<polygon points="621.9,607.6 633.7,618.5 640.5,614.0 628.8,603.1" fill="#007ffa"/>
<polygon points="729.5,652.8 741.2,663.7 747.9,659.2 736.1,648.2" fill="#5842ff"/>
<polygon points="496.4,220.3 509.0,283.3 515.9,279.3 503.4,216.3" fill="#ff9a4a"/>
<polygon points="505.2,171.2 517.4,208.4 524.3,204.4 512.2,167.3" fill="#ff4c1f"/>
<polygon points="610.2,596.6 621.9,607.6 628.8,603.1 617.0,592.1" fill="#008df8"/>
<polygon points="717.7,641.8 729.5,652.8 736.1,648.2 724.4,637.3" fill="#4352ff"/>
<polygon points="995.0,697.0 1007.1,699.6 1013.4,695.0 1001.3,692.3" fill="#8a07ff"/>
<polygon points="820.2,663.2 832.1,665.9 838.7,661.3 826.8,658.6" fill="#5f3cff"/>
<polygon points="874.0,685.8 885.9,688.5 892.4,683.9 880.5,681.2" fill="#7d19ff"/>
<polygon points="537.9,584.3 549.6,586.8 556.5,582.4 544.9,579.8" fill="#00a1f4"/>
<polygon points="916.0,697.5 928.0,700.2 934.4,695.5 922.4,692.9" fill="#8a07ff"/>
<polygon points="633.7,618.5 645.4,621.1 652.2,616.6 640.5,614.0" fill="#0079fb"/>
<polygon points="687.4,641.1 699.2,643.8 705.9,639.2 694.2,636.6" fill="#335cff"/>
<polygon points="741.2,663.7 753.0,666.4 759.7,661.8 747.9,659.2" fill="#5f3cff"/>
<polygon points="484.1,368.5 496.7,430.8 503.7,426.6 491.1,364.4" fill="#34fda5"/>
<polygon points="568.2,585.0 579.9,587.5 586.7,583.1 575.1,580.5" fill="#00a1f4"/>
<polygon points="843.9,676.8 855.6,687.8 862.1,683.2 850.4,672.2" fill="#7820ff"/>
<polygon points="488.0,295.5 500.1,323.8 507.1,319.7 495.0,291.4" fill="#edd06f"/>
<polygon points="946.4,698.2 958.4,700.9 964.7,696.2 952.7,693.6" fill="#8a07ff"/>
<polygon points="832.1,665.9 843.9,676.8 850.4,672.2 838.7,661.3" fill="#6932ff"/>
<polygon points="885.9,688.5 897.7,699.4 904.1,694.8 892.4,683.9" fill="#850eff"/>
<polygon points="771.5,664.4 783.4,667.1 790.0,662.5 778.1,659.9" fill="#5f3cff"/>
<polygon points="497.6,519.2 509.4,530.1 516.3,525.7 504.6,514.8" fill="#00d9e0"/>
<polygon points="976.7,698.9 988.7,701.6 995.0,697.0 983.0,694.3" fill="#8a07ff"/>
<polygon points="579.9,587.5 591.6,598.5 598.5,594.0 586.7,583.1" fill="#009af5"/>
<polygon points="801.8,665.2 813.7,667.8 820.2,663.2 808.4,660.6" fill="#5f3cff"/>
<polygon points="855.6,687.8 867.5,690.4 874.0,685.8 862.1,683.2" fill="#7d19ff"/>
<polygon points="897.7,699.4 909.6,702.1 916.0,697.5 904.1,694.8" fill="#8a07ff"/>
<polygon points="668.9,643.1 680.7,645.7 687.4,641.1 675.7,638.5" fill="#335cff"/>
<polygon points="1007.1,699.6 1019.1,702.3 1025.4,697.7 1013.4,695.0" fill="#8a07ff"/>
<polygon points="502.4,534.5 514.4,562.3 521.4,557.9 509.4,530.1" fill="#00c7e8"/>
<polygon points="549.6,586.8 561.3,589.4 568.2,585.0 556.5,582.4" fill="#00a1f4"/>
<polygon points="657.2,623.7 668.9,643.1 675.7,638.5 664.0,619.2" fill="#006bfd"/>
<polygon points="500.2,138.7 512.2,167.3 519.2,163.4 507.2,134.9" fill="#ff0e03"/>
<polygon points="928.0,700.2 940.0,702.8 946.4,698.2 934.4,695.5" fill="#8a07ff"/>
<polygon points="591.6,598.5 603.3,601.1 610.2,596.6 598.5,594.0" fill="#0095f6"/>
<polygon points="645.4,621.1 657.2,623.7 664.0,619.2 652.2,616.6" fill="#0079fb"/>
<polygon points="699.2,643.8 711.0,646.4 717.7,641.8 705.9,639.2" fill="#335cff"/>
<polygon points="753.0,666.4 764.9,669.0 771.5,664.4 759.7,661.8" fill="#5f3cff"/>
<polygon points="485.7,499.7 497.6,519.2 504.6,514.8 492.7,495.4" fill="#00e5d9"/>
<polygon points="480.6,467.4 492.7,495.4 499.7,491.0 487.6,463.1" fill="#00f3ce"/>
<polygon points="519.2,577.8 531.0,588.7 537.9,584.3 526.2,573.3" fill="#00a6f2"/>
<polygon points="475.7,443.6 487.6,463.1 494.6,458.8 482.7,439.3" fill="#00fcc0"/>
<polygon points="1019.1,702.3 1030.8,713.3 1037.1,708.6 1025.4,697.7" fill="#9101ff"/>
<polygon points="958.4,700.9 970.4,703.6 976.7,698.9 964.7,696.2" fill="#8a07ff"/>
<polygon points="486.1,332.0 498.1,360.2 505.1,356.1 493.1,327.9" fill="#b9e884"/>
<polygon points="507.4,566.8 519.2,577.8 526.2,573.3 514.4,562.3" fill="#00b2ef"/>
<polygon points="783.4,667.1 795.2,669.7 801.8,665.2 790.0,662.5" fill="#5f3cff"/>
<polygon points="615.1,612.1 626.9,623.0 633.7,618.5 621.9,607.6" fill="#007ffa"/>
<polygon points="722.8,657.4 734.5,668.3 741.2,663.7 729.5,652.8" fill="#5842ff"/>
<polygon points="489.4,224.2 502.0,287.4 509.0,283.3 496.4,220.3" fill="#ff9a4a"/>
<polygon points="498.2,175.1 510.4,212.3 517.4,208.4 505.2,171.2" fill="#ff4c1f"/>
<polygon points="603.3,601.1 615.1,612.1 621.9,607.6 610.2,596.6" fill="#008df8"/>
<polygon points="711.0,646.4 722.8,657.4 729.5,652.8 717.7,641.8" fill="#4352ff"/>
<polygon points="988.7,701.6 1000.8,704.3 1007.1,699.6 995.0,697.0" fill="#8a07ff"/>
<polygon points="813.7,667.8 825.6,670.5 832.1,665.9 820.2,663.2" fill="#5f3cff"/>
<polygon points="867.5,690.4 879.5,693.1 885.9,688.5 874.0,685.8" fill="#7d19ff"/>
<polygon points="531.0,588.7 542.6,591.3 549.6,586.8 537.9,584.3" fill="#00a1f4"/>
<polygon points="909.6,702.1 921.6,704.8 928.0,700.2 916.0,697.5" fill="#8a07ff"/>
<polygon points="626.9,623.0 638.6,625.7 645.4,621.1 633.7,618.5" fill="#0079fb"/>
<polygon points="680.7,645.7 692.5,648.3 699.2,643.8 687.4,641.1" fill="#335cff"/>
<polygon points="734.5,668.3 746.4,671.0 753.0,666.4 741.2,663.7" fill="#5f3cff"/>
<polygon points="477.0,372.7 489.7,435.1 496.7,430.8 484.1,368.5" fill="#34fda5"/>
<polygon points="561.3,589.4 573.0,592.0 579.9,587.5 568.2,585.0" fill="#00a1f4"/>
<polygon points="837.3,681.4 849.1,692.4 855.6,687.8 843.9,676.8" fill="#7820ff"/>
<polygon points="481.0,299.6 493.1,327.9 500.1,323.8 488.0,295.5" fill="#edd06f"/>
<polygon points="940.0,702.8 952.0,705.5 958.4,700.9 946.4,698.2" fill="#8a07ff"/>
<polygon points="825.6,670.5 837.3,681.4 843.9,676.8 832.1,665.9" fill="#6932ff"/>
<polygon points="879.5,693.1 891.2,704.1 897.7,699.4 885.9,688.5" fill="#850eff"/>
<polygon points="764.9,669.0 776.7,671.7 783.4,667.1 771.5,664.4" fill="#5f3cff"/>
<polygon points="490.6,523.5 502.4,534.5 509.4,530.1 497.6,519.2" fill="#00d9e0"/>
<polygon points="970.4,703.6 982.4,706.2 988.7,701.6 976.7,698.9" fill="#8a07ff"/>
<polygon points="573.0,592.0 584.7,603.0 591.6,598.5 579.9,587.5" fill="#009af5"/>
<polygon points="795.2,669.7 807.1,672.4 813.7,667.8 801.8,665.2" fill="#5f3cff"/>
<polygon points="849.1,692.4 861.0,695.1 867.5,690.4 855.6,687.8" fill="#7d19ff"/>
<polygon points="891.2,704.1 903.2,706.8 909.6,702.1 897.7,699.4" fill="#8a07ff"/>
<polygon points="662.2,647.6 673.9,650.2 680.7,645.7 668.9,643.1" fill="#335cff"/>
<polygon points="1000.8,704.3 1012.8,707.0 1019.1,702.3 1007.1,699.6" fill="#8a07ff"/>
<polygon points="495.4,538.9 507.4,566.8 514.4,562.3 502.4,534.5" fill="#00c7e8"/>
<polygon points="542.6,591.3 554.3,593.9 561.3,589.4 549.6,586.8" fill="#00a1f4"/>
<polygon points="650.4,628.3 662.2,647.6 668.9,643.1 657.2,623.7" fill="#006bfd"/>
<polygon points="493.2,142.6 505.2,171.2 512.2,167.3 500.2,138.7" fill="#ff0e03"/>
<polygon points="921.6,704.8 933.6,707.5 940.0,702.8 928.0,700.2" fill="#8a07ff"/>
<polygon points="584.7,603.0 596.5,605.6 603.3,601.1 591.6,598.5" fill="#0095f6"/>
<polygon points="638.6,625.7 650.4,628.3 657.2,623.7 645.4,621.1" fill="#0079fb"/>
<polygon points="692.5,648.3 704.3,651.0 711.0,646.4 699.2,643.8" fill="#335cff"/>
<polygon points="746.4,671.0 758.2,673.6 764.9,669.0 753.0,666.4" fill="#5f3cff"/>
<polygon points="478.6,504.1 490.6,523.5 497.6,519.2 485.7,499.7" fill="#00e5d9"/>
<polygon points="473.6,471.7 485.7,499.7 492.7,495.4 480.6,467.4" fill="#00f3ce"/>
<polygon points="512.2,582.2 524.0,593.2 531.0,588.7 519.2,577.8" fill="#00a6f2"/>
<polygon points="468.7,447.9 480.6,467.4 487.6,463.1 475.7,443.6" fill="#00fcc0"/>
<polygon points="1012.8,707.0 1024.6,717.9 1030.8,713.3 1019.1,702.3" fill="#9101ff"/>
<polygon points="952.0,705.5 964.0,708.2 970.4,703.6 958.4,700.9" fill="#8a07ff"/>
<polygon points="479.0,336.1 491.1,364.4 498.1,360.2 486.1,332.0" fill="#b9e884"/>
<polygon points="500.4,571.2 512.2,582.2 519.2,577.8 507.4,566.8" fill="#00b2ef"/>
<polygon points="776.7,671.7 788.6,674.3 795.2,669.7 783.4,667.1" fill="#5f3cff"/>
<polygon points="608.2,616.6 620.0,627.6 626.9,623.0 615.1,612.1" fill="#007ffa"/>
<polygon points="716.1,661.9 727.8,672.9 734.5,668.3 722.8,657.4" fill="#5842ff"/>
<polygon points="482.3,228.2 495.0,291.4 502.0,287.4 489.4,224.2" fill="#ff9a4a"/>
<polygon points="491.2,179.0 503.4,216.3 510.4,212.3 498.2,175.1" fill="#ff4c1f"/>
<polygon points="596.5,605.6 608.2,616.6 615.1,612.1 603.3,601.1" fill="#008df8"/>
<polygon points="704.3,651.0 716.1,661.9 722.8,657.4 711.0,646.4" fill="#4352ff"/>
<polygon points="982.4,706.2 994.4,708.9 1000.8,704.3 988.7,701.6" fill="#8a07ff"/>
<polygon points="807.1,672.4 819.0,675.1 825.6,670.5 813.7,667.8" fill="#5f3cff"/>
<polygon points="861.0,695.1 873.0,697.7 879.5,693.1 867.5,690.4" fill="#7d19ff"/>
<polygon points="524.0,593.2 535.7,595.8 542.6,591.3 531.0,588.7" fill="#00a1f4"/>
<polygon points="903.2,706.8 915.2,709.4 921.6,704.8 909.6,702.1" fill="#8a07ff"/>
<polygon points="620.0,627.6 631.8,630.2 638.6,625.7 626.9,623.0" fill="#0079fb"/>
<polygon points="673.9,650.2 685.7,652.9 692.5,648.3 680.7,645.7" fill="#335cff"/>
<polygon points="727.8,672.9 739.7,675.6 746.4,671.0 734.5,668.3" fill="#5f3cff"/>
<polygon points="470.0,376.9 482.7,439.3 489.7,435.1 477.0,372.7" fill="#34fda5"/>
<polygon points="554.3,593.9 566.0,596.5 573.0,592.0 561.3,589.4" fill="#00a1f4"/>
<polygon points="830.8,686.0 842.5,697.0 849.1,692.4 837.3,681.4" fill="#7820ff"/>
<polygon points="473.9,303.7 486.1,332.0 493.1,327.9 481.0,299.6" fill="#edd06f"/>
<polygon points="933.6,707.5 945.6,710.2 952.0,705.5 940.0,702.8" fill="#8a07ff"/>
<polygon points="819.0,675.1 830.8,686.0 837.3,681.4 825.6,670.5" fill="#6932ff"/>
<polygon points="873.0,697.7 884.7,708.7 891.2,704.1 879.5,693.1" fill="#850eff"/>
<polygon points="758.2,673.6 770.1,676.3 776.7,671.7 764.9,669.0" fill="#5f3cff"/>
<polygon points="483.6,527.9 495.4,538.9 502.4,534.5 490.6,523.5" fill="#00d9e0"/>
<polygon points="964.0,708.2 976.0,710.9 982.4,706.2 970.4,703.6" fill="#8a07ff"/>
<polygon points="566.0,596.5 577.8,607.5 584.7,603.0 573.0,592.0" fill="#009af5"/>
<polygon points="788.6,674.3 800.5,677.0 807.1,672.4 795.2,669.7" fill="#5f3cff"/>
<polygon points="842.5,697.0 854.5,699.7 861.0,695.1 849.1,692.4" fill="#7d19ff"/>
<polygon points="884.7,708.7 896.7,711.4 903.2,706.8 891.2,704.1" fill="#8a07ff"/>
<polygon points="655.4,652.2 667.2,654.8 673.9,650.2 662.2,647.6" fill="#335cff"/>
<polygon points="994.4,708.9 1006.5,711.6 1012.8,707.0 1000.8,704.3" fill="#8a07ff"/>
<polygon points="488.3,543.4 500.4,571.2 507.4,566.8 495.4,538.9" fill="#00c7e8"/>
<polygon points="535.7,595.8 547.4,598.4 554.3,593.9 542.6,591.3" fill="#00a1f4"/>
<polygon points="643.6,632.8 655.4,652.2 662.2,647.6 650.4,628.3" fill="#006bfd"/>
<polygon points="486.1,146.4 498.2,175.1 505.2,171.2 493.2,142.6" fill="#ff0e03"/>
<polygon points="915.2,709.4 927.2,712.1 933.6,707.5 921.6,704.8" fill="#8a07ff"/>
<polygon points="577.8,607.5 589.6,610.1 596.5,605.6 584.7,603.0" fill="#0095f6"/>
<polygon points="631.8,630.2 643.6,632.8 650.4,628.3 638.6,625.7" fill="#0079fb"/>
<polygon points="685.7,652.9 697.6,655.5 704.3,651.0 692.5,648.3" fill="#335cff"/>
<polygon points="739.7,675.6 751.6,678.2 758.2,673.6 746.4,671.0" fill="#5f3cff"/>
<polygon points="471.6,508.5 483.6,527.9 490.6,523.5 478.6,504.1" fill="#00e5d9"/>
<polygon points="466.5,476.1 478.6,504.1 485.7,499.7 473.6,471.7" fill="#00f3ce"/>
<polygon points="505.2,586.7 517.0,597.7 524.0,593.2 512.2,582.2" fill="#00a6f2"/>
<polygon points="461.6,452.2 473.6,471.7 480.6,467.4 468.7,447.9" fill="#00fcc0"/>
<polygon points="1006.5,711.6 1018.3,722.6 1024.6,717.9 1012.8,707.0" fill="#9101ff"/>
<polygon points="945.6,710.2 957.6,712.9 964.0,708.2 952.0,705.5" fill="#8a07ff"/>
<polygon points="472.0,340.3 484.1,368.5 491.1,364.4 479.0,336.1" fill="#b9e884"/>
<polygon points="493.4,575.7 505.2,586.7 512.2,582.2 500.4,571.2" fill="#00b2ef"/>
<polygon points="770.1,676.3 782.0,679.0 788.6,674.3 776.7,671.7" fill="#5f3cff"/>
<polygon points="601.4,621.1 613.2,632.1 620.0,627.6 608.2,616.6" fill="#007ffa"/>
<polygon points="709.4,666.5 721.1,677.5 727.8,672.9 716.1,661.9" fill="#5842ff"/>
<polygon points="475.3,232.2 488.0,295.5 495.0,291.4 482.3,228.2" fill="#ff9a4a"/>
<polygon points="484.2,182.9 496.4,220.3 503.4,216.3 491.2,179.0" fill="#ff4c1f"/>
<polygon points="589.6,610.1 601.4,621.1 608.2,616.6 596.5,605.6" fill="#008df8"/>
<polygon points="697.6,655.5 709.4,666.5 716.1,661.9 704.3,651.0" fill="#4352ff"/>
<polygon points="976.0,710.9 988.1,713.6 994.4,708.9 982.4,706.2" fill="#8a07ff"/>
<polygon points="800.5,677.0 812.4,679.7 819.0,675.1 807.1,672.4" fill="#5f3cff"/>
<polygon points="854.5,699.7 866.5,702.4 873.0,697.7 861.0,695.1" fill="#7d19ff"/>
<polygon points="517.0,597.7 528.7,600.3 535.7,595.8 524.0,593.2" fill="#00a1f4"/>
<polygon points="896.7,711.4 908.7,714.1 915.2,709.4 903.2,706.8" fill="#8a07ff"/>
<polygon points="613.2,632.1 624.9,634.8 631.8,630.2 620.0,627.6" fill="#0079fb"/>
<polygon points="667.2,654.8 679.0,657.5 685.7,652.9 673.9,650.2" fill="#335cff"/>
<polygon points="721.1,677.5 733.0,680.2 739.7,675.6 727.8,672.9" fill="#5f3cff"/>
<polygon points="462.9,381.1 475.7,443.6 482.7,439.3 470.0,376.9" fill="#34fda5"/>
<polygon points="547.4,598.4 559.1,601.0 566.0,596.5 554.3,593.9" fill="#00a1f4"/>
<polygon points="824.2,690.7 836.0,701.7 842.5,697.0 830.8,686.0" fill="#7820ff"/>
<polygon points="466.9,307.8 479.0,336.1 486.1,332.0 473.9,303.7" fill="#edd06f"/>
<polygon points="927.2,712.1 939.2,714.8 945.6,710.2 933.6,707.5" fill="#8a07ff"/>
<polygon points="812.4,679.7 824.2,690.7 830.8,686.0 819.0,675.1" fill="#6932ff"/>
<polygon points="866.5,702.4 878.2,713.4 884.7,708.7 873.0,697.7" fill="#850eff"/>
<polygon points="751.6,678.2 763.4,680.9 770.1,676.3 758.2,673.6" fill="#5f3cff"/>
<polygon points="476.5,532.4 488.3,543.4 495.4,538.9 483.6,527.9" fill="#00d9e0"/>
<polygon points="957.6,712.9 969.7,715.6 976.0,710.9 964.0,708.2" fill="#8a07ff"/>
<polygon points="559.1,601.0 570.9,612.0 577.8,607.5 566.0,596.5" fill="#009af5"/>
<polygon points="782.0,679.0 793.9,681.6 800.5,677.0 788.6,674.3" fill="#5f3cff"/>
<polygon points="836.0,701.7 848.0,704.4 854.5,699.7 842.5,697.0" fill="#7d19ff"/>
<polygon points="878.2,713.4 890.2,716.1 896.7,711.4 884.7,708.7" fill="#8a07ff"/>
<polygon points="648.6,656.8 660.4,659.4 667.2,654.8 655.4,652.2" fill="#335cff"/>
<polygon points="988.1,713.6 1000.2,716.3 1006.5,711.6 994.4,708.9" fill="#8a07ff"/>
<polygon points="481.3,547.8 493.4,575.7 500.4,571.2 488.3,543.4" fill="#00c7e8"/>
<polygon points="528.7,600.3 540.4,602.9 547.4,598.4 535.7,595.8" fill="#00a1f4"/>
<polygon points="636.7,637.4 648.6,656.8 655.4,652.2 643.6,632.8" fill="#006bfd"/>
<polygon points="479.1,150.3 491.2,179.0 498.2,175.1 486.1,146.4" fill="#ff0e03"/>
<polygon points="908.7,714.1 920.7,716.8 927.2,712.1 915.2,709.4" fill="#8a07ff"/>
<polygon points="570.9,612.0 582.7,614.6 589.6,610.1 577.8,607.5" fill="#0095f6"/>
<polygon points="624.9,634.8 636.7,637.4 643.6,632.8 631.8,630.2" fill="#0079fb"/>
<polygon points="679.0,657.5 690.8,660.1 697.6,655.5 685.7,652.9" fill="#335cff"/>
<polygon points="733.0,680.2 744.9,682.9 751.6,678.2 739.7,675.6" fill="#5f3cff"/>
<polygon points="464.5,512.9 476.5,532.4 483.6,527.9 471.6,508.5" fill="#00e5d9"/>
<polygon points="459.4,480.4 471.6,508.5 478.6,504.1 466.5,476.1" fill="#00f3ce"/>
<polygon points="498.2,591.2 510.0,602.2 517.0,597.7 505.2,586.7" fill="#00a6f2"/>
<polygon points="454.5,456.5 466.5,476.1 473.6,471.7 461.6,452.2" fill="#00fcc0"/>
<polygon points="1000.2,716.3 1012.0,727.3 1018.3,722.6 1006.5,711.6" fill="#9101ff"/>
<polygon points="939.2,714.8 951.2,717.5 957.6,712.9 945.6,710.2" fill="#8a07ff"/>
<polygon points="464.9,344.4 477.0,372.7 484.1,368.5 472.0,340.3" fill="#b9e884"/>
<polygon points="486.4,580.2 498.2,591.2 505.2,586.7 493.4,575.7" fill="#00b2ef"/>
<polygon points="763.4,680.9 775.3,683.6 782.0,679.0 770.1,676.3" fill="#5f3cff"/>
<polygon points="594.5,625.7 606.3,636.7 613.2,632.1 601.4,621.1" fill="#007ffa"/>
<polygon points="702.6,671.1 714.4,682.2 721.1,677.5 709.4,666.5" fill="#5842ff"/>
<polygon points="468.2,236.3 481.0,299.6 488.0,295.5 475.3,232.2" fill="#ff9a4a"/>
<polygon points="477.1,186.9 489.4,224.2 496.4,220.3 484.2,182.9" fill="#ff4c1f"/>
<polygon points="582.7,614.6 594.5,625.7 601.4,621.1 589.6,610.1" fill="#008df8"/>
<polygon points="690.8,660.1 702.6,671.1 709.4,666.5 697.6,655.5" fill="#4352ff"/>
<polygon points="969.7,715.6 981.8,718.3 988.1,713.6 976.0,710.9" fill="#8a07ff"/>
<polygon points="793.9,681.6 805.8,684.3 812.4,679.7 800.5,677.0" fill="#5f3cff"/>
<polygon points="848.0,704.4 859.9,707.1 866.5,702.4 854.5,699.7" fill="#7d19ff"/>
<polygon points="510.0,602.2 521.7,604.8 528.7,600.3 517.0,597.7" fill="#00a1f4"/>
<polygon points="890.2,716.1 902.2,718.8 908.7,714.1 896.7,711.4" fill="#8a07ff"/>
<polygon points="606.3,636.7 618.1,639.3 624.9,634.8 613.2,632.1" fill="#0079fb"/>
<polygon points="660.4,659.4 672.2,662.1 679.0,657.5 667.2,654.8" fill="#335cff"/>
<polygon points="714.4,682.2 726.3,684.8 733.0,680.2 721.1,677.5" fill="#5f3cff"/>
<polygon points="455.8,385.4 468.7,447.9 475.7,443.6 462.9,381.1" fill="#34fda5"/>
<polygon points="540.4,602.9 552.2,605.5 559.1,601.0 547.4,598.4" fill="#00a1f4"/>
<polygon points="817.6,695.3 829.4,706.3 836.0,701.7 824.2,690.7" fill="#7820ff"/>
<polygon points="459.8,311.9 472.0,340.3 479.0,336.1 466.9,307.8" fill="#edd06f"/>
<polygon points="920.7,716.8 932.8,719.5 939.2,714.8 927.2,712.1" fill="#8a07ff"/>
<polygon points="805.8,684.3 817.6,695.3 824.2,690.7 812.4,679.7" fill="#6932ff"/>
<polygon points="859.9,707.1 871.7,718.1 878.2,713.4 866.5,702.4" fill="#850eff"/>
<polygon points="744.9,682.9 756.8,685.5 763.4,680.9 751.6,678.2" fill="#5f3cff"/>
<polygon points="469.4,536.8 481.3,547.8 488.3,543.4 476.5,532.4" fill="#00d9e0"/>
<polygon points="951.2,717.5 963.3,720.2 969.7,715.6 957.6,712.9" fill="#8a07ff"/>
<polygon points="552.2,605.5 564.0,616.6 570.9,612.0 559.1,601.0" fill="#009af5"/>
<polygon points="775.3,683.6 787.3,686.3 793.9,681.6 782.0,679.0" fill="#5f3cff"/>
<polygon points="829.4,706.3 841.4,709.0 848.0,704.4 836.0,701.7" fill="#7d19ff"/>
<polygon points="871.7,718.1 883.7,720.8 890.2,716.1 878.2,713.4" fill="#8a07ff"/>
<polygon points="641.7,661.4 653.5,664.0 660.4,659.4 648.6,656.8" fill="#335cff"/>
<polygon points="981.8,718.3 993.8,721.0 1000.2,716.3 988.1,713.6" fill="#8a07ff"/>
<polygon points="474.2,552.3 486.4,580.2 493.4,575.7 481.3,547.8" fill="#00c7e8"/>
<polygon points="521.7,604.8 533.4,607.5 540.4,602.9 528.7,600.3" fill="#00a1f4"/>
<polygon points="629.9,642.0 641.7,661.4 648.6,656.8 636.7,637.4" fill="#006bfd"/>
<polygon points="472.0,154.2 484.2,182.9 491.2,179.0 479.1,150.3" fill="#ff0e03"/>
<polygon points="902.2,718.8 914.3,721.5 920.7,716.8 908.7,714.1" fill="#8a07ff"/>
<polygon points="564.0,616.6 575.7,619.2 582.7,614.6 570.9,612.0" fill="#0095f6"/>
<polygon points="618.1,639.3 629.9,642.0 636.7,637.4 624.9,634.8" fill="#0079fb"/>
<polygon points="672.2,662.1 684.0,664.7 690.8,660.1 679.0,657.5" fill="#335cff"/>
<polygon points="726.3,684.8 738.2,687.5 744.9,682.9 733.0,680.2" fill="#5f3cff"/>
<polygon points="457.4,517.3 469.4,536.8 476.5,532.4 464.5,512.9" fill="#00e5d9"/>
<polygon points="452.3,484.8 464.5,512.9 471.6,508.5 459.4,480.4" fill="#00f3ce"/>
<polygon points="491.1,595.7 503.0,606.8 510.0,602.2 498.2,591.2" fill="#00a6f2"/>
<polygon points="447.4,460.8 459.4,480.4 466.5,476.1 454.5,456.5" fill="#00fcc0"/>
<polygon points="993.8,721.0 1005.6,732.0 1012.0,727.3 1000.2,716.3" fill="#9101ff"/>
<polygon points="932.8,719.5 944.8,722.2 951.2,717.5 939.2,714.8" fill="#8a07ff"/>
<polygon points="457.8,348.6 470.0,376.9 477.0,372.7 464.9,344.4" fill="#b9e884"/>
<polygon points="479.3,584.7 491.1,595.7 498.2,591.2 486.4,580.2" fill="#00b2ef"/>
<polygon points="756.8,685.5 768.7,688.2 775.3,683.6 763.4,680.9" fill="#5f3cff"/>
<polygon points="587.6,630.2 599.4,641.3 606.3,636.7 594.5,625.7" fill="#007ffa"/>
<polygon points="695.9,675.8 707.7,686.8 714.4,682.2 702.6,671.1" fill="#5842ff"/>
<polygon points="461.1,240.3 473.9,303.7 481.0,299.6 468.2,236.3" fill="#ff9a4a"/>
<polygon points="470.0,190.8 482.3,228.2 489.4,224.2 477.1,186.9" fill="#ff4c1f"/>
<polygon points="575.7,619.2 587.6,630.2 594.5,625.7 582.7,614.6" fill="#008df8"/>
<polygon points="684.0,664.7 695.9,675.8 702.6,671.1 690.8,660.1" fill="#4352ff"/>
<polygon points="963.3,720.2 975.4,722.9 981.8,718.3 969.7,715.6" fill="#8a07ff"/>
<polygon points="787.3,686.3 799.2,688.9 805.8,684.3 793.9,681.6" fill="#5f3cff"/>
<polygon points="841.4,709.0 853.4,711.7 859.9,707.1 848.0,704.4" fill="#7d19ff"/>
<polygon points="503.0,606.8 514.7,609.4 521.7,604.8 510.0,602.2" fill="#00a1f4"/>
<polygon points="883.7,720.8 895.7,723.5 902.2,718.8 890.2,716.1" fill="#8a07ff"/>
<polygon points="599.4,641.3 611.2,643.9 618.1,639.3 606.3,636.7" fill="#0079fb"/>
<polygon points="653.5,664.0 665.4,666.7 672.2,662.1 660.4,659.4" fill="#335cff"/>
<polygon points="707.7,686.8 719.6,689.5 726.3,684.8 714.4,682.2" fill="#5f3cff"/>
<polygon points="448.7,389.6 461.6,452.2 468.7,447.9 455.8,385.4" fill="#34fda5"/>
<polygon points="533.4,607.5 545.2,610.1 552.2,605.5 540.4,602.9" fill="#00a1f4"/>
<polygon points="811.0,700.0 822.8,711.0 829.4,706.3 817.6,695.3" fill="#7820ff"/>
<polygon points="452.7,316.0 464.9,344.4 472.0,340.3 459.8,311.9" fill="#edd06f"/>
<polygon points="914.3,721.5 926.3,724.2 932.8,719.5 920.7,716.8" fill="#8a07ff"/>
<polygon points="799.2,688.9 811.0,700.0 817.6,695.3 805.8,684.3" fill="#6932ff"/>
<polygon points="853.4,711.7 865.2,722.8 871.7,718.1 859.9,707.1" fill="#850eff"/>
<polygon points="738.2,687.5 750.1,690.2 756.8,685.5 744.9,682.9" fill="#5f3cff"/>
<polygon points="462.3,541.2 474.2,552.3 481.3,547.8 469.4,536.8" fill="#00d9e0"/>
<polygon points="944.8,722.2 956.9,724.9 963.3,720.2 951.2,717.5" fill="#8a07ff"/>
<polygon points="545.2,610.1 557.0,621.1 564.0,616.6 552.2,605.5" fill="#009af5"/>
<polygon points="768.7,688.2 780.6,690.9 787.3,686.3 775.3,683.6" fill="#5f3cff"/>
<polygon points="822.8,711.0 834.8,713.7 841.4,709.0 829.4,706.3" fill="#7d19ff"/>
<polygon points="865.2,722.8 877.2,725.5 883.7,720.8 871.7,718.1" fill="#8a07ff"/>
<polygon points="634.9,666.0 646.7,668.6 653.5,664.0 641.7,661.4" fill="#335cff"/>
<polygon points="975.4,722.9 987.5,725.7 993.8,721.0 981.8,718.3" fill="#8a07ff"/>
<polygon points="467.1,556.7 479.3,584.7 486.4,580.2 474.2,552.3" fill="#00c7e8"/>
<polygon points="514.7,609.4 526.4,612.0 533.4,607.5 521.7,604.8" fill="#00a1f4"/>
<polygon points="623.0,646.5 634.9,666.0 641.7,661.4 629.9,642.0" fill="#006bfd"/>
<polygon points="464.9,158.1 477.1,186.9 484.2,182.9 472.0,154.2" fill="#ff0e03"/>
<polygon points="895.7,723.5 907.8,726.2 914.3,721.5 902.2,718.8" fill="#8a07ff"/>
<polygon points="557.0,621.1 568.8,623.7 575.7,619.2 564.0,616.6" fill="#0095f6"/>
<polygon points="611.2,643.9 623.0,646.5 629.9,642.0 618.1,639.3" fill="#0079fb"/>
<polygon points="665.4,666.7 677.2,669.4 684.0,664.7 672.2,662.1" fill="#335cff"/>
<polygon points="719.6,689.5 731.5,692.2 738.2,687.5 726.3,684.8" fill="#5f3cff"/>
<polygon points="450.3,521.7 462.3,541.2 469.4,536.8 457.4,517.3" fill="#00e5d9"/>
<polygon points="445.2,489.2 457.4,517.3 464.5,512.9 452.3,484.8" fill="#00f3ce"/>
<polygon points="484.1,600.2 495.9,611.3 503.0,606.8 491.1,595.7" fill="#00a6f2"/>
<polygon points="440.3,465.2 452.3,484.8 459.4,480.4 447.4,460.8" fill="#00fcc0"/>
<polygon points="987.5,725.7 999.3,736.7 1005.6,732.0 993.8,721.0" fill="#9101ff"/>
<polygon points="926.3,724.2 938.4,726.9 944.8,722.2 932.8,719.5" fill="#8a07ff"/>
<polygon points="450.7,352.8 462.9,381.1 470.0,376.9 457.8,348.6" fill="#b9e884"/>
<polygon points="472.2,589.2 484.1,600.2 491.1,595.7 479.3,584.7" fill="#00b2ef"/>
<polygon points="750.1,690.2 762.0,692.9 768.7,688.2 756.8,685.5" fill="#5f3cff"/>
<polygon points="580.6,634.8 592.5,645.8 599.4,641.3 587.6,630.2" fill="#007ffa"/>
<polygon points="689.1,680.4 700.9,691.4 707.7,686.8 695.9,675.8" fill="#5842ff"/>
<polygon points="454.0,244.3 466.9,307.8 473.9,303.7 461.1,240.3" fill="#ff9a4a"/>
<polygon points="462.9,194.8 475.3,232.2 482.3,228.2 470.0,190.8" fill="#ff4c1f"/>
<polygon points="568.8,623.7 580.6,634.8 587.6,630.2 575.7,619.2" fill="#008df8"/>
<polygon points="677.2,669.4 689.1,680.4 695.9,675.8 684.0,664.7" fill="#4352ff"/>
<polygon points="956.9,724.9 969.0,727.6 975.4,722.9 963.3,720.2" fill="#8a07ff"/>
<polygon points="780.6,690.9 792.6,693.6 799.2,688.9 787.3,686.3" fill="#5f3cff"/>
<polygon points="834.8,713.7 846.8,716.4 853.4,711.7 841.4,709.0" fill="#7d19ff"/>
<polygon points="495.9,611.3 507.7,613.9 514.7,609.4 503.0,606.8" fill="#00a1f4"/>
<polygon points="877.2,725.5 889.2,728.2 895.7,723.5 883.7,720.8" fill="#8a07ff"/>
<polygon points="592.5,645.8 604.3,648.5 611.2,643.9 599.4,641.3" fill="#0079fb"/>
<polygon points="646.7,668.6 658.5,671.3 665.4,666.7 653.5,664.0" fill="#335cff"/>
<polygon points="700.9,691.4 712.8,694.1 719.6,689.5 707.7,686.8" fill="#5f3cff"/>
<polygon points="441.5,393.9 454.5,456.5 461.6,452.2 448.7,389.6" fill="#34fda5"/>
<polygon points="526.4,612.0 538.2,614.6 545.2,610.1 533.4,607.5" fill="#00a1f4"/>
<polygon points="804.4,704.6 816.2,715.7 822.8,711.0 811.0,700.0" fill="#7820ff"/>
<polygon points="445.5,320.2 457.8,348.6 464.9,344.4 452.7,316.0" fill="#edd06f"/>
<polygon points="907.8,726.2 919.8,728.9 926.3,724.2 914.3,721.5" fill="#8a07ff"/>
<polygon points="792.6,693.6 804.4,704.6 811.0,700.0 799.2,688.9" fill="#6932ff"/>
<polygon points="846.8,716.4 858.7,727.5 865.2,722.8 853.4,711.7" fill="#850eff"/>
<polygon points="731.5,692.2 743.4,694.8 750.1,690.2 738.2,687.5" fill="#5f3cff"/>
<polygon points="455.2,545.7 467.1,556.7 474.2,552.3 462.3,541.2" fill="#00d9e0"/>
<polygon points="938.4,726.9 950.5,729.6 956.9,724.9 944.8,722.2" fill="#8a07ff"/>
<polygon points="538.2,614.6 550.0,625.7 557.0,621.1 545.2,610.1" fill="#009af5"/>
<polygon points="762.0,692.9 774.0,695.6 780.6,690.9 768.7,688.2" fill="#5f3cff"/>
<polygon points="816.2,715.7 828.2,718.4 834.8,713.7 822.8,711.0" fill="#7d19ff"/>
<polygon points="858.7,727.5 870.7,730.2 877.2,725.5 865.2,722.8" fill="#8a07ff"/>
<polygon points="628.0,670.6 639.8,673.3 646.7,668.6 634.9,666.0" fill="#335cff"/>
<polygon points="969.0,727.6 981.1,730.4 987.5,725.7 975.4,722.9" fill="#8a07ff"/>
<polygon points="460.0,561.2 472.2,589.2 479.3,584.7 467.1,556.7" fill="#00c7e8"/>
<polygon points="507.7,613.9 519.4,616.5 526.4,612.0 514.7,609.4" fill="#00a1f4"/>
<polygon points="616.1,651.1 628.0,670.6 634.9,666.0 623.0,646.5" fill="#006bfd"/>
<polygon points="457.8,162.1 470.0,190.8 477.1,186.9 464.9,158.1" fill="#ff0e03"/>
<polygon points="889.2,728.2 901.3,730.9 907.8,726.2 895.7,723.5" fill="#8a07ff"/>
<polygon points="550.0,625.7 561.8,628.3 568.8,623.7 557.0,621.1" fill="#0095f6"/>
<polygon points="604.3,648.5 616.1,651.1 623.0,646.5 611.2,643.9" fill="#0079fb"/>
<polygon points="658.5,671.3 670.4,674.0 677.2,669.4 665.4,666.7" fill="#335cff"/>
<polygon points="712.8,694.1 724.7,696.8 731.5,692.2 719.6,689.5" fill="#5f3cff"/>
<polygon points="443.2,526.1 455.2,545.7 462.3,541.2 450.3,521.7" fill="#00e5d9"/>
<polygon points="438.0,493.5 450.3,521.7 457.4,517.3 445.2,489.2" fill="#00f3ce"/>
<polygon points="477.0,604.8 488.9,615.8 495.9,611.3 484.1,600.2" fill="#00a6f2"/>
<polygon points="433.1,469.5 445.2,489.2 452.3,484.8 440.3,465.2" fill="#00fcc0"/>
<polygon points="981.1,730.4 992.9,741.4 999.3,736.7 987.5,725.7" fill="#9101ff"/>
<polygon points="919.8,728.9 931.9,731.6 938.4,726.9 926.3,724.2" fill="#8a07ff"/>
<polygon points="443.5,357.0 455.8,385.4 462.9,381.1 450.7,352.8" fill="#b9e884"/>
<polygon points="465.1,593.7 477.0,604.8 484.1,600.2 472.2,589.2" fill="#00b2ef"/>
<polygon points="743.4,694.8 755.3,697.5 762.0,692.9 750.1,690.2" fill="#5f3cff"/>
<polygon points="573.7,639.4 585.6,650.4 592.5,645.8 580.6,634.8" fill="#007ffa"/>
<polygon points="682.3,685.0 694.1,696.1 700.9,691.4 689.1,680.4" fill="#5842ff"/>
<polygon points="446.8,248.4 459.8,311.9 466.9,307.8 454.0,244.3" fill="#ff9a4a"/>
<polygon points="455.8,198.8 468.2,236.3 475.3,232.2 462.9,194.8" fill="#ff4c1f"/>
<polygon points="561.8,628.3 573.7,639.4 580.6,634.8 568.8,623.7" fill="#008df8"/>
<polygon points="670.4,674.0 682.3,685.0 689.1,680.4 677.2,669.4" fill="#4352ff"/>
<polygon points="950.5,729.6 962.6,732.4 969.0,727.6 956.9,724.9" fill="#8a07ff"/>
<polygon points="774.0,695.6 785.9,698.3 792.6,693.6 780.6,690.9" fill="#5f3cff"/>
<polygon points="828.2,718.4 840.2,721.1 846.8,716.4 834.8,713.7" fill="#7d19ff"/>
<polygon points="488.9,615.8 500.6,618.5 507.7,613.9 495.9,611.3" fill="#00a1f4"/>
<polygon points="870.7,730.2 882.7,732.9 889.2,728.2 877.2,725.5" fill="#8a07ff"/>
<polygon points="585.6,650.4 597.4,653.1 604.3,648.5 592.5,645.8" fill="#0079fb"/>
<polygon points="639.8,673.3 651.7,675.9 658.5,671.3 646.7,668.6" fill="#335cff"/>
<polygon points="694.1,696.1 706.0,698.8 712.8,694.1 700.9,691.4" fill="#5f3cff"/>
<polygon points="434.3,398.1 447.4,460.8 454.5,456.5 441.5,393.9" fill="#34fda5"/>
<polygon points="519.4,616.5 531.2,619.2 538.2,614.6 526.4,612.0" fill="#00a1f4"/>
<polygon points="797.8,709.3 809.6,720.4 816.2,715.7 804.4,704.6" fill="#7820ff"/>
<polygon points="438.4,324.3 450.7,352.8 457.8,348.6 445.5,320.2" fill="#edd06f"/>
<polygon points="901.3,730.9 913.4,733.6 919.8,728.9 907.8,726.2" fill="#8a07ff"/>
<polygon points="785.9,698.3 797.8,709.3 804.4,704.6 792.6,693.6" fill="#6932ff"/>
<polygon points="840.2,721.1 852.1,732.2 858.7,727.5 846.8,716.4" fill="#850eff"/>
<polygon points="724.7,696.8 736.6,699.5 743.4,694.8 731.5,692.2" fill="#5f3cff"/>
<polygon points="448.1,550.1 460.0,561.2 467.1,556.7 455.2,545.7" fill="#00d9e0"/>
<polygon points="931.9,731.6 944.0,734.4 950.5,729.6 938.4,726.9" fill="#8a07ff"/>
<polygon points="531.2,619.2 543.0,630.2 550.0,625.7 538.2,614.6" fill="#009af5"/>
<polygon points="755.3,697.5 767.3,700.2 774.0,695.6 762.0,692.9" fill="#5f3cff"/>
<polygon points="809.6,720.4 821.6,723.1 828.2,718.4 816.2,715.7" fill="#7d19ff"/>
<polygon points="852.1,732.2 864.1,734.9 870.7,730.2 858.7,727.5" fill="#8a07ff"/>
<polygon points="621.1,675.2 633.0,677.9 639.8,673.3 628.0,670.6" fill="#335cff"/>
<polygon points="962.6,732.4 974.7,735.1 981.1,730.4 969.0,727.6" fill="#8a07ff"/>
<polygon points="452.9,565.7 465.1,593.7 472.2,589.2 460.0,561.2" fill="#00c7e8"/>
<polygon points="500.6,618.5 512.4,621.1 519.4,616.5 507.7,613.9" fill="#00a1f4"/>
<polygon points="609.2,655.8 621.1,675.2 628.0,670.6 616.1,651.1" fill="#006bfd"/>
<polygon points="450.7,166.0 462.9,194.8 470.0,190.8 457.8,162.1" fill="#ff0e03"/>
<polygon points="882.7,732.9 894.8,735.6 901.3,730.9 889.2,728.2" fill="#8a07ff"/>
<polygon points="543.0,630.2 554.8,632.9 561.8,628.3 550.0,625.7" fill="#0095f6"/>
<polygon points="597.4,653.1 609.2,655.8 616.1,651.1 604.3,648.5" fill="#0079fb"/>
<polygon points="651.7,675.9 663.6,678.6 670.4,674.0 658.5,671.3" fill="#335cff"/>
<polygon points="706.0,698.8 718.0,701.5 724.7,696.8 712.8,694.1" fill="#5f3cff"/>
<polygon points="436.0,530.5 448.1,550.1 455.2,545.7 443.2,526.1" fill="#00e5d9"/>
<polygon points="430.9,497.9 443.2,526.1 450.3,521.7 438.0,493.5" fill="#00f3ce"/>
<polygon points="469.9,609.3 481.8,620.4 488.9,615.8 477.0,604.8" fill="#00a6f2"/>
<polygon points="425.9,473.9 438.0,493.5 445.2,489.2 433.1,469.5" fill="#00fcc0"/>
<polygon points="974.7,735.1 986.5,746.2 992.9,741.4 981.1,730.4" fill="#9101ff"/>
<polygon points="913.4,733.6 925.5,736.4 931.9,731.6 919.8,728.9" fill="#8a07ff"/>
<polygon points="436.4,361.2 448.7,389.6 455.8,385.4 443.5,357.0" fill="#b9e884"/>
<polygon points="458.0,598.2 469.9,609.3 477.0,604.8 465.1,593.7" fill="#00b2ef"/>
<polygon points="736.6,699.5 748.6,702.2 755.3,697.5 743.4,694.8" fill="#5f3cff"/>
<polygon points="566.7,644.0 578.6,655.0 585.6,650.4 573.7,639.4" fill="#007ffa"/>
<polygon points="675.5,689.7 687.3,700.8 694.1,696.1 682.3,685.0" fill="#5842ff"/>
<polygon points="439.6,252.4 452.7,316.0 459.8,311.9 446.8,248.4" fill="#ff9a4a"/>
<polygon points="448.6,202.7 461.1,240.3 468.2,236.3 455.8,198.8" fill="#ff4c1f"/>
<polygon points="554.8,632.9 566.7,644.0 573.7,639.4 561.8,628.3" fill="#008df8"/>
<polygon points="663.6,678.6 675.5,689.7 682.3,685.0 670.4,674.0" fill="#4352ff"/>
<polygon points="944.0,734.4 956.1,737.1 962.6,732.4 950.5,729.6" fill="#8a07ff"/>
<polygon points="767.3,700.2 779.2,702.9 785.9,698.3 774.0,695.6" fill="#5f3cff"/>
<polygon points="821.6,723.1 833.6,725.8 840.2,721.1 828.2,718.4" fill="#7d19ff"/>
<polygon points="481.8,620.4 493.5,623.0 500.6,618.5 488.9,615.8" fill="#00a1f4"/>
<polygon points="864.1,734.9 876.2,737.6 882.7,732.9 870.7,730.2" fill="#8a07ff"/>
<polygon points="578.6,655.0 590.4,657.7 597.4,653.1 585.6,650.4" fill="#0079fb"/>
<polygon points="633.0,677.9 644.8,680.6 651.7,675.9 639.8,673.3" fill="#335cff"/>
<polygon points="687.3,700.8 699.2,703.5 706.0,698.8 694.1,696.1" fill="#5f3cff"/>
<polygon points="427.2,402.4 440.3,465.2 447.4,460.8 434.3,398.1" fill="#34fda5"/>
<polygon points="512.4,621.1 524.1,623.7 531.2,619.2 519.4,616.5" fill="#00a1f4"/>
<polygon points="791.1,714.0 803.0,725.1 809.6,720.4 797.8,709.3" fill="#7820ff"/>
<polygon points="431.2,328.5 443.5,357.0 450.7,352.8 438.4,324.3" fill="#edd06f"/>
<polygon points="894.8,735.6 906.9,738.4 913.4,733.6 901.3,730.9" fill="#8a07ff"/>
<polygon points="779.2,702.9 791.1,714.0 797.8,709.3 785.9,698.3" fill="#6932ff"/>
<polygon points="833.6,725.8 845.5,736.9 852.1,732.2 840.2,721.1" fill="#850eff"/>
<polygon points="718.0,701.5 729.9,704.2 736.6,699.5 724.7,696.8" fill="#5f3cff"/>
<polygon points="441.0,554.6 452.9,565.7 460.0,561.2 448.1,550.1" fill="#00d9e0"/>
<polygon points="925.5,736.4 937.6,739.1 944.0,734.4 931.9,731.6" fill="#8a07ff"/>
<polygon points="524.1,623.7 536.0,634.8 543.0,630.2 531.2,619.2" fill="#009af5"/>
<polygon points="748.6,702.2 760.6,704.9 767.3,700.2 755.3,697.5" fill="#5f3cff"/>
<polygon points="803.0,725.1 815.0,727.8 821.6,723.1 809.6,720.4" fill="#7d19ff"/>
<polygon points="845.5,736.9 857.6,739.6 864.1,734.9 852.1,732.2" fill="#8a07ff"/>
<polygon points="614.2,679.9 626.1,682.6 633.0,677.9 621.1,675.2" fill="#335cff"/>
<polygon points="956.1,737.1 968.3,739.8 974.7,735.1 962.6,732.4" fill="#8a07ff"/>
<polygon points="445.7,570.2 458.0,598.2 465.1,593.7 452.9,565.7" fill="#00c7e8"/>
<polygon points="493.5,623.0 505.3,625.7 512.4,621.1 500.6,618.5" fill="#00a1f4"/>
<polygon points="602.3,660.4 614.2,679.9 621.1,675.2 609.2,655.8" fill="#006bfd"/>
<polygon points="443.5,169.9 455.8,198.8 462.9,194.8 450.7,166.0" fill="#ff0e03"/>
<polygon points="876.2,737.6 888.3,740.4 894.8,735.6 882.7,732.9" fill="#8a07ff"/>
<polygon points="536.0,634.8 547.8,637.5 554.8,632.9 543.0,630.2" fill="#0095f6"/>
<polygon points="590.4,657.7 602.3,660.4 609.2,655.8 597.4,653.1" fill="#0079fb"/>
<polygon points="644.8,680.6 656.7,683.3 663.6,678.6 651.7,675.9" fill="#335cff"/>
<polygon points="699.2,703.5 711.2,706.2 718.0,701.5 706.0,698.8" fill="#5f3cff"/>
<polygon points="428.8,535.0 441.0,554.6 448.1,550.1 436.0,530.5" fill="#00e5d9"/>
<polygon points="423.7,502.3 436.0,530.5 443.2,526.1 430.9,497.9" fill="#00f3ce"/>
<polygon points="462.8,613.9 474.7,625.0 481.8,620.4 469.9,609.3" fill="#00a6f2"/>
<polygon points="418.8,478.3 430.9,497.9 438.0,493.5 425.9,473.9" fill="#00fcc0"/>
<polygon points="968.3,739.8 980.1,750.9 986.5,746.2 974.7,735.1" fill="#9101ff"/>
<polygon points="906.9,738.4 919.0,741.1 925.5,736.4 913.4,733.6" fill="#8a07ff"/>
<polygon points="429.2,365.4 441.5,393.9 448.7,389.6 436.4,361.2" fill="#b9e884"/>
<polygon points="450.9,602.8 462.8,613.9 469.9,609.3 458.0,598.2" fill="#00b2ef"/>
<polygon points="729.9,704.2 741.9,706.9 748.6,702.2 736.6,699.5" fill="#5f3cff"/>
<polygon points="559.7,648.6 571.6,659.7 578.6,655.0 566.7,644.0" fill="#007ffa"/>
<polygon points="668.6,694.4 680.5,705.5 687.3,700.8 675.5,689.7" fill="#5842ff"/>
<polygon points="432.5,256.5 445.5,320.2 452.7,316.0 439.6,252.4" fill="#ff9a4a"/>
<polygon points="441.5,206.7 454.0,244.3 461.1,240.3 448.6,202.7" fill="#ff4c1f"/>
<polygon points="547.8,637.5 559.7,648.6 566.7,644.0 554.8,632.9" fill="#008df8"/>
<polygon points="656.7,683.3 668.6,694.4 675.5,689.7 663.6,678.6" fill="#4352ff"/>
<polygon points="937.6,739.1 949.7,741.8 956.1,737.1 944.0,734.4" fill="#8a07ff"/>
<polygon points="760.6,704.9 772.5,707.6 779.2,702.9 767.3,700.2" fill="#5f3cff"/>
<polygon points="815.0,727.8 827.0,730.5 833.6,725.8 821.6,723.1" fill="#7d19ff"/>
<polygon points="474.7,625.0 486.4,627.6 493.5,623.0 481.8,620.4" fill="#00a1f4"/>
<polygon points="857.6,739.6 869.6,742.4 876.2,737.6 864.1,734.9" fill="#8a07ff"/>
<polygon points="571.6,659.7 583.5,662.3 590.4,657.7 578.6,655.0" fill="#0079fb"/>
<polygon points="626.1,682.6 638.0,685.3 644.8,680.6 633.0,677.9" fill="#335cff"/>
<polygon points="680.5,705.5 692.4,708.2 699.2,703.5 687.3,700.8" fill="#5f3cff"/>
<polygon points="419.9,406.7 433.1,469.5 440.3,465.2 427.2,402.4" fill="#34fda5"/>
<polygon points="505.3,625.7 517.1,628.3 524.1,623.7 512.4,621.1" fill="#00a1f4"/>
<polygon points="784.4,718.7 796.3,729.8 803.0,725.1 791.1,714.0" fill="#7820ff"/>
<polygon points="424.0,332.6 436.4,361.2 443.5,357.0 431.2,328.5" fill="#edd06f"/>
<polygon points="888.3,740.4 900.3,743.1 906.9,738.4 894.8,735.6" fill="#8a07ff"/>
<polygon points="772.5,707.6 784.4,718.7 791.1,714.0 779.2,702.9" fill="#6932ff"/>
<polygon points="827.0,730.5 838.9,741.6 845.5,736.9 833.6,725.8" fill="#850eff"/>
<polygon points="711.2,706.2 723.1,708.9 729.9,704.2 718.0,701.5" fill="#5f3cff"/>
<polygon points="433.8,559.1 445.7,570.2 452.9,565.7 441.0,554.6" fill="#00d9e0"/>
<polygon points="919.0,741.1 931.1,743.8 937.6,739.1 925.5,736.4" fill="#8a07ff"/>
<polygon points="517.1,628.3 529.0,639.4 536.0,634.8 524.1,623.7" fill="#009af5"/>
<polygon points="741.9,706.9 753.8,709.6 760.6,704.9 748.6,702.2" fill="#5f3cff"/>
<polygon points="796.3,729.8 808.3,732.5 815.0,727.8 803.0,725.1" fill="#7d19ff"/>
<polygon points="838.9,741.6 851.0,744.4 857.6,739.6 845.5,736.9" fill="#8a07ff"/>
<polygon points="607.3,684.5 619.2,687.2 626.1,682.6 614.2,679.9" fill="#335cff"/>
<polygon points="949.7,741.8 961.8,744.6 968.3,739.8 956.1,737.1" fill="#8a07ff"/>
<polygon points="438.5,574.7 450.9,602.8 458.0,598.2 445.7,570.2" fill="#00c7e8"/>
<polygon points="486.4,627.6 498.2,630.3 505.3,625.7 493.5,623.0" fill="#00a1f4"/>
<polygon points="595.3,665.0 607.3,684.5 614.2,679.9 602.3,660.4" fill="#006bfd"/>
<polygon points="436.3,173.9 448.6,202.7 455.8,198.8 443.5,169.9" fill="#ff0e03"/>
<polygon points="869.6,742.4 881.7,745.1 888.3,740.4 876.2,737.6" fill="#8a07ff"/>
<polygon points="529.0,639.4 540.8,642.1 547.8,637.5 536.0,634.8" fill="#0095f6"/>
<polygon points="583.5,662.3 595.3,665.0 602.3,660.4 590.4,657.7" fill="#0079fb"/>
<polygon points="638.0,685.3 649.9,688.0 656.7,683.3 644.8,680.6" fill="#335cff"/>
<polygon points="692.4,708.2 704.4,710.9 711.2,706.2 699.2,703.5" fill="#5f3cff"/>
<polygon points="421.7,539.4 433.8,559.1 441.0,554.6 428.8,535.0" fill="#00e5d9"/>
<polygon points="416.5,506.8 428.8,535.0 436.0,530.5 423.7,502.3" fill="#00f3ce"/>
<polygon points="455.6,618.5 467.6,629.6 474.7,625.0 462.8,613.9" fill="#00a6f2"/>
<polygon points="411.5,482.6 423.7,502.3 430.9,497.9 418.8,478.3" fill="#00fcc0"/>
<polygon points="961.8,744.6 973.7,755.7 980.1,750.9 968.3,739.8" fill="#9101ff"/>
<polygon points="900.3,743.1 912.5,745.9 919.0,741.1 906.9,738.4" fill="#8a07ff"/>
<polygon points="422.0,369.6 434.3,398.1 441.5,393.9 429.2,365.4" fill="#b9e884"/>
<polygon points="443.7,607.3 455.6,618.5 462.8,613.9 450.9,602.8" fill="#00b2ef"/>
<polygon points="723.1,708.9 735.1,711.6 741.9,706.9 729.9,704.2" fill="#5f3cff"/>
<polygon points="552.7,653.2 564.6,664.3 571.6,659.7 559.7,648.6" fill="#007ffa"/>
<polygon points="661.8,699.1 673.7,710.2 680.5,705.5 668.6,694.4" fill="#5842ff"/>
<polygon points="425.2,260.6 438.4,324.3 445.5,320.2 432.5,256.5" fill="#ff9a4a"/>
<polygon points="434.3,210.7 446.8,248.4 454.0,244.3 441.5,206.7" fill="#ff4c1f"/>
<polygon points="540.8,642.1 552.7,653.2 559.7,648.6 547.8,637.5" fill="#008df8"/>
<polygon points="649.9,688.0 661.8,699.1 668.6,694.4 656.7,683.3" fill="#4352ff"/>
<polygon points="931.1,743.8 943.2,746.6 949.7,741.8 937.6,739.1" fill="#8a07ff"/>
<polygon points="753.8,709.6 765.8,712.3 772.5,707.6 760.6,704.9" fill="#5f3cff"/>
<polygon points="808.3,732.5 820.4,735.3 827.0,730.5 815.0,727.8" fill="#7d19ff"/>
<polygon points="467.6,629.6 479.3,632.2 486.4,627.6 474.7,625.0" fill="#00a1f4"/>
<polygon points="851.0,744.4 863.0,747.1 869.6,742.4 857.6,739.6" fill="#8a07ff"/>
<polygon points="564.6,664.3 576.5,667.0 583.5,662.3 571.6,659.7" fill="#0079fb"/>
<polygon points="619.2,687.2 631.1,689.9 638.0,685.3 626.1,682.6" fill="#335cff"/>
<polygon points="673.7,710.2 685.6,712.9 692.4,708.2 680.5,705.5" fill="#5f3cff"/>
<polygon points="412.7,411.0 425.9,473.9 433.1,469.5 419.9,406.7" fill="#34fda5"/>
<polygon points="498.2,630.3 510.0,632.9 517.1,628.3 505.3,625.7" fill="#00a1f4"/>
<polygon points="777.7,723.5 789.6,734.6 796.3,729.8 784.4,718.7" fill="#7820ff"/>
<polygon points="416.8,336.8 429.2,365.4 436.4,361.2 424.0,332.6" fill="#edd06f"/>
<polygon points="881.7,745.1 893.8,747.9 900.3,743.1 888.3,740.4" fill="#8a07ff"/>
<polygon points="765.8,712.3 777.7,723.5 784.4,718.7 772.5,707.6" fill="#6932ff"/>
<polygon points="820.4,735.3 832.3,746.4 838.9,741.6 827.0,730.5" fill="#850eff"/>
<polygon points="704.4,710.9 716.3,713.6 723.1,708.9 711.2,706.2" fill="#5f3cff"/>
<polygon points="426.6,563.6 438.5,574.7 445.7,570.2 433.8,559.1" fill="#00d9e0"/>
<polygon points="912.5,745.9 924.6,748.6 931.1,743.8 919.0,741.1" fill="#8a07ff"/>
<polygon points="510.0,632.9 521.9,644.0 529.0,639.4 517.1,628.3" fill="#009af5"/>
<polygon points="735.1,711.6 747.1,714.3 753.8,709.6 741.9,706.9" fill="#5f3cff"/>
<polygon points="789.6,734.6 801.7,737.3 808.3,732.5 796.3,729.8" fill="#7d19ff"/>
<polygon points="832.3,746.4 844.4,749.1 851.0,744.4 838.9,741.6" fill="#8a07ff"/>
<polygon points="600.3,689.2 612.2,691.9 619.2,687.2 607.3,684.5" fill="#335cff"/>
<polygon points="943.2,746.6 955.4,749.3 961.8,744.6 949.7,741.8" fill="#8a07ff"/>
<polygon points="431.4,579.2 443.7,607.3 450.9,602.8 438.5,574.7" fill="#00c7e8"/>
<polygon points="479.3,632.2 491.1,634.9 498.2,630.3 486.4,627.6" fill="#00a1f4"/>
<polygon points="588.4,669.7 600.3,689.2 607.3,684.5 595.3,665.0" fill="#006bfd"/>
<polygon points="863.0,747.1 875.1,749.9 881.7,745.1 869.6,742.4" fill="#8a07ff"/>
<polygon points="521.9,644.0 533.8,646.7 540.8,642.1 529.0,639.4" fill="#0095f6"/>
<polygon points="576.5,667.0 588.4,669.7 595.3,665.0 583.5,662.3" fill="#0079fb"/>
<polygon points="631.1,689.9 643.0,692.6 649.9,688.0 638.0,685.3" fill="#335cff"/>
<polygon points="685.6,712.9 697.6,715.6 704.4,710.9 692.4,708.2" fill="#5f3cff"/>
<polygon points="414.4,543.9 426.6,563.6 433.8,559.1 421.7,539.4" fill="#00e5d9"/>
<polygon points="409.3,511.2 421.7,539.4 428.8,535.0 416.5,506.8" fill="#00f3ce"/>
<polygon points="448.5,623.0 460.4,634.2 467.6,629.6 455.6,618.5" fill="#00a6f2"/>
<polygon points="428.9,168.9 441.5,206.7 448.6,202.7 436.3,173.9" fill="#ff0b02"/>
<polygon points="404.3,487.0 416.5,506.8 423.7,502.3 411.5,482.6" fill="#00fcc0"/>
<polygon points="955.4,749.3 967.3,760.4 973.7,755.7 961.8,744.6" fill="#9101ff"/>
<polygon points="893.8,747.9 905.9,750.6 912.5,745.9 900.3,743.1" fill="#8a07ff"/>
<polygon points="414.8,373.9 427.2,402.4 434.3,398.1 422.0,369.6" fill="#b9e884"/>
<polygon points="436.5,611.9 448.5,623.0 455.6,618.5 443.7,607.3" fill="#00b2ef"/>
<polygon points="716.3,713.6 728.3,716.3 735.1,711.6 723.1,708.9" fill="#5f3cff"/>
<polygon points="545.7,657.8 557.6,669.0 564.6,664.3 552.7,653.2" fill="#007ffa"/>
<polygon points="654.9,703.8 666.8,714.9 673.7,710.2 661.8,699.1" fill="#5842ff"/>
<polygon points="418.0,264.7 431.2,328.5 438.4,324.3 425.2,260.6" fill="#ff9a4a"/>
<polygon points="427.1,214.8 439.6,252.4 446.8,248.4 434.3,210.7" fill="#ff4c1f"/>
<polygon points="533.8,646.7 545.7,657.8 552.7,653.2 540.8,642.1" fill="#008df8"/>
<polygon points="643.0,692.6 654.9,703.8 661.8,699.1 649.9,688.0" fill="#4352ff"/>
<polygon points="924.6,748.6 936.8,751.4 943.2,746.6 931.1,743.8" fill="#8a07ff"/>
<polygon points="747.1,714.3 759.1,717.1 765.8,712.3 753.8,709.6" fill="#5f3cff"/>
<polygon points="801.7,737.3 813.7,740.0 820.4,735.3 808.3,732.5" fill="#7d19ff"/>
<polygon points="460.4,634.2 472.2,636.8 479.3,632.2 467.6,629.6" fill="#00a1f4"/>
<polygon points="844.4,749.1 856.4,751.9 863.0,747.1 851.0,744.4" fill="#8a07ff"/>
<polygon points="557.6,669.0 569.5,671.6 576.5,667.0 564.6,664.3" fill="#0079fb"/>
<polygon points="612.2,691.9 624.1,694.6 631.1,689.9 619.2,687.2" fill="#335cff"/>
<polygon points="666.8,714.9 678.8,717.6 685.6,712.9 673.7,710.2" fill="#5f3cff"/>
<polygon points="405.5,415.3 418.8,478.3 425.9,473.9 412.7,411.0" fill="#34fda5"/>
<polygon points="491.1,634.9 502.9,637.5 510.0,632.9 498.2,630.3" fill="#00a1f4"/>
<polygon points="771.0,728.2 782.9,739.3 789.6,734.6 777.7,723.5" fill="#7820ff"/>
<polygon points="409.6,341.0 422.0,369.6 429.2,365.4 416.8,336.8" fill="#edd06f"/>
<polygon points="875.1,749.9 887.3,752.6 893.8,747.9 881.7,745.1" fill="#8a07ff"/>
<polygon points="759.1,717.1 771.0,728.2 777.7,723.5 765.8,712.3" fill="#6932ff"/>
<polygon points="813.7,740.0 825.6,751.2 832.3,746.4 820.4,735.3" fill="#850eff"/>
<polygon points="697.6,715.6 709.5,718.3 716.3,713.6 704.4,710.9" fill="#5f3cff"/>
<polygon points="419.4,568.1 431.4,579.2 438.5,574.7 426.6,563.6" fill="#00d9e0"/>
<polygon points="905.9,750.6 918.1,753.4 924.6,748.6 912.5,745.9" fill="#8a07ff"/>
<polygon points="502.9,637.5 514.9,648.7 521.9,644.0 510.0,632.9" fill="#009af5"/>
<polygon points="728.3,716.3 740.3,719.1 747.1,714.3 735.1,711.6" fill="#5f3cff"/>
<polygon points="782.9,739.3 795.0,742.1 801.7,737.3 789.6,734.6" fill="#7d19ff"/>
<polygon points="825.6,751.2 837.7,753.9 844.4,749.1 832.3,746.4" fill="#8a07ff"/>
<polygon points="593.4,693.9 605.3,696.6 612.2,691.9 600.3,689.2" fill="#335cff"/>
<polygon points="936.8,751.4 948.9,754.1 955.4,749.3 943.2,746.6" fill="#8a07ff"/>
<polygon points="424.1,583.8 436.5,611.9 443.7,607.3 431.4,579.2" fill="#00c7e8"/>
<polygon points="472.2,636.8 484.0,639.5 491.1,634.9 479.3,632.2" fill="#00a1f4"/>
<polygon points="581.4,674.3 593.4,693.9 600.3,689.2 588.4,669.7" fill="#006bfd"/>
<polygon points="856.4,751.9 868.6,754.7 875.1,749.9 863.0,747.1" fill="#8a07ff"/>
<polygon points="514.9,648.7 526.7,651.3 533.8,646.7 521.9,644.0" fill="#0095f6"/>
<polygon points="569.5,671.6 581.4,674.3 588.4,669.7 576.5,667.0" fill="#0079fb"/>
<polygon points="624.1,694.6 636.1,697.3 643.0,692.6 631.1,689.9" fill="#335cff"/>
<polygon points="678.8,717.6 690.7,720.3 697.6,715.6 685.6,712.9" fill="#5f3cff"/>
<polygon points="407.2,548.4 419.4,568.1 426.6,563.6 414.4,543.9" fill="#00e5d9"/>
<polygon points="402.0,515.6 414.4,543.9 421.7,539.4 409.3,511.2" fill="#00f3ce"/>
<polygon points="441.3,627.6 453.2,638.8 460.4,634.2 448.5,623.0" fill="#00a6f2"/>
<polygon points="397.1,491.4 409.3,511.2 416.5,506.8 404.3,487.0" fill="#00fcc0"/>
<polygon points="948.9,754.1 960.8,765.2 967.3,760.4 955.4,749.3" fill="#9101ff"/>
<polygon points="887.3,752.6 899.4,755.4 905.9,750.6 893.8,747.9" fill="#8a07ff"/>
<polygon points="407.5,378.1 419.9,406.7 427.2,402.4 414.8,373.9" fill="#b9e884"/>
<polygon points="429.3,616.5 441.3,627.6 448.5,623.0 436.5,611.9" fill="#00b2ef"/>
<polygon points="709.5,718.3 721.5,721.1 728.3,716.3 716.3,713.6" fill="#5f3cff"/>
<polygon points="538.7,662.5 550.6,673.6 557.6,669.0 545.7,657.8" fill="#007ffa"/>
<polygon points="648.0,708.5 659.9,719.6 666.8,714.9 654.9,703.8" fill="#5842ff"/>
<polygon points="410.8,268.8 424.0,332.6 431.2,328.5 418.0,264.7" fill="#ff9a4a"/>
<polygon points="419.9,218.8 432.5,256.5 439.6,252.4 427.1,214.8" fill="#ff4c1f"/>
<polygon points="526.7,651.3 538.7,662.5 545.7,657.8 533.8,646.7" fill="#008df8"/>
<polygon points="421.7,172.9 434.3,210.7 441.5,206.7 428.9,168.9" fill="#ff0701"/>
<polygon points="636.1,697.3 648.0,708.5 654.9,703.8 643.0,692.6" fill="#4352ff"/>
<polygon points="918.1,753.4 930.3,756.1 936.8,751.4 924.6,748.6" fill="#8a07ff"/>
<polygon points="740.3,719.1 752.4,721.8 759.1,717.1 747.1,714.3" fill="#5f3cff"/>
<polygon points="795.0,742.1 807.1,744.8 813.7,740.0 801.7,737.3" fill="#7d19ff"/>
<polygon points="453.2,638.8 465.0,641.4 472.2,636.8 460.4,634.2" fill="#00a1f4"/>
<polygon points="837.7,753.9 849.8,756.7 856.4,751.9 844.4,749.1" fill="#8a07ff"/>
<polygon points="550.6,673.6 562.5,676.3 569.5,671.6 557.6,669.0" fill="#0079fb"/>
<polygon points="605.3,696.6 617.2,699.3 624.1,694.6 612.2,691.9" fill="#335cff"/>
<polygon points="659.9,719.6 671.9,722.3 678.8,717.6 666.8,714.9" fill="#5f3cff"/>
<polygon points="398.2,419.6 411.5,482.6 418.8,478.3 405.5,415.3" fill="#34fda5"/>
<polygon points="484.0,639.5 495.8,642.2 502.9,637.5 491.1,634.9" fill="#00a1f4"/>
<polygon points="764.3,732.9 776.2,744.1 782.9,739.3 771.0,728.2" fill="#7820ff"/>
<polygon points="402.4,345.2 414.8,373.9 422.0,369.6 409.6,341.0" fill="#edd06f"/>
<polygon points="868.6,754.7 880.7,757.4 887.3,752.6 875.1,749.9" fill="#8a07ff"/>
<polygon points="752.4,721.8 764.3,732.9 771.0,728.2 759.1,717.1" fill="#6932ff"/>
<polygon points="807.1,744.8 819.0,755.9 825.6,751.2 813.7,740.0" fill="#850eff"/>
<polygon points="690.7,720.3 702.7,723.1 709.5,718.3 697.6,715.6" fill="#5f3cff"/>
<polygon points="412.2,572.6 424.1,583.8 431.4,579.2 419.4,568.1" fill="#00d9e0"/>
<polygon points="899.4,755.4 911.6,758.2 918.1,753.4 905.9,750.6" fill="#8a07ff"/>
<polygon points="495.8,642.2 507.8,653.3 514.9,648.7 502.9,637.5" fill="#009af5"/>
<polygon points="721.5,721.1 733.5,723.8 740.3,719.1 728.3,716.3" fill="#5f3cff"/>
<polygon points="776.2,744.1 788.3,746.8 795.0,742.1 782.9,739.3" fill="#7d19ff"/>
<polygon points="819.0,755.9 831.1,758.7 837.7,753.9 825.6,751.2" fill="#8a07ff"/>
<polygon points="586.4,698.6 598.3,701.3 605.3,696.6 593.4,693.9" fill="#335cff"/>
<polygon points="930.3,756.1 942.4,758.9 948.9,754.1 936.8,751.4" fill="#8a07ff"/>
<polygon points="416.9,588.3 429.3,616.5 436.5,611.9 424.1,583.8" fill="#00c7e8"/>
<polygon points="465.0,641.4 476.8,644.1 484.0,639.5 472.2,636.8" fill="#00a1f4"/>
<polygon points="574.4,679.0 586.4,698.6 593.4,693.9 581.4,674.3" fill="#006bfd"/>
<polygon points="849.8,756.7 862.0,759.4 868.6,754.7 856.4,751.9" fill="#8a07ff"/>
<polygon points="507.8,653.3 519.6,656.0 526.7,651.3 514.9,648.7" fill="#0095f6"/>
<polygon points="562.5,676.3 574.4,679.0 581.4,674.3 569.5,671.6" fill="#0079fb"/>
<polygon points="617.2,699.3 629.1,702.0 636.1,697.3 624.1,694.6" fill="#335cff"/>
<polygon points="671.9,722.3 683.9,725.1 690.7,720.3 678.8,717.6" fill="#5f3cff"/>
<polygon points="400.0,552.9 412.2,572.6 419.4,568.1 407.2,548.4" fill="#00e5d9"/>
<polygon points="394.8,520.1 407.2,548.4 414.4,543.9 402.0,515.6" fill="#00f3ce"/>
<polygon points="434.1,632.2 446.1,643.4 453.2,638.8 441.3,627.6" fill="#00a6f2"/>
<polygon points="389.8,495.9 402.0,515.6 409.3,511.2 397.1,491.4" fill="#00fcc0"/>
<polygon points="942.4,758.9 954.4,770.0 960.8,765.2 948.9,754.1" fill="#9101ff"/>
<polygon points="880.7,757.4 892.8,760.2 899.4,755.4 887.3,752.6" fill="#8a07ff"/>
<polygon points="400.3,382.4 412.7,411.0 419.9,406.7 407.5,378.1" fill="#b9e884"/>
<polygon points="422.1,621.1 434.1,632.2 441.3,627.6 429.3,616.5" fill="#00b2ef"/>
<polygon points="702.7,723.1 714.7,725.8 721.5,721.1 709.5,718.3" fill="#5f3cff"/>
<polygon points="531.6,667.1 543.6,678.3 550.6,673.6 538.7,662.5" fill="#007ffa"/>
<polygon points="641.1,713.2 653.0,724.3 659.9,719.6 648.0,708.5" fill="#5842ff"/>
<polygon points="403.5,272.9 416.8,336.8 424.0,332.6 410.8,268.8" fill="#ff9a4a"/>
<polygon points="412.6,222.8 425.2,260.6 432.5,256.5 419.9,218.8" fill="#ff4c1f"/>
<polygon points="519.6,656.0 531.6,667.1 538.7,662.5 526.7,651.3" fill="#008df8"/>
<polygon points="414.5,176.9 427.1,214.8 434.3,210.7 421.7,172.9" fill="#ff0701"/>
<polygon points="629.1,702.0 641.1,713.2 648.0,708.5 636.1,697.3" fill="#4352ff"/>
<polygon points="911.6,758.2 923.7,760.9 930.3,756.1 918.1,753.4" fill="#8a07ff"/>
<polygon points="733.5,723.8 745.6,726.5 752.4,721.8 740.3,719.1" fill="#5f3cff"/>
<polygon points="788.3,746.8 800.4,749.6 807.1,744.8 795.0,742.1" fill="#7d19ff"/>
<polygon points="446.1,643.4 457.9,646.1 465.0,641.4 453.2,638.8" fill="#00a1f4"/>
<polygon points="831.1,758.7 843.2,761.5 849.8,756.7 837.7,753.9" fill="#8a07ff"/>
<polygon points="543.6,678.3 555.4,681.0 562.5,676.3 550.6,673.6" fill="#0079fb"/>
<polygon points="598.3,701.3 610.2,704.0 617.2,699.3 605.3,696.6" fill="#335cff"/>
<polygon points="653.0,724.3 665.0,727.1 671.9,722.3 659.9,719.6" fill="#5f3cff"/>
<polygon points="390.9,423.9 404.3,487.0 411.5,482.6 398.2,419.6" fill="#34fda5"/>
<polygon points="476.8,644.1 488.7,646.8 495.8,642.2 484.0,639.5" fill="#00a1f4"/>
<polygon points="757.5,737.7 769.5,748.8 776.2,744.1 764.3,732.9" fill="#7820ff"/>
<polygon points="395.1,349.4 407.5,378.1 414.8,373.9 402.4,345.2" fill="#edd06f"/>
<polygon points="862.0,759.4 874.1,762.2 880.7,757.4 868.6,754.7" fill="#8a07ff"/>
<polygon points="745.6,726.5 757.5,737.7 764.3,732.9 752.4,721.8" fill="#6932ff"/>
<polygon points="800.4,749.6 812.3,760.7 819.0,755.9 807.1,744.8" fill="#850eff"/>
<polygon points="683.9,725.1 695.9,727.8 702.7,723.1 690.7,720.3" fill="#5f3cff"/>
<polygon points="404.9,577.2 416.9,588.3 424.1,583.8 412.2,572.6" fill="#00d9e0"/>
<polygon points="892.8,760.2 905.0,763.0 911.6,758.2 899.4,755.4" fill="#8a07ff"/>
<polygon points="488.7,646.8 500.6,658.0 507.8,653.3 495.8,642.2" fill="#009af5"/>
<polygon points="714.7,725.8 726.7,728.6 733.5,723.8 721.5,721.1" fill="#5f3cff"/>
<polygon points="769.5,748.8 781.6,751.6 788.3,746.8 776.2,744.1" fill="#7d19ff"/>
<polygon points="812.3,760.7 824.4,763.5 831.1,758.7 819.0,755.9" fill="#8a07ff"/>
<polygon points="579.4,703.3 591.3,706.0 598.3,701.3 586.4,698.6" fill="#335cff"/>
<polygon points="923.7,760.9 935.9,763.7 942.4,758.9 930.3,756.1" fill="#8a07ff"/>
<polygon points="409.7,592.9 422.1,621.1 429.3,616.5 416.9,588.3" fill="#00c7e8"/>
<polygon points="457.9,646.1 469.7,648.8 476.8,644.1 465.0,641.4" fill="#00a1f4"/>
<polygon points="567.3,683.7 579.4,703.3 586.4,698.6 574.4,679.0" fill="#006bfd"/>
<polygon points="843.2,761.5 855.3,764.3 862.0,759.4 849.8,756.7" fill="#8a07ff"/>
<polygon points="500.6,658.0 512.5,660.6 519.6,656.0 507.8,653.3" fill="#0095f6"/>
<polygon points="555.4,681.0 567.3,683.7 574.4,679.0 562.5,676.3" fill="#0079fb"/>
<polygon points="610.2,704.0 622.2,706.8 629.1,702.0 617.2,699.3" fill="#335cff"/>
<polygon points="665.0,727.1 677.0,729.8 683.9,725.1 671.9,722.3" fill="#5f3cff"/>
<polygon points="392.7,557.4 404.9,577.2 412.2,572.6 400.0,552.9" fill="#00e5d9"/>
<polygon points="387.5,524.6 400.0,552.9 407.2,548.4 394.8,520.1" fill="#00f3ce"/>
<polygon points="426.8,636.9 438.8,648.0 446.1,643.4 434.1,632.2" fill="#00a6f2"/>
<polygon points="382.5,500.3 394.8,520.1 402.0,515.6 389.8,495.9" fill="#00fcc0"/>
<polygon points="935.9,763.7 947.9,774.9 954.4,770.0 942.4,758.9" fill="#9101ff"/>
<polygon points="874.1,762.2 886.3,765.0 892.8,760.2 880.7,757.4" fill="#8a07ff"/>
<polygon points="393.0,386.7 405.5,415.3 412.7,411.0 400.3,382.4" fill="#b9e884"/>
<polygon points="414.8,625.7 426.8,636.9 434.1,632.2 422.1,621.1" fill="#00b2ef"/>
<polygon points="695.9,727.8 707.9,730.6 714.7,725.8 702.7,723.1" fill="#5f3cff"/>
<polygon points="524.5,671.8 536.5,683.0 543.6,678.3 531.6,667.1" fill="#007ffa"/>
<polygon points="634.1,717.9 646.1,729.1 653.0,724.3 641.1,713.2" fill="#5842ff"/>
<polygon points="396.2,277.0 409.6,341.0 416.8,336.8 403.5,272.9" fill="#ff9a4a"/>
<polygon points="405.3,226.9 418.0,264.7 425.2,260.6 412.6,222.8" fill="#ff4c1f"/>
<polygon points="512.5,660.6 524.5,671.8 531.6,667.1 519.6,656.0" fill="#008df8"/>
<polygon points="407.2,180.9 419.9,218.8 427.1,214.8 414.5,176.9" fill="#ff0701"/>
<polygon points="622.2,706.8 634.1,717.9 641.1,713.2 629.1,702.0" fill="#4352ff"/>
<polygon points="905.0,763.0 917.2,765.7 923.7,760.9 911.6,758.2" fill="#8a07ff"/>
<polygon points="726.7,728.6 738.8,731.3 745.6,726.5 733.5,723.8" fill="#5f3cff"/>
<polygon points="781.6,751.6 793.6,754.4 800.4,749.6 788.3,746.8" fill="#7d19ff"/>
<polygon points="438.8,648.0 450.7,650.7 457.9,646.1 446.1,643.4" fill="#00a1f4"/>
<polygon points="824.4,763.5 836.5,766.3 843.2,761.5 831.1,758.7" fill="#8a07ff"/>
<polygon points="536.5,683.0 548.4,685.7 555.4,681.0 543.6,678.3" fill="#0079fb"/>
<polygon points="591.3,706.0 603.2,708.8 610.2,704.0 598.3,701.3" fill="#335cff"/>
<polygon points="646.1,729.1 658.1,731.8 665.0,727.1 653.0,724.3" fill="#5f3cff"/>
<polygon points="383.6,428.3 397.1,491.4 404.3,487.0 390.9,423.9" fill="#34fda5"/>
<polygon points="469.7,648.8 481.5,651.4 488.7,646.8 476.8,644.1" fill="#00a1f4"/>
<polygon points="750.8,742.5 762.7,753.6 769.5,748.8 757.5,737.7" fill="#7820ff"/>
<polygon points="387.8,353.7 400.3,382.4 407.5,378.1 395.1,349.4" fill="#edd06f"/>
<polygon points="855.3,764.3 867.5,767.0 874.1,762.2 862.0,759.4" fill="#8a07ff"/>
<polygon points="738.8,731.3 750.8,742.5 757.5,737.7 745.6,726.5" fill="#6932ff"/>
<polygon points="793.6,754.4 805.6,765.5 812.3,760.7 800.4,749.6" fill="#850eff"/>
<polygon points="677.0,729.8 689.0,732.6 695.9,727.8 683.9,725.1" fill="#5f3cff"/>
<polygon points="397.6,581.7 409.7,592.9 416.9,588.3 404.9,577.2" fill="#00d9e0"/>
<polygon points="886.3,765.0 898.4,767.8 905.0,763.0 892.8,760.2" fill="#8a07ff"/>
<polygon points="481.5,651.4 493.5,662.6 500.6,658.0 488.7,646.8" fill="#009af5"/>
<polygon points="707.9,730.6 719.9,733.3 726.7,728.6 714.7,725.8" fill="#5f3cff"/>
<polygon points="762.7,753.6 774.8,756.4 781.6,751.6 769.5,748.8" fill="#7d19ff"/>
<polygon points="397.3,752.3 409.1,755.1 416.1,741.9 404.4,739.1" fill="#7820ff"/>
<polygon points="805.6,765.5 817.7,768.3 824.4,763.5 812.3,760.7" fill="#8a07ff"/>
<polygon points="572.4,708.0 584.3,710.8 591.3,706.0 579.4,703.3" fill="#335cff"/>
<polygon points="385.1,732.7 397.3,752.3 404.4,739.1 392.1,719.5" fill="#6932ff"/>
<polygon points="917.2,765.7 929.4,768.5 935.9,763.7 923.7,760.9" fill="#8a07ff"/>
<polygon points="402.4,597.5 414.8,625.7 422.1,621.1 409.7,592.9" fill="#00c7e8"/>
<polygon points="450.7,650.7 462.5,653.4 469.7,648.8 457.9,646.1" fill="#00a1f4"/>
<polygon points="560.3,688.4 572.4,708.0 579.4,703.3 567.3,683.7" fill="#006bfd"/>
<polygon points="836.5,766.3 848.7,769.1 855.3,764.3 843.2,761.5" fill="#8a07ff"/>
<polygon points="493.5,662.6 505.4,665.3 512.5,660.6 500.6,658.0" fill="#0095f6"/>
<polygon points="548.4,685.7 560.3,688.4 567.3,683.7 555.4,681.0" fill="#0079fb"/>
<polygon points="603.2,708.8 615.2,711.5 622.2,706.8 610.2,704.0" fill="#335cff"/>
<polygon points="658.1,731.8 670.1,734.6 677.0,729.8 665.0,727.1" fill="#5f3cff"/>
<polygon points="385.4,561.9 397.6,581.7 404.9,577.2 392.7,557.4" fill="#00e5d9"/>
<polygon points="380.2,529.0 392.7,557.4 400.0,552.9 387.5,524.6" fill="#00f3ce"/>
<polygon points="419.6,641.5 431.6,652.7 438.8,648.0 426.8,636.9" fill="#00a6f2"/>
<polygon points="349.0,699.2 361.0,710.4 368.3,705.6 356.3,694.5" fill="#2362fe"/>
<polygon points="404.4,739.1 416.1,741.9 422.7,711.8 410.9,709.1" fill="#5842ff"/>
<polygon points="375.2,504.7 387.5,524.6 394.8,520.1 382.5,500.3" fill="#00fcc0"/>
<polygon points="929.4,768.5 941.4,779.7 947.9,774.9 935.9,763.7" fill="#9101ff"/>
<polygon points="867.5,767.0 879.7,769.8 886.3,765.0 874.1,762.2" fill="#8a07ff"/>
<polygon points="385.7,390.9 398.2,419.6 405.5,415.3 393.0,386.7" fill="#b9e884"/>
<polygon points="407.6,630.3 419.6,641.5 426.8,636.9 414.8,625.7" fill="#00b2ef"/>
<polygon points="689.0,732.6 701.0,735.3 707.9,730.6 695.9,727.8" fill="#5f3cff"/>
<polygon points="517.4,676.5 529.4,687.7 536.5,683.0 524.5,671.8" fill="#007ffa"/>
<polygon points="392.1,719.5 404.4,739.1 410.9,709.1 398.7,689.5" fill="#4352ff"/>
<polygon points="361.0,710.4 373.0,721.6 380.1,708.4 368.3,705.6" fill="#3e56ff"/>
<polygon points="627.2,722.7 639.2,733.9 646.1,729.1 634.1,717.9" fill="#5842ff"/>
<polygon points="388.9,281.2 402.4,345.2 409.6,341.0 396.2,277.0" fill="#ff9a4a"/>
<polygon points="398.1,231.0 410.8,268.8 418.0,264.7 405.3,226.9" fill="#ff4c1f"/>
<polygon points="505.4,665.3 517.4,676.5 524.5,671.8 512.5,660.6" fill="#008df8"/>
<polygon points="399.9,184.9 412.6,222.8 419.9,218.8 407.2,180.9" fill="#ff0701"/>
<polygon points="615.2,711.5 627.2,722.7 634.1,717.9 622.2,706.8" fill="#4352ff"/>
<polygon points="373.0,721.6 385.1,732.7 392.1,719.5 380.1,708.4" fill="#4c4cff"/>
<polygon points="898.4,767.8 910.6,770.6 917.2,765.7 905.0,763.0" fill="#8a07ff"/>
<polygon points="719.9,733.3 732.0,736.1 738.8,731.3 726.7,728.6" fill="#5f3cff"/>
<polygon points="774.8,756.4 786.9,759.2 793.6,754.4 781.6,751.6" fill="#7d19ff"/>
<polygon points="431.6,652.7 443.4,655.4 450.7,650.7 438.8,648.0" fill="#00a1f4"/>
<polygon points="409.1,755.1 420.9,757.8 427.9,744.6 416.1,741.9" fill="#7820ff"/>
<polygon points="817.7,768.3 829.9,771.1 836.5,766.3 824.4,763.5" fill="#8a07ff"/>
<polygon points="529.4,687.7 541.3,690.4 548.4,685.7 536.5,683.0" fill="#0079fb"/>
<polygon points="584.3,710.8 596.2,713.5 603.2,708.8 591.3,706.0" fill="#335cff"/>
<polygon points="639.2,733.9 651.2,736.6 658.1,731.8 646.1,729.1" fill="#5f3cff"/>
<polygon points="390.0,757.1 401.8,759.9 409.1,755.1 397.3,752.3" fill="#7d19ff"/>
<polygon points="376.3,432.6 389.8,495.9 397.1,491.4 383.6,428.3" fill="#34fda5"/>
<polygon points="368.3,705.6 380.1,708.4 386.7,678.3 374.6,667.1" fill="#0074fc"/>
<polygon points="462.5,653.4 474.3,656.1 481.5,651.4 469.7,648.8" fill="#00a1f4"/>
<polygon points="744.0,747.3 756.0,758.4 762.7,753.6 750.8,742.5" fill="#7820ff"/>
<polygon points="380.5,357.9 393.0,386.7 400.3,382.4 387.8,353.7" fill="#edd06f"/>
<polygon points="377.7,737.5 390.0,757.1 397.3,752.3 385.1,732.7" fill="#6f2bff"/>
<polygon points="848.7,769.1 860.9,771.9 867.5,767.0 855.3,764.3" fill="#8a07ff"/>
<polygon points="356.3,694.5 368.3,705.6 374.6,667.1 362.3,647.4" fill="#0082fa"/>
<polygon points="732.0,736.1 744.0,747.3 750.8,742.5 738.8,731.3" fill="#6932ff"/>
<polygon points="380.1,708.4 392.1,719.5 398.7,689.5 386.7,678.3" fill="#006bfd"/>
<polygon points="786.9,759.2 798.9,770.4 805.6,765.5 793.6,754.4" fill="#850eff"/>
<polygon points="670.1,734.6 682.1,737.4 689.0,732.6 677.0,729.8" fill="#5f3cff"/>
<polygon points="390.4,586.3 402.4,597.5 409.7,592.9 397.6,581.7" fill="#00d9e0"/>
<polygon points="420.9,757.8 432.9,769.0 439.9,755.8 427.9,744.6" fill="#7d19ff"/>
<polygon points="416.1,741.9 427.9,744.6 434.6,714.6 422.7,711.8" fill="#5842ff"/>
<polygon points="879.7,769.8 891.8,772.6 898.4,767.8 886.3,765.0" fill="#8a07ff"/>
<polygon points="474.3,656.1 486.4,667.3 493.5,662.6 481.5,651.4" fill="#009af5"/>
<polygon points="701.0,735.3 713.1,738.1 719.9,733.3 707.9,730.6" fill="#5f3cff"/>
<polygon points="756.0,758.4 768.1,761.2 774.8,756.4 762.7,753.6" fill="#7d19ff"/>
<polygon points="341.9,712.4 353.9,723.6 361.0,710.4 349.0,699.2" fill="#335cff"/>
<polygon points="798.9,770.4 811.0,773.2 817.7,768.3 805.6,765.5" fill="#8a07ff"/>
<polygon points="565.3,712.8 577.3,715.5 584.3,710.8 572.4,708.0" fill="#335cff"/>
<polygon points="353.9,723.6 365.7,726.3 373.0,721.6 361.0,710.4" fill="#484fff"/>
<polygon points="910.6,770.6 922.9,773.4 929.4,768.5 917.2,765.7" fill="#8a07ff"/>
<polygon points="432.9,769.0 444.7,771.8 451.8,758.6 439.9,755.8" fill="#850eff"/>
<polygon points="395.1,602.1 407.6,630.3 414.8,625.7 402.4,597.5" fill="#00c7e8"/>
<polygon points="443.4,655.4 455.3,658.1 462.5,653.4 450.7,650.7" fill="#00a1f4"/>
<polygon points="553.2,693.1 565.3,712.8 572.4,708.0 560.3,688.4" fill="#006bfd"/>
<polygon points="365.7,726.3 377.7,737.5 385.1,732.7 373.0,721.6" fill="#5842ff"/>
<polygon points="829.9,771.1 842.0,773.9 848.7,769.1 836.5,766.3" fill="#8a07ff"/>
<polygon points="486.4,667.3 498.2,670.0 505.4,665.3 493.5,662.6" fill="#0095f6"/>
<polygon points="541.3,690.4 553.2,693.1 560.3,688.4 548.4,685.7" fill="#0079fb"/>
<polygon points="596.2,713.5 608.2,716.3 615.2,711.5 603.2,708.8" fill="#335cff"/>
<polygon points="651.2,736.6 663.2,739.4 670.1,734.6 658.1,731.8" fill="#5f3cff"/>
<polygon points="378.1,566.5 390.4,586.3 397.6,581.7 385.4,561.9" fill="#00e5d9"/>
<polygon points="401.8,759.9 413.6,762.7 420.9,757.8 409.1,755.1" fill="#7d19ff"/>
<polygon points="372.8,533.5 385.4,561.9 392.7,557.4 380.2,529.0" fill="#00f3ce"/>
<polygon points="412.3,646.2 424.4,657.4 431.6,652.7 419.6,641.5" fill="#00a6f2"/>
<polygon points="427.9,744.6 439.9,755.8 446.4,717.3 434.6,714.6" fill="#5c3fff"/>
<polygon points="367.9,509.2 380.2,529.0 387.5,524.6 375.2,504.7" fill="#00fcc0"/>
<polygon points="922.9,773.4 934.8,784.5 941.4,779.7 929.4,768.5" fill="#9101ff"/>
<polygon points="444.7,771.8 456.8,783.0 463.8,769.8 451.8,758.6" fill="#8a07ff"/>
<polygon points="860.9,771.9 873.0,774.6 879.7,769.8 867.5,767.0" fill="#8a07ff"/>
<polygon points="378.4,395.2 390.9,423.9 398.2,419.6 385.7,390.9" fill="#b9e884"/>
<polygon points="400.3,635.0 412.3,646.2 419.6,641.5 407.6,630.3" fill="#00b2ef"/>
<polygon points="682.1,737.4 694.2,740.1 701.0,735.3 689.0,732.6" fill="#5f3cff"/>
<polygon points="510.3,681.2 522.3,692.4 529.4,687.7 517.4,676.5" fill="#007ffa"/>
<polygon points="620.2,727.5 632.2,738.6 639.2,733.9 627.2,722.7" fill="#5842ff"/>
<polygon points="381.6,285.3 395.1,349.4 402.4,345.2 388.9,281.2" fill="#ff9a4a"/>
<polygon points="390.8,235.0 403.5,272.9 410.8,268.8 398.1,231.0" fill="#ff4c1f"/>
<polygon points="498.2,670.0 510.3,681.2 517.4,676.5 505.4,665.3" fill="#008df8"/>
<polygon points="392.6,188.9 405.3,226.9 412.6,222.8 399.9,184.9" fill="#ff0701"/>
<polygon points="608.2,716.3 620.2,727.5 627.2,722.7 615.2,711.5" fill="#4352ff"/>
<polygon points="891.8,772.6 904.1,775.4 910.6,770.6 898.4,767.8" fill="#8a07ff"/>
<polygon points="413.6,762.7 425.7,773.8 432.9,769.0 420.9,757.8" fill="#850eff"/>
<polygon points="713.1,738.1 725.2,740.9 732.0,736.1 719.9,733.3" fill="#5f3cff"/>
<polygon points="768.1,761.2 780.2,764.0 786.9,759.2 774.8,756.4" fill="#7d19ff"/>
<polygon points="424.4,657.4 436.2,660.1 443.4,655.4 431.6,652.7" fill="#00a1f4"/>
<polygon points="456.8,783.0 468.6,785.8 475.6,772.6 463.8,769.8" fill="#9101ff"/>
<polygon points="811.0,773.2 823.2,775.9 829.9,771.1 817.7,768.3" fill="#8a07ff"/>
<polygon points="522.3,692.4 534.2,695.1 541.3,690.4 529.4,687.7" fill="#0079fb"/>
<polygon points="577.3,715.5 589.2,718.3 596.2,713.5 584.3,710.8" fill="#335cff"/>
<polygon points="632.2,738.6 644.2,741.4 651.2,736.6 639.2,733.9" fill="#5f3cff"/>
<polygon points="334.5,717.1 346.6,728.3 353.9,723.6 341.9,712.4" fill="#4352ff"/>
<polygon points="382.7,761.9 394.5,764.7 401.8,759.9 390.0,757.1" fill="#7d19ff"/>
<polygon points="368.9,437.0 382.5,500.3 389.8,495.9 376.3,432.6" fill="#34fda5"/>
<polygon points="455.3,658.1 467.1,660.8 474.3,656.1 462.5,653.4" fill="#00a1f4"/>
<polygon points="737.2,752.1 749.2,763.3 756.0,758.4 744.0,747.3" fill="#7820ff"/>
<polygon points="439.9,755.8 451.8,758.6 458.3,720.1 446.4,717.3" fill="#5f3cff"/>
<polygon points="373.1,362.2 385.7,390.9 393.0,386.7 380.5,357.9" fill="#edd06f"/>
<polygon points="370.4,742.3 382.7,761.9 390.0,757.1 377.7,737.5" fill="#6f2bff"/>
<polygon points="425.7,773.8 437.5,776.6 444.7,771.8 432.9,769.0" fill="#8a07ff"/>
<polygon points="842.0,773.9 854.2,776.7 860.9,771.9 848.7,769.1" fill="#8a07ff"/>
<polygon points="725.2,740.9 737.2,752.1 744.0,747.3 732.0,736.1" fill="#6932ff"/>
<polygon points="780.2,764.0 792.2,775.2 798.9,770.4 786.9,759.2" fill="#850eff"/>
<polygon points="663.2,739.4 675.2,742.2 682.1,737.4 670.1,734.6" fill="#5f3cff"/>
<polygon points="383.0,590.8 395.1,602.1 402.4,597.5 390.4,586.3" fill="#00d9e0"/>
<polygon points="398.7,689.5 410.9,709.1 417.1,662.0 405.1,650.8" fill="#008af8"/>
<polygon points="336.4,671.1 349.0,699.2 356.3,694.5 342.3,623.8" fill="#008ff7"/>
<polygon points="346.6,728.3 358.4,731.1 365.7,726.3 353.9,723.6" fill="#4c4cff"/>
<polygon points="487.7,783.7 499.5,786.5 506.6,773.3 494.5,762.1" fill="#8f02ff"/>
<polygon points="410.9,709.1 422.7,711.8 428.9,664.7 417.1,662.0" fill="#007ffa"/>
<polygon points="873.0,774.6 885.2,777.4 891.8,772.6 879.7,769.8" fill="#8a07ff"/>
<polygon points="467.1,660.8 479.2,672.0 486.4,667.3 474.3,656.1" fill="#009af5"/>
<polygon points="694.2,740.1 706.2,742.9 713.1,738.1 701.0,735.3" fill="#5f3cff"/>
<polygon points="749.2,763.3 761.3,766.0 768.1,761.2 756.0,758.4" fill="#7d19ff"/>
<polygon points="451.8,758.6 463.8,769.8 470.3,731.3 458.3,720.1" fill="#6932ff"/>
<polygon points="475.6,772.6 487.7,783.7 494.5,762.1 482.3,742.5" fill="#8212ff"/>
<polygon points="468.6,785.8 480.5,788.6 487.7,783.7 475.6,772.6" fill="#9400ff"/>
<polygon points="437.5,776.6 449.5,787.8 456.8,783.0 444.7,771.8" fill="#9101ff"/>
<polygon points="792.2,775.2 804.3,778.0 811.0,773.2 798.9,770.4" fill="#8a07ff"/>
<polygon points="463.8,769.8 475.6,772.6 482.3,742.5 470.3,731.3" fill="#7524ff"/>
<polygon points="558.3,717.5 570.2,720.3 577.3,715.5 565.3,712.8" fill="#335cff"/>
<polygon points="386.7,678.3 398.7,689.5 405.1,650.8 393.0,639.6" fill="#009af5"/>
<polygon points="904.1,775.4 916.3,778.2 922.9,773.4 910.6,770.6" fill="#8a07ff"/>
<polygon points="387.8,606.7 400.3,635.0 407.6,630.3 395.1,602.1" fill="#00c7e8"/>
<polygon points="436.2,660.1 448.1,662.8 455.3,658.1 443.4,655.4" fill="#00a1f4"/>
<polygon points="546.1,697.9 558.3,717.5 565.3,712.8 553.2,693.1" fill="#006bfd"/>
<polygon points="342.3,623.8 356.3,694.5 362.3,647.4 350.3,636.2" fill="#00a9f2"/>
<polygon points="358.4,731.1 370.4,742.3 377.7,737.5 365.7,726.3" fill="#5842ff"/>
<polygon points="823.2,775.9 835.4,778.7 842.0,773.9 829.9,771.1" fill="#8a07ff"/>
<polygon points="479.2,672.0 491.1,674.7 498.2,670.0 486.4,667.3" fill="#0095f6"/>
<polygon points="534.2,695.1 546.1,697.9 553.2,693.1 541.3,690.4" fill="#0079fb"/>
<polygon points="589.2,718.3 601.2,721.0 608.2,716.3 596.2,713.5" fill="#335cff"/>
<polygon points="644.2,741.4 656.3,744.2 663.2,739.4 651.2,736.6" fill="#5f3cff"/>
<polygon points="370.7,571.0 383.0,590.8 390.4,586.3 378.1,566.5" fill="#00e5d9"/>
<polygon points="394.5,764.7 406.3,767.5 413.6,762.7 401.8,759.9" fill="#7d19ff"/>
<polygon points="449.5,787.8 461.4,790.6 468.6,785.8 456.8,783.0" fill="#9600ff"/>
<polygon points="365.5,538.0 378.1,566.5 385.4,561.9 372.8,533.5" fill="#00f3ce"/>
<polygon points="405.1,650.8 417.1,662.0 424.4,657.4 412.3,646.2" fill="#00a6f2"/>
<polygon points="499.5,786.5 511.4,789.3 518.5,776.1 506.6,773.3" fill="#9101ff"/>
<polygon points="360.5,513.7 372.8,533.5 380.2,529.0 367.9,509.2" fill="#00fcc0"/>
<polygon points="916.3,778.2 928.3,789.4 934.8,784.5 922.9,773.4" fill="#9101ff"/>
<polygon points="854.2,776.7 866.4,779.5 873.0,774.6 860.9,771.9" fill="#8a07ff"/>
<polygon points="328.1,650.2 341.9,712.4 349.0,699.2 336.4,671.1" fill="#0087f9"/>
<polygon points="371.0,399.6 383.6,428.3 390.9,423.9 378.4,395.2" fill="#b9e884"/>
<polygon points="393.0,639.6 405.1,650.8 412.3,646.2 400.3,635.0" fill="#00b2ef"/>
<polygon points="675.2,742.2 687.3,744.9 694.2,740.1 682.1,737.4" fill="#5f3cff"/>
<polygon points="503.1,685.9 515.2,697.1 522.3,692.4 510.3,681.2" fill="#007ffa"/>
<polygon points="613.2,732.2 625.3,743.4 632.2,738.6 620.2,727.5" fill="#5842ff"/>
<polygon points="480.5,788.6 492.4,791.4 499.5,786.5 487.7,783.7" fill="#9600ff"/>
<polygon points="374.2,289.5 387.8,353.7 395.1,349.4 381.6,285.3" fill="#ff9a4a"/>
<polygon points="383.4,239.1 396.2,277.0 403.5,272.9 390.8,235.0" fill="#ff4c1f"/>
<polygon points="491.1,674.7 503.1,685.9 510.3,681.2 498.2,670.0" fill="#008df8"/>
<polygon points="385.3,192.9 398.1,231.0 405.3,226.9 392.6,188.9" fill="#ff0701"/>
<polygon points="601.2,721.0 613.2,732.2 620.2,727.5 608.2,716.3" fill="#4352ff"/>
<polygon points="374.6,667.1 386.7,678.3 393.0,639.6 380.4,611.3" fill="#00adf1"/>
<polygon points="422.7,711.8 434.6,714.6 440.8,667.5 428.9,664.7" fill="#007ffa"/>
<polygon points="885.2,777.4 897.5,780.2 904.1,775.4 891.8,772.6" fill="#8a07ff"/>
<polygon points="406.3,767.5 418.4,778.7 425.7,773.8 413.6,762.7" fill="#850eff"/>
<polygon points="706.2,742.9 718.3,745.7 725.2,740.9 713.1,738.1" fill="#5f3cff"/>
<polygon points="761.3,766.0 773.4,768.8 780.2,764.0 768.1,761.2" fill="#7d19ff"/>
<polygon points="494.5,762.1 506.6,773.3 513.3,743.2 501.1,723.6" fill="#6c2eff"/>
<polygon points="417.1,662.0 428.9,664.7 436.2,660.1 424.4,657.4" fill="#00a1f4"/>
<polygon points="804.3,778.0 816.5,780.8 823.2,775.9 811.0,773.2" fill="#8a07ff"/>
<polygon points="506.6,773.3 518.5,776.1 525.2,746.0 513.3,743.2" fill="#7820ff"/>
<polygon points="515.2,697.1 527.1,699.9 534.2,695.1 522.3,692.4" fill="#0079fb"/>
<polygon points="570.2,720.3 582.2,723.0 589.2,718.3 577.3,715.5" fill="#335cff"/>
<polygon points="625.3,743.4 637.3,746.2 644.2,741.4 632.2,738.6" fill="#5f3cff"/>
<polygon points="327.1,721.9 339.2,733.1 346.6,728.3 334.5,717.1" fill="#4352ff"/>
<polygon points="375.4,766.7 387.2,769.5 394.5,764.7 382.7,761.9" fill="#7d19ff"/>
<polygon points="361.6,441.4 375.2,504.7 382.5,500.3 368.9,437.0" fill="#34fda5"/>
<polygon points="448.1,662.8 459.9,665.5 467.1,660.8 455.3,658.1" fill="#00a1f4"/>
<polygon points="730.3,756.9 742.4,768.1 749.2,763.3 737.2,752.1" fill="#7820ff"/>
<polygon points="365.8,366.4 378.4,395.2 385.7,390.9 373.1,362.2" fill="#edd06f"/>
<polygon points="363.1,747.1 375.4,766.7 382.7,761.9 370.4,742.3" fill="#6f2bff"/>
<polygon points="418.4,778.7 430.2,781.5 437.5,776.6 425.7,773.8" fill="#8a07ff"/>
<polygon points="835.4,778.7 847.5,781.5 854.2,776.7 842.0,773.9" fill="#8a07ff"/>
<polygon points="718.3,745.7 730.3,756.9 737.2,752.1 725.2,740.9" fill="#6932ff"/>
<polygon points="773.4,768.8 785.4,780.0 792.2,775.2 780.2,764.0" fill="#850eff"/>
<polygon points="656.3,744.2 668.3,747.0 675.2,742.2 663.2,739.4" fill="#5f3cff"/>
<polygon points="375.7,595.4 387.8,606.7 395.1,602.1 383.0,590.8" fill="#00d9e0"/>
<polygon points="461.4,790.6 473.3,793.5 480.5,788.6 468.6,785.8" fill="#9600ff"/>
<polygon points="322.2,697.5 334.5,717.1 341.9,712.4 328.1,650.2" fill="#007cfb"/>
<polygon points="511.4,789.3 523.4,792.2 530.4,778.9 518.5,776.1" fill="#9101ff"/>
<polygon points="339.2,733.1 351.0,735.9 358.4,731.1 346.6,728.3" fill="#4c4cff"/>
<polygon points="866.4,779.5 878.6,782.3 885.2,777.4 873.0,774.6" fill="#8a07ff"/>
<polygon points="459.9,665.5 472.0,676.7 479.2,672.0 467.1,660.8" fill="#009af5"/>
<polygon points="687.3,744.9 699.3,747.7 706.2,742.9 694.2,740.1" fill="#5f3cff"/>
<polygon points="742.4,768.1 754.5,770.9 761.3,766.0 749.2,763.3" fill="#7d19ff"/>
<polygon points="492.4,791.4 504.3,794.2 511.4,789.3 499.5,786.5" fill="#9600ff"/>
<polygon points="430.2,781.5 442.3,792.7 449.5,787.8 437.5,776.6" fill="#9101ff"/>
<polygon points="362.3,647.4 374.6,667.1 380.4,611.3 368.4,600.0" fill="#00c1eb"/>
<polygon points="518.5,776.1 530.4,778.9 537.3,757.2 525.2,746.0" fill="#7a1dff"/>
<polygon points="785.4,780.0 797.6,782.9 804.3,778.0 792.2,775.2" fill="#8a07ff"/>
<polygon points="314.8,702.2 327.1,721.9 334.5,717.1 322.2,697.5" fill="#006bfd"/>
<polygon points="551.2,722.3 563.1,725.1 570.2,720.3 558.3,717.5" fill="#335cff"/>
<polygon points="434.6,714.6 446.4,717.3 452.7,670.2 440.8,667.5" fill="#007ffa"/>
<polygon points="897.5,780.2 909.7,783.1 916.3,778.2 904.1,775.4" fill="#8a07ff"/>
<polygon points="380.4,611.3 393.0,639.6 400.3,635.0 387.8,606.7" fill="#00c7e8"/>
<polygon points="428.9,664.7 440.8,667.5 448.1,662.8 436.2,660.1" fill="#00a1f4"/>
<polygon points="539.0,702.6 551.2,722.3 558.3,717.5 546.1,697.9" fill="#006bfd"/>
<polygon points="351.0,735.9 363.1,747.1 370.4,742.3 358.4,731.1" fill="#5842ff"/>
<polygon points="816.5,780.8 828.7,783.6 835.4,778.7 823.2,775.9" fill="#8a07ff"/>
<polygon points="472.0,676.7 483.9,679.4 491.1,674.7 479.2,672.0" fill="#0095f6"/>
<polygon points="527.1,699.9 539.0,702.6 546.1,697.9 534.2,695.1" fill="#0079fb"/>
<polygon points="582.2,723.0 594.2,725.8 601.2,721.0 589.2,718.3" fill="#335cff"/>
<polygon points="637.3,746.2 649.3,749.0 656.3,744.2 644.2,741.4" fill="#5f3cff"/>
<polygon points="363.4,575.6 375.7,595.4 383.0,590.8 370.7,571.0" fill="#00e5d9"/>
<polygon points="387.2,769.5 399.0,772.3 406.3,767.5 394.5,764.7" fill="#7d19ff"/>
<polygon points="442.3,792.7 454.2,795.5 461.4,790.6 449.5,787.8" fill="#9600ff"/>
<polygon points="482.3,742.5 494.5,762.1 501.1,723.6 488.8,695.4" fill="#484fff"/>
<polygon points="350.3,636.2 362.3,647.4 368.4,600.0 356.3,588.8" fill="#00cde6"/>
<polygon points="358.1,542.6 370.7,571.0 378.1,566.5 365.5,538.0" fill="#00f3ce"/>
<polygon points="530.4,778.9 542.4,790.1 549.2,760.0 537.3,757.2" fill="#8212ff"/>
<polygon points="523.4,792.2 535.3,795.0 542.4,790.1 530.4,778.9" fill="#9400ff"/>
<polygon points="353.1,518.2 365.5,538.0 372.8,533.5 360.5,513.7" fill="#00fcc0"/>
<polygon points="909.7,783.1 921.7,794.3 928.3,789.4 916.3,778.2" fill="#9101ff"/>
<polygon points="847.5,781.5 859.7,784.4 866.4,779.5 854.2,776.7" fill="#8a07ff"/>
<polygon points="363.7,403.9 376.3,432.6 383.6,428.3 371.0,399.6" fill="#b9e884"/>
<polygon points="668.3,747.0 680.4,749.7 687.3,744.9 675.2,742.2" fill="#5f3cff"/>
<polygon points="495.9,690.6 508.0,701.9 515.2,697.1 503.1,685.9" fill="#007ffa"/>
<polygon points="606.2,737.0 618.3,748.2 625.3,743.4 613.2,732.2" fill="#5842ff"/>
<polygon points="473.3,793.5 485.2,796.3 492.4,791.4 480.5,788.6" fill="#9600ff"/>
<polygon points="366.9,293.7 380.5,357.9 387.8,353.7 374.2,289.5" fill="#ff9a4a"/>
<polygon points="376.1,243.2 388.9,281.2 396.2,277.0 383.4,239.1" fill="#ff4c1f"/>
<polygon points="483.9,679.4 495.9,690.6 503.1,685.9 491.1,674.7" fill="#008df8"/>
<polygon points="377.9,196.9 390.8,235.0 398.1,231.0 385.3,192.9" fill="#ff0701"/>
<polygon points="594.2,725.8 606.2,737.0 613.2,732.2 601.2,721.0" fill="#4352ff"/>
<polygon points="446.4,717.3 458.3,720.1 464.8,681.4 452.7,670.2" fill="#007cfb"/>
<polygon points="878.6,782.3 890.9,785.1 897.5,780.2 885.2,777.4" fill="#8a07ff"/>
<polygon points="399.0,772.3 411.1,783.5 418.4,778.7 406.3,767.5" fill="#850eff"/>
<polygon points="699.3,747.7 711.4,750.5 718.3,745.7 706.2,742.9" fill="#5f3cff"/>
<polygon points="754.5,770.9 766.6,773.7 773.4,768.8 761.3,766.0" fill="#7d19ff"/>
<polygon points="504.3,794.2 516.2,797.0 523.4,792.2 511.4,789.3" fill="#9600ff"/>
<polygon points="797.6,782.9 809.7,785.7 816.5,780.8 804.3,778.0" fill="#8a07ff"/>
<polygon points="508.0,701.9 519.9,704.6 527.1,699.9 515.2,697.1" fill="#0079fb"/>
<polygon points="563.1,725.1 575.1,727.8 582.2,723.0 570.2,720.3" fill="#335cff"/>
<polygon points="618.3,748.2 630.3,751.0 637.3,746.2 625.3,743.4" fill="#5f3cff"/>
<polygon points="319.7,726.7 331.8,737.9 339.2,733.1 327.1,721.9" fill="#4352ff"/>
<polygon points="501.1,723.6 513.3,743.2 519.9,704.6 508.0,701.9" fill="#2362fe"/>
<polygon points="368.0,771.6 379.9,774.4 387.2,769.5 375.4,766.7" fill="#7d19ff"/>
<polygon points="354.2,445.8 367.9,509.2 375.2,504.7 361.6,441.4" fill="#34fda5"/>
<polygon points="440.8,667.5 452.7,670.2 459.9,665.5 448.1,662.8" fill="#00a1f4"/>
<polygon points="542.4,790.1 554.4,792.9 561.2,762.8 549.2,760.0" fill="#850eff"/>
<polygon points="723.5,761.7 735.5,772.9 742.4,768.1 730.3,756.9" fill="#7820ff"/>
<polygon points="535.3,795.0 547.3,797.8 554.4,792.9 542.4,790.1" fill="#9600ff"/>
<polygon points="458.3,720.1 470.3,731.3 476.7,684.1 464.8,681.4" fill="#0074fc"/>
<polygon points="358.4,370.7 371.0,399.6 378.4,395.2 365.8,366.4" fill="#edd06f"/>
<polygon points="355.7,751.9 368.0,771.6 375.4,766.7 363.1,747.1" fill="#6f2bff"/>
<polygon points="411.1,783.5 423.0,786.4 430.2,781.5 418.4,778.7" fill="#8a07ff"/>
<polygon points="828.7,783.6 840.9,786.4 847.5,781.5 835.4,778.7" fill="#8a07ff"/>
<polygon points="711.4,750.5 723.5,761.7 730.3,756.9 718.3,745.7" fill="#6932ff"/>
<polygon points="766.6,773.7 778.7,784.9 785.4,780.0 773.4,768.8" fill="#850eff"/>
<polygon points="649.3,749.0 661.4,751.8 668.3,747.0 656.3,744.2" fill="#5f3cff"/>
<polygon points="368.4,600.0 380.4,611.3 387.8,606.7 375.7,595.4" fill="#00d9e0"/>
<polygon points="470.3,731.3 482.3,742.5 488.8,695.4 476.7,684.1" fill="#006bfd"/>
<polygon points="454.2,795.5 466.1,798.3 473.3,793.5 461.4,790.6" fill="#9600ff"/>
<polygon points="307.6,715.5 319.7,726.7 327.1,721.9 314.8,702.2" fill="#1965fe"/>
<polygon points="331.8,737.9 343.6,740.7 351.0,735.9 339.2,733.1" fill="#4c4cff"/>
<polygon points="513.3,743.2 525.2,746.0 531.9,707.4 519.9,704.6" fill="#335cff"/>
<polygon points="859.7,784.4 872.0,787.2 878.6,782.3 866.4,779.5" fill="#8a07ff"/>
<polygon points="452.7,670.2 464.8,681.4 472.0,676.7 459.9,665.5" fill="#009af5"/>
<polygon points="680.4,749.7 692.5,752.5 699.3,747.7 687.3,744.9" fill="#5f3cff"/>
<polygon points="735.5,772.9 747.7,775.7 754.5,770.9 742.4,768.1" fill="#7d19ff"/>
<polygon points="525.2,746.0 537.3,757.2 544.1,727.1 531.9,707.4" fill="#484fff"/>
<polygon points="485.2,796.3 497.1,799.1 504.3,794.2 492.4,791.4" fill="#9600ff"/>
<polygon points="337.6,607.9 350.3,636.2 356.3,588.8 343.6,560.3" fill="#00dede"/>
<polygon points="423.0,786.4 435.0,797.6 442.3,792.7 430.2,781.5" fill="#9101ff"/>
<polygon points="329.6,595.3 342.3,623.8 350.3,636.2 337.6,607.9" fill="#00d0e4"/>
<polygon points="778.7,784.9 790.8,787.7 797.6,782.9 785.4,780.0" fill="#8a07ff"/>
<polygon points="323.7,642.8 336.4,671.1 342.3,623.8 329.6,595.3" fill="#00c3ea"/>
<polygon points="488.8,695.4 501.1,723.6 508.0,701.9 495.9,690.6" fill="#0079fb"/>
<polygon points="356.3,588.8 368.4,600.0 375.7,595.4 363.4,575.6" fill="#00e4da"/>
<polygon points="544.1,727.1 556.0,729.8 563.1,725.1 551.2,722.3" fill="#335cff"/>
<polygon points="890.9,785.1 903.1,787.9 909.7,783.1 897.5,780.2" fill="#8a07ff"/>
<polygon points="537.3,757.2 549.2,760.0 556.0,729.8 544.1,727.1" fill="#5842ff"/>
<polygon points="302.0,674.0 314.8,702.2 322.2,697.5 309.5,669.2" fill="#008df8"/>
<polygon points="531.9,707.4 544.1,727.1 551.2,722.3 539.0,702.6" fill="#006bfd"/>
<polygon points="516.2,797.0 528.2,799.9 535.3,795.0 523.4,792.2" fill="#9600ff"/>
<polygon points="343.6,740.7 355.7,751.9 363.1,747.1 351.0,735.9" fill="#5842ff"/>
<polygon points="809.7,785.7 821.9,788.5 828.7,783.6 816.5,780.8" fill="#8a07ff"/>
<polygon points="464.8,681.4 476.7,684.1 483.9,679.4 472.0,676.7" fill="#0095f6"/>
<polygon points="519.9,704.6 531.9,707.4 539.0,702.6 527.1,699.9" fill="#0079fb"/>
<polygon points="575.1,727.8 587.1,730.6 594.2,725.8 582.2,723.0" fill="#335cff"/>
<polygon points="630.3,751.0 642.3,753.8 649.3,749.0 637.3,746.2" fill="#5f3cff"/>
<polygon points="379.9,774.4 391.7,777.2 399.0,772.3 387.2,769.5" fill="#7d19ff"/>
<polygon points="435.0,797.6 446.9,800.4 454.2,795.5 442.3,792.7" fill="#9600ff"/>
<polygon points="350.7,547.1 363.4,575.6 370.7,571.0 358.1,542.6" fill="#00f3ce"/>
<polygon points="554.4,792.9 566.3,795.7 573.2,765.6 561.2,762.8" fill="#850eff"/>
<polygon points="547.3,797.8 559.2,800.6 566.3,795.7 554.4,792.9" fill="#9600ff"/>
<polygon points="345.7,522.7 358.1,542.6 365.5,538.0 353.1,518.2" fill="#00fcc0"/>
<polygon points="903.1,787.9 915.1,799.2 921.7,794.3 909.7,783.1" fill="#9101ff"/>
<polygon points="840.9,786.4 853.1,789.2 859.7,784.4 847.5,781.5" fill="#8a07ff"/>
<polygon points="356.3,408.2 368.9,437.0 376.3,432.6 363.7,403.9" fill="#b9e884"/>
<polygon points="661.4,751.8 673.4,754.6 680.4,749.7 668.3,747.0" fill="#5f3cff"/>
<polygon points="315.4,621.8 328.1,650.2 336.4,671.1 323.7,642.8" fill="#00b9ed"/>
<polygon points="599.2,741.8 611.3,753.1 618.3,748.2 606.2,737.0" fill="#5842ff"/>
<polygon points="466.1,798.3 478.0,801.2 485.2,796.3 473.3,793.5" fill="#9600ff"/>
<polygon points="359.5,297.8 373.1,362.2 380.5,357.9 366.9,293.7" fill="#ff9a4a"/>
<polygon points="368.7,247.3 381.6,285.3 388.9,281.2 376.1,243.2" fill="#ff4c1f"/>
<polygon points="476.7,684.1 488.8,695.4 495.9,690.6 483.9,679.4" fill="#008df8"/>
<polygon points="370.6,201.0 383.4,239.1 390.8,235.0 377.9,196.9" fill="#ff0701"/>
<polygon points="587.1,730.6 599.2,741.8 606.2,737.0 594.2,725.8" fill="#4352ff"/>
<polygon points="872.0,787.2 884.2,790.0 890.9,785.1 878.6,782.3" fill="#8a07ff"/>
<polygon points="391.7,777.2 403.8,788.4 411.1,783.5 399.0,772.3" fill="#850eff"/>
<polygon points="692.5,752.5 704.6,755.3 711.4,750.5 699.3,747.7" fill="#5f3cff"/>
<polygon points="747.7,775.7 759.8,778.5 766.6,773.7 754.5,770.9" fill="#7d19ff"/>
<polygon points="497.1,799.1 509.1,801.9 516.2,797.0 504.3,794.2" fill="#9600ff"/>
<polygon points="790.8,787.7 803.0,790.5 809.7,785.7 797.6,782.9" fill="#8a07ff"/>
<polygon points="556.0,729.8 568.0,732.6 575.1,727.8 563.1,725.1" fill="#335cff"/>
<polygon points="611.3,753.1 623.3,755.9 630.3,751.0 618.3,748.2" fill="#5f3cff"/>
<polygon points="312.3,731.5 324.4,742.7 331.8,737.9 319.7,726.7" fill="#4352ff"/>
<polygon points="549.2,760.0 561.2,762.8 568.0,732.6 556.0,729.8" fill="#5842ff"/>
<polygon points="360.7,776.4 372.5,779.2 379.9,774.4 368.0,771.6" fill="#7d19ff"/>
<polygon points="346.7,450.2 360.5,513.7 367.9,509.2 354.2,445.8" fill="#34fda5"/>
<polygon points="566.3,795.7 578.3,798.5 585.3,776.8 573.2,765.6" fill="#870bff"/>
<polygon points="716.6,766.6 728.7,777.8 735.5,772.9 723.5,761.7" fill="#7820ff"/>
<polygon points="300.2,720.2 312.3,731.5 319.7,726.7 307.6,715.5" fill="#2362fe"/>
<polygon points="528.2,799.9 540.1,802.7 547.3,797.8 535.3,795.0" fill="#9600ff"/>
<polygon points="309.5,669.2 322.2,697.5 328.1,650.2 315.4,621.8" fill="#00adf1"/>
<polygon points="351.0,375.0 363.7,403.9 371.0,399.6 358.4,370.7" fill="#edd06f"/>
<polygon points="348.3,756.8 360.7,776.4 368.0,771.6 355.7,751.9" fill="#6f2bff"/>
<polygon points="403.8,788.4 415.7,791.2 423.0,786.4 411.1,783.5" fill="#8a07ff"/>
<polygon points="821.9,788.5 834.2,791.3 840.9,786.4 828.7,783.6" fill="#8a07ff"/>
<polygon points="294.9,687.2 307.6,715.5 314.8,702.2 302.0,674.0" fill="#0087f9"/>
<polygon points="704.6,755.3 716.6,766.6 723.5,761.7 711.4,750.5" fill="#6932ff"/>
<polygon points="759.8,778.5 771.9,789.8 778.7,784.9 766.6,773.7" fill="#850eff"/>
<polygon points="642.3,753.8 654.4,756.6 661.4,751.8 649.3,749.0" fill="#5f3cff"/>
<polygon points="446.9,800.4 458.8,803.2 466.1,798.3 454.2,795.5" fill="#9600ff"/>
<polygon points="559.2,800.6 571.2,803.4 578.3,798.5 566.3,795.7" fill="#9600ff"/>
<polygon points="324.4,742.7 336.2,745.5 343.6,740.7 331.8,737.9" fill="#4c4cff"/>
<polygon points="853.1,789.2 865.3,792.1 872.0,787.2 859.7,784.4" fill="#8a07ff"/>
<polygon points="343.6,560.3 356.3,588.8 363.4,575.6 350.7,547.1" fill="#00f1d0"/>
<polygon points="673.4,754.6 685.5,757.4 692.5,752.5 680.4,749.7" fill="#5f3cff"/>
<polygon points="728.7,777.8 740.8,780.6 747.7,775.7 735.5,772.9" fill="#7d19ff"/>
<polygon points="478.0,801.2 489.9,804.0 497.1,799.1 485.2,796.3" fill="#9600ff"/>
<polygon points="415.7,791.2 427.8,802.5 435.0,797.6 423.0,786.4" fill="#9101ff"/>
<polygon points="771.9,789.8 784.0,792.6 790.8,787.7 778.7,784.9" fill="#8a07ff"/>
<polygon points="884.2,790.0 896.5,792.8 903.1,787.9 890.9,785.1" fill="#8a07ff"/>
<polygon points="578.3,798.5 590.3,801.4 597.3,779.6 585.3,776.8" fill="#8a07ff"/>
<polygon points="509.1,801.9 521.0,804.8 528.2,799.9 516.2,797.0" fill="#9600ff"/>
<polygon points="336.2,745.5 348.3,756.8 355.7,751.9 343.6,740.7" fill="#5842ff"/>
<polygon points="803.0,790.5 815.2,793.4 821.9,788.5 809.7,785.7" fill="#8a07ff"/>
<polygon points="568.0,732.6 580.0,735.4 587.1,730.6 575.1,727.8" fill="#335cff"/>
<polygon points="623.3,755.9 635.4,758.7 642.3,753.8 630.3,751.0" fill="#5f3cff"/>
<polygon points="561.2,762.8 573.2,765.6 580.0,735.4 568.0,732.6" fill="#5842ff"/>
<polygon points="372.5,779.2 384.4,782.1 391.7,777.2 379.9,774.4" fill="#7d19ff"/>
<polygon points="427.8,802.5 439.7,805.3 446.9,800.4 435.0,797.6" fill="#9600ff"/>
<polygon points="540.1,802.7 552.1,805.5 559.2,800.6 547.3,797.8" fill="#9600ff"/>
<polygon points="338.3,527.2 350.7,547.1 358.1,542.6 345.7,522.7" fill="#00fcc0"/>
<polygon points="896.5,792.8 908.5,804.1 915.1,799.2 903.1,787.9" fill="#9101ff"/>
<polygon points="834.2,791.3 846.4,794.1 853.1,789.2 840.9,786.4" fill="#8a07ff"/>
<polygon points="348.9,412.6 361.6,441.4 368.9,437.0 356.3,408.2" fill="#b9e884"/>
<polygon points="324.7,570.9 337.6,607.9 343.6,560.3 331.2,540.4" fill="#00f1d0"/>
<polygon points="654.4,756.6 666.5,759.4 673.4,754.6 661.4,751.8" fill="#5f3cff"/>
<polygon points="592.1,746.6 604.2,757.9 611.3,753.1 599.2,741.8" fill="#5842ff"/>
<polygon points="458.8,803.2 470.8,806.1 478.0,801.2 466.1,798.3" fill="#9600ff"/>
<polygon points="352.0,302.0 365.8,366.4 373.1,362.2 359.5,297.8" fill="#ff9a4a"/>
<polygon points="361.3,251.4 374.2,289.5 381.6,285.3 368.7,247.3" fill="#ff4c1f"/>
<polygon points="287.4,692.0 300.2,720.2 307.6,715.5 294.9,687.2" fill="#007ffa"/>
<polygon points="571.2,803.4 583.3,806.3 590.3,801.4 578.3,798.5" fill="#9600ff"/>
<polygon points="363.2,205.0 376.1,243.2 383.4,239.1 370.6,201.0" fill="#ff0701"/>
<polygon points="580.0,735.4 592.1,746.6 599.2,741.8 587.1,730.6" fill="#4352ff"/>
<polygon points="573.2,765.6 585.3,776.8 592.1,746.6 580.0,735.4" fill="#5f3cff"/>
<polygon points="865.3,792.1 877.6,794.9 884.2,790.0 872.0,787.2" fill="#8a07ff"/>
<polygon points="384.4,782.1 396.5,793.3 403.8,788.4 391.7,777.2" fill="#850eff"/>
<polygon points="685.5,757.4 697.6,760.2 704.6,755.3 692.5,752.5" fill="#5f3cff"/>
<polygon points="740.8,780.6 753.0,783.4 759.8,778.5 747.7,775.7" fill="#7d19ff"/>
<polygon points="489.9,804.0 501.9,806.8 509.1,801.9 497.1,799.1" fill="#9600ff"/>
<polygon points="585.3,776.8 597.3,779.6 604.2,757.9 592.1,746.6" fill="#6c2eff"/>
<polygon points="784.0,792.6 796.2,795.4 803.0,790.5 790.8,787.7" fill="#8a07ff"/>
<polygon points="604.2,757.9 616.3,760.7 623.3,755.9 611.3,753.1" fill="#5f3cff"/>
<polygon points="304.8,736.3 316.9,747.5 324.4,742.7 312.3,731.5" fill="#4352ff"/>
<polygon points="353.3,781.3 365.1,784.1 372.5,779.2 360.7,776.4" fill="#7d19ff"/>
<polygon points="590.3,801.4 602.4,804.2 609.3,782.5 597.3,779.6" fill="#8a07ff"/>
<polygon points="339.3,454.6 353.1,518.2 360.5,513.7 346.7,450.2" fill="#34fda5"/>
<polygon points="709.7,771.4 721.8,782.7 728.7,777.8 716.6,766.6" fill="#7820ff"/>
<polygon points="316.6,558.1 329.6,595.3 337.6,607.9 324.7,570.9" fill="#00ebd5"/>
<polygon points="292.7,725.0 304.8,736.3 312.3,731.5 300.2,720.2" fill="#2362fe"/>
<polygon points="521.0,804.8 533.0,807.6 540.1,802.7 528.2,799.9" fill="#9600ff"/>
<polygon points="343.6,379.3 356.3,408.2 363.7,403.9 351.0,375.0" fill="#edd06f"/>
<polygon points="340.9,761.6 353.3,781.3 360.7,776.4 348.3,756.8" fill="#6f2bff"/>
<polygon points="396.5,793.3 408.3,796.1 415.7,791.2 403.8,788.4" fill="#8a07ff"/>
<polygon points="815.2,793.4 827.4,796.2 834.2,791.3 821.9,788.5" fill="#8a07ff"/>
<polygon points="697.6,760.2 709.7,771.4 716.6,766.6 704.6,755.3" fill="#6932ff"/>
<polygon points="753.0,783.4 765.1,794.7 771.9,789.8 759.8,778.5" fill="#850eff"/>
<polygon points="635.4,758.7 647.4,761.5 654.4,756.6 642.3,753.8" fill="#5f3cff"/>
<polygon points="439.7,805.3 451.6,808.2 458.8,803.2 446.9,800.4" fill="#9600ff"/>
<polygon points="552.1,805.5 564.1,808.4 571.2,803.4 559.2,800.6" fill="#9600ff"/>
<polygon points="316.9,747.5 328.8,750.3 336.2,745.5 324.4,742.7" fill="#4c4cff"/>
<polygon points="310.4,597.3 323.7,642.8 329.6,595.3 316.6,558.1" fill="#00e4da"/>
<polygon points="846.4,794.1 858.6,796.9 865.3,792.1 853.1,789.2" fill="#8a07ff"/>
<polygon points="666.5,759.4 678.6,762.2 685.5,757.4 673.4,754.6" fill="#5f3cff"/>
<polygon points="721.8,782.7 734.0,785.5 740.8,780.6 728.7,777.8" fill="#7d19ff"/>
<polygon points="597.3,779.6 609.3,782.5 616.3,760.7 604.2,757.9" fill="#6f2bff"/>
<polygon points="470.8,806.1 482.7,808.9 489.9,804.0 478.0,801.2" fill="#9600ff"/>
<polygon points="331.2,540.4 343.6,560.3 350.7,547.1 338.3,527.2" fill="#00fbc3"/>
<polygon points="408.3,796.1 420.5,807.4 427.8,802.5 415.7,791.2" fill="#9101ff"/>
<polygon points="583.3,806.3 595.3,809.1 602.4,804.2 590.3,801.4" fill="#9600ff"/>
<polygon points="765.1,794.7 777.2,797.5 784.0,792.6 771.9,789.8" fill="#8a07ff"/>
<polygon points="877.6,794.9 889.9,797.7 896.5,792.8 884.2,790.0" fill="#8a07ff"/>
<polygon points="501.9,806.8 513.8,809.7 521.0,804.8 509.1,801.9" fill="#9600ff"/>
<polygon points="328.8,750.3 340.9,761.6 348.3,756.8 336.2,745.5" fill="#5842ff"/>
<polygon points="796.2,795.4 808.4,798.3 815.2,793.4 803.0,790.5" fill="#8a07ff"/>
<polygon points="616.3,760.7 628.3,763.5 635.4,758.7 623.3,755.9" fill="#5f3cff"/>
<polygon points="365.1,784.1 377.0,786.9 384.4,782.1 372.5,779.2" fill="#7d19ff"/>
<polygon points="302.2,584.6 315.4,621.8 323.7,642.8 310.4,597.3" fill="#00dcdf"/>
<polygon points="420.5,807.4 432.4,810.2 439.7,805.3 427.8,802.5" fill="#9600ff"/>
<polygon points="602.4,804.2 614.4,807.0 621.4,785.3 609.3,782.5" fill="#8a07ff"/>
<polygon points="288.6,628.4 302.0,674.0 309.5,669.2 295.7,615.2" fill="#00c1eb"/>
<polygon points="533.0,807.6 545.0,810.4 552.1,805.5 540.1,802.7" fill="#9600ff"/>
<polygon points="889.9,797.7 901.9,809.0 908.5,804.1 896.5,792.8" fill="#9101ff"/>
<polygon points="827.4,796.2 839.7,799.0 846.4,794.1 834.2,791.3" fill="#8a07ff"/>
<polygon points="341.5,416.9 354.2,445.8 361.6,441.4 348.9,412.6" fill="#b9e884"/>
<polygon points="647.4,761.5 659.5,764.3 666.5,759.4 654.4,756.6" fill="#5f3cff"/>
<polygon points="451.6,808.2 463.5,811.0 470.8,806.1 458.8,803.2" fill="#9600ff"/>
<polygon points="344.6,306.3 358.4,370.7 365.8,366.4 352.0,302.0" fill="#ff9a4a"/>
<polygon points="353.9,255.6 366.9,293.7 374.2,289.5 361.3,251.4" fill="#ff4c1f"/>
<polygon points="279.9,696.7 292.7,725.0 300.2,720.2 287.4,692.0" fill="#007ffa"/>
<polygon points="564.1,808.4 576.2,811.2 583.3,806.3 571.2,803.4" fill="#9600ff"/>
<polygon points="355.8,209.1 368.7,247.3 376.1,243.2 363.2,205.0" fill="#ff0701"/>
<polygon points="858.6,796.9 870.9,799.8 877.6,794.9 865.3,792.1" fill="#8a07ff"/>
<polygon points="377.0,786.9 389.1,798.2 396.5,793.3 384.4,782.1" fill="#850eff"/>
<polygon points="678.6,762.2 690.7,765.0 697.6,760.2 685.5,757.4" fill="#5f3cff"/>
<polygon points="734.0,785.5 746.1,788.3 753.0,783.4 740.8,780.6" fill="#7d19ff"/>
<polygon points="609.3,782.5 621.4,785.3 628.3,763.5 616.3,760.7" fill="#6f2bff"/>
<polygon points="482.7,808.9 494.7,811.8 501.9,806.8 489.9,804.0" fill="#9600ff"/>
<polygon points="595.3,809.1 607.4,812.0 614.4,807.0 602.4,804.2" fill="#9600ff"/>
<polygon points="777.2,797.5 789.4,800.3 796.2,795.4 784.0,792.6" fill="#8a07ff"/>
<polygon points="331.9,459.0 345.7,522.7 353.1,518.2 339.3,454.6" fill="#34fda5"/>
<polygon points="702.8,776.3 714.9,787.6 721.8,782.7 709.7,771.4" fill="#7820ff"/>
<polygon points="513.8,809.7 525.8,812.5 533.0,807.6 521.0,804.8" fill="#9600ff"/>
<polygon points="336.2,383.6 348.9,412.6 356.3,408.2 343.6,379.3" fill="#edd06f"/>
<polygon points="389.1,798.2 401.0,801.0 408.3,796.1 396.5,793.3" fill="#8a07ff"/>
<polygon points="295.7,615.2 309.5,669.2 315.4,621.8 302.2,584.6" fill="#00d6e2"/>
<polygon points="808.4,798.3 820.7,801.1 827.4,796.2 815.2,793.4" fill="#8a07ff"/>
<polygon points="690.7,765.0 702.8,776.3 709.7,771.4 697.6,760.2" fill="#6932ff"/>
<polygon points="746.1,788.3 758.2,799.6 765.1,794.7 753.0,783.4" fill="#850eff"/>
<polygon points="628.3,763.5 640.4,766.3 647.4,761.5 635.4,758.7" fill="#5f3cff"/>
<polygon points="432.4,810.2 444.3,813.1 451.6,808.2 439.7,805.3" fill="#9600ff"/>
<polygon points="614.4,807.0 626.5,809.9 633.4,788.1 621.4,785.3" fill="#8a07ff"/>
<polygon points="545.0,810.4 557.0,813.3 564.1,808.4 552.1,805.5" fill="#9600ff"/>
<polygon points="839.7,799.0 851.9,801.9 858.6,796.9 846.4,794.1" fill="#8a07ff"/>
<polygon points="659.5,764.3 671.6,767.1 678.6,762.2 666.5,759.4" fill="#5f3cff"/>
<polygon points="714.9,787.6 727.1,790.4 734.0,785.5 721.8,782.7" fill="#7d19ff"/>
<polygon points="281.0,633.1 294.9,687.2 302.0,674.0 288.6,628.4" fill="#00bbed"/>
<polygon points="463.5,811.0 475.5,813.8 482.7,808.9 470.8,806.1" fill="#9600ff"/>
<polygon points="401.0,801.0 413.1,812.3 420.5,807.4 408.3,796.1" fill="#9101ff"/>
<polygon points="576.2,811.2 588.2,814.0 595.3,809.1 583.3,806.3" fill="#9600ff"/>
<polygon points="758.2,799.6 770.4,802.4 777.2,797.5 765.1,794.7" fill="#8a07ff"/>
<polygon points="870.9,799.8 883.2,802.6 889.9,797.7 877.6,794.9" fill="#8a07ff"/>
<polygon points="621.4,785.3 633.4,788.1 640.4,766.3 628.3,763.5" fill="#6f2bff"/>
<polygon points="494.7,811.8 506.7,814.6 513.8,809.7 501.9,806.8" fill="#9600ff"/>
<polygon points="607.4,812.0 619.4,814.8 626.5,809.9 614.4,807.0" fill="#9600ff"/>
<polygon points="789.4,800.3 801.7,803.2 808.4,798.3 796.2,795.4" fill="#8a07ff"/>
<polygon points="413.1,812.3 425.1,815.2 432.4,810.2 420.5,807.4" fill="#9600ff"/>
<polygon points="525.8,812.5 537.9,815.4 545.0,810.4 533.0,807.6" fill="#9600ff"/>
<polygon points="883.2,802.6 895.3,813.9 901.9,809.0 889.9,797.7" fill="#9101ff"/>
<polygon points="820.7,801.1 832.9,803.9 839.7,799.0 827.4,796.2" fill="#8a07ff"/>
<polygon points="334.0,421.3 346.7,450.2 354.2,445.8 341.5,416.9" fill="#b9e884"/>
<polygon points="640.4,766.3 652.5,769.1 659.5,764.3 647.4,761.5" fill="#5f3cff"/>
<polygon points="444.3,813.1 456.2,815.9 463.5,811.0 451.6,808.2" fill="#9600ff"/>
<polygon points="626.5,809.9 638.6,812.7 645.5,790.9 633.4,788.1" fill="#8a07ff"/>
<polygon points="337.2,310.5 351.0,375.0 358.4,370.7 344.6,306.3" fill="#ff9a4a"/>
<polygon points="346.5,259.7 359.5,297.8 366.9,293.7 353.9,255.6" fill="#ff4c1f"/>
<polygon points="557.0,813.3 569.1,816.1 576.2,811.2 564.1,808.4" fill="#9600ff"/>
<polygon points="348.3,213.2 361.3,251.4 368.7,247.3 355.8,209.1" fill="#ff0701"/>
<polygon points="851.9,801.9 864.2,804.7 870.9,799.8 858.6,796.9" fill="#8a07ff"/>
<polygon points="671.6,767.1 683.8,769.9 690.7,765.0 678.6,762.2" fill="#5f3cff"/>
<polygon points="727.1,790.4 739.3,793.2 746.1,788.3 734.0,785.5" fill="#7d19ff"/>
<polygon points="475.5,813.8 487.4,816.7 494.7,811.8 482.7,808.9" fill="#9600ff"/>
<polygon points="588.2,814.0 600.3,816.9 607.4,812.0 595.3,809.1" fill="#9600ff"/>
<polygon points="770.4,802.4 782.6,805.3 789.4,800.3 777.2,797.5" fill="#8a07ff"/>
<polygon points="324.4,463.5 338.3,527.2 345.7,522.7 331.9,459.0" fill="#34fda5"/>
<polygon points="695.9,781.2 708.0,792.5 714.9,787.6 702.8,776.3" fill="#7820ff"/>
<polygon points="633.4,788.1 645.5,790.9 652.5,769.1 640.4,766.3" fill="#6f2bff"/>
<polygon points="506.7,814.6 518.7,817.5 525.8,812.5 513.8,809.7" fill="#9600ff"/>
<polygon points="328.7,388.0 341.5,416.9 348.9,412.6 336.2,383.6" fill="#edd06f"/>
<polygon points="619.4,814.8 631.5,817.7 638.6,812.7 626.5,809.9" fill="#9600ff"/>
<polygon points="801.7,803.2 813.9,806.0 820.7,801.1 808.4,798.3" fill="#8a07ff"/>
<polygon points="683.8,769.9 695.9,781.2 702.8,776.3 690.7,765.0" fill="#6932ff"/>
<polygon points="739.3,793.2 751.4,804.5 758.2,799.6 746.1,788.3" fill="#850eff"/>
<polygon points="273.5,637.8 287.4,692.0 294.9,687.2 281.0,633.1" fill="#00b9ed"/>
<polygon points="425.1,815.2 437.0,818.0 444.3,813.1 432.4,810.2" fill="#9600ff"/>
<polygon points="537.9,815.4 549.9,818.2 557.0,813.3 545.0,810.4" fill="#9600ff"/>
<polygon points="311.0,516.2 324.7,570.9 331.2,540.4 317.2,476.7" fill="#00ffb6"/>
<polygon points="832.9,803.9 845.2,806.8 851.9,801.9 839.7,799.0" fill="#8a07ff"/>
<polygon points="652.5,769.1 664.7,771.9 671.6,767.1 659.5,764.3" fill="#5f3cff"/>
<polygon points="708.0,792.5 720.2,795.3 727.1,790.4 714.9,787.6" fill="#7d19ff"/>
<polygon points="456.2,815.9 468.2,818.8 475.5,813.8 463.5,811.0" fill="#9600ff"/>
<polygon points="638.6,812.7 650.7,815.6 657.7,793.8 645.5,790.9" fill="#8a07ff"/>
<polygon points="569.1,816.1 581.1,819.0 588.2,814.0 576.2,811.2" fill="#9600ff"/>
<polygon points="751.4,804.5 763.6,807.3 770.4,802.4 758.2,799.6" fill="#8a07ff"/>
<polygon points="864.2,804.7 876.5,807.5 883.2,802.6 870.9,799.8" fill="#8a07ff"/>
<polygon points="487.4,816.7 499.4,819.6 506.7,814.6 494.7,811.8" fill="#9600ff"/>
<polygon points="600.3,816.9 612.4,819.8 619.4,814.8 607.4,812.0" fill="#9600ff"/>
<polygon points="782.6,805.3 794.9,808.1 801.7,803.2 789.4,800.3" fill="#8a07ff"/>
<polygon points="645.5,790.9 657.7,793.8 664.7,771.9 652.5,769.1" fill="#6f2bff"/>
<polygon points="518.7,817.5 530.7,820.3 537.9,815.4 525.8,812.5" fill="#9600ff"/>
<polygon points="876.5,807.5 888.6,818.8 895.3,813.9 883.2,802.6" fill="#9101ff"/>
<polygon points="631.5,817.7 643.6,820.5 650.7,815.6 638.6,812.7" fill="#9600ff"/>
<polygon points="813.9,806.0 826.2,808.9 832.9,803.9 820.7,801.1" fill="#8a07ff"/>
<polygon points="317.2,476.7 331.2,540.4 338.3,527.2 324.4,463.5" fill="#00fea9"/>
<polygon points="326.5,425.7 339.3,454.6 346.7,450.2 334.0,421.3" fill="#b9e884"/>
<polygon points="688.9,794.5 701.0,805.8 708.0,792.5 695.9,781.2" fill="#7d19ff"/>
<polygon points="302.8,503.2 316.6,558.1 324.7,570.9 311.0,516.2" fill="#00feba"/>
<polygon points="437.0,818.0 449.0,820.9 456.2,815.9 444.3,813.1" fill="#9600ff"/>
<polygon points="329.7,314.7 343.6,379.3 351.0,375.0 337.2,310.5" fill="#ff9a4a"/>
<polygon points="339.0,263.9 352.0,302.0 359.5,297.8 346.5,259.7" fill="#ff4c1f"/>
<polygon points="549.9,818.2 561.9,821.1 569.1,816.1 557.0,813.3" fill="#9600ff"/>
<polygon points="340.9,217.3 353.9,255.6 361.3,251.4 348.3,213.2" fill="#ff0701"/>
<polygon points="845.2,806.8 857.5,809.6 864.2,804.7 851.9,801.9" fill="#8a07ff"/>
<polygon points="664.7,771.9 676.8,774.8 683.8,769.9 671.6,767.1" fill="#5f3cff"/>
<polygon points="720.2,795.3 732.4,798.1 739.3,793.2 727.1,790.4" fill="#7d19ff"/>
<polygon points="468.2,818.8 480.2,821.6 487.4,816.7 475.5,813.8" fill="#9600ff"/>
<polygon points="650.7,815.6 662.8,818.4 669.8,796.6 657.7,793.8" fill="#8a07ff"/>
<polygon points="581.1,819.0 593.2,821.9 600.3,816.9 588.2,814.0" fill="#9600ff"/>
<polygon points="763.6,807.3 775.8,810.2 782.6,805.3 770.4,802.4" fill="#8a07ff"/>
<polygon points="676.8,774.8 688.9,794.5 695.9,781.2 683.8,769.9" fill="#6c2eff"/>
<polygon points="701.0,805.8 713.2,808.7 720.2,795.3 708.0,792.5" fill="#850eff"/>
<polygon points="499.4,819.6 511.5,822.4 518.7,817.5 506.7,814.6" fill="#9600ff"/>
<polygon points="681.9,807.9 694.1,819.2 701.0,805.8 688.9,794.5" fill="#8a07ff"/>
<polygon points="321.2,392.3 334.0,421.3 341.5,416.9 328.7,388.0" fill="#edd06f"/>
<polygon points="296.6,542.7 310.4,597.3 316.6,558.1 302.8,503.2" fill="#00fcc0"/>
<polygon points="612.4,819.8 624.5,822.6 631.5,817.7 619.4,814.8" fill="#9600ff"/>
<polygon points="794.9,808.1 807.1,811.0 813.9,806.0 801.7,803.2" fill="#8a07ff"/>
<polygon points="732.4,798.1 744.5,809.4 751.4,804.5 739.3,793.2" fill="#850eff"/>
<polygon points="265.9,642.5 279.9,696.7 287.4,692.0 273.5,637.8" fill="#00b9ed"/>
<polygon points="657.7,793.8 669.8,796.6 676.8,774.8 664.7,771.9" fill="#6f2bff"/>
<polygon points="530.7,820.3 542.7,823.2 549.9,818.2 537.9,815.4" fill="#9600ff"/>
<polygon points="643.6,820.5 655.8,823.4 662.8,818.4 650.7,815.6" fill="#9600ff"/>
<polygon points="826.2,808.9 838.5,811.7 845.2,806.8 832.9,803.9" fill="#8a07ff"/>
<polygon points="669.8,796.6 681.9,807.9 688.9,794.5 676.8,774.8" fill="#7a1dff"/>
<polygon points="694.1,819.2 706.2,822.1 713.2,808.7 701.0,805.8" fill="#9101ff"/>
<polygon points="662.8,818.4 674.9,821.3 681.9,807.9 669.8,796.6" fill="#8f02ff"/>
<polygon points="449.0,820.9 460.9,823.7 468.2,818.8 456.2,815.9" fill="#9600ff"/>
<polygon points="561.9,821.1 574.0,823.9 581.1,819.0 569.1,816.1" fill="#9600ff"/>
<polygon points="744.5,809.4 756.7,812.3 763.6,807.3 751.4,804.5" fill="#8a07ff"/>
<polygon points="857.5,809.6 869.8,812.5 876.5,807.5 864.2,804.7" fill="#8a07ff"/>
<polygon points="288.4,529.8 302.2,584.6 310.4,597.3 296.6,542.7" fill="#00f9c6"/>
<polygon points="480.2,821.6 492.2,824.5 499.4,819.6 487.4,816.7" fill="#9600ff"/>
<polygon points="593.2,821.9 605.3,824.7 612.4,819.8 600.3,816.9" fill="#9600ff"/>
<polygon points="775.8,810.2 788.1,813.0 794.9,808.1 782.6,805.3" fill="#8a07ff"/>
<polygon points="713.2,808.7 725.4,811.5 732.4,798.1 720.2,795.3" fill="#850eff"/>
<polygon points="674.9,821.3 687.1,824.2 694.1,819.2 681.9,807.9" fill="#9400ff"/>
<polygon points="511.5,822.4 523.5,825.3 530.7,820.3 518.7,817.5" fill="#9600ff"/>
<polygon points="274.6,573.9 288.6,628.4 295.7,615.2 282.2,569.2" fill="#00edd4"/>
<polygon points="869.8,812.5 882.0,823.8 888.6,818.8 876.5,807.5" fill="#9101ff"/>
<polygon points="624.5,822.6 636.6,825.5 643.6,820.5 631.5,817.7" fill="#9600ff"/>
<polygon points="807.1,811.0 819.4,813.8 826.2,808.9 813.9,806.0" fill="#8a07ff"/>
<polygon points="319.1,430.1 331.9,459.0 339.3,454.6 326.5,425.7" fill="#b9e884"/>
<polygon points="322.2,319.0 336.2,383.6 343.6,379.3 329.7,314.7" fill="#ff9a4a"/>
<polygon points="331.5,268.1 344.6,306.3 352.0,302.0 339.0,263.9" fill="#ff4c1f"/>
<polygon points="542.7,823.2 554.8,826.0 561.9,821.1 549.9,818.2" fill="#9600ff"/>
<polygon points="725.4,811.5 737.5,822.8 744.5,809.4 732.4,798.1" fill="#8a07ff"/>
<polygon points="333.4,221.4 346.5,259.7 353.9,255.6 340.9,217.3" fill="#ff0701"/>
<polygon points="655.8,823.4 667.9,826.3 674.9,821.3 662.8,818.4" fill="#9600ff"/>
<polygon points="838.5,811.7 850.8,814.6 857.5,809.6 845.2,806.8" fill="#8a07ff"/>
<polygon points="706.2,822.1 718.4,824.9 725.4,811.5 713.2,808.7" fill="#9101ff"/>
<polygon points="460.9,823.7 472.9,826.6 480.2,821.6 468.2,818.8" fill="#9600ff"/>
<polygon points="282.2,569.2 295.7,615.2 302.2,584.6 288.4,529.8" fill="#00f6ca"/>
<polygon points="574.0,823.9 586.1,826.8 593.2,821.9 581.1,819.0" fill="#9600ff"/>
<polygon points="756.7,812.3 769.0,815.1 775.8,810.2 763.6,807.3" fill="#8a07ff"/>
<polygon points="687.1,824.2 699.3,827.0 706.2,822.1 694.1,819.2" fill="#9600ff"/>
<polygon points="737.5,822.8 749.8,825.7 756.7,812.3 744.5,809.4" fill="#9101ff"/>
<polygon points="492.2,824.5 504.2,827.4 511.5,822.4 499.4,819.6" fill="#9600ff"/>
<polygon points="313.7,396.7 326.5,425.7 334.0,421.3 321.2,392.3" fill="#edd06f"/>
<polygon points="605.3,824.7 617.4,827.6 624.5,822.6 612.4,819.8" fill="#9600ff"/>
<polygon points="788.1,813.0 800.3,815.9 807.1,811.0 794.9,808.1" fill="#8a07ff"/>
<polygon points="523.5,825.3 535.5,828.2 542.7,823.2 530.7,820.3" fill="#9600ff"/>
<polygon points="636.6,825.5 648.8,828.4 655.8,823.4 643.6,820.5" fill="#9600ff"/>
<polygon points="819.4,813.8 831.7,816.7 838.5,811.7 826.2,808.9" fill="#8a07ff"/>
<polygon points="718.4,824.9 730.6,827.8 737.5,822.8 725.4,811.5" fill="#9400ff"/>
<polygon points="267.4,587.2 281.0,633.1 288.6,628.4 274.6,573.9" fill="#00ead6"/>
<polygon points="554.8,826.0 566.9,828.9 574.0,823.9 561.9,821.1" fill="#9600ff"/>
<polygon points="667.9,826.3 680.1,829.1 687.1,824.2 674.9,821.3" fill="#9600ff"/>
<polygon points="850.8,814.6 863.1,817.4 869.8,812.5 857.5,809.6" fill="#8a07ff"/>
<polygon points="298.8,504.9 311.0,516.2 317.2,476.7 304.3,447.7" fill="#69f99c"/>
<polygon points="472.9,826.6 484.9,829.5 492.2,824.5 480.2,821.6" fill="#9600ff"/>
<polygon points="586.1,826.8 598.2,829.7 605.3,824.7 593.2,821.9" fill="#9600ff"/>
<polygon points="769.0,815.1 781.2,818.0 788.1,813.0 775.8,810.2" fill="#8a07ff"/>
<polygon points="263.2,579.9 274.6,573.9 282.2,569.2 270.7,575.3" fill="#00f7c9"/>
<polygon points="699.3,827.0 711.5,829.9 718.4,824.9 706.2,822.1" fill="#9600ff"/>
<polygon points="290.3,483.1 302.8,503.2 311.0,516.2 298.8,504.9" fill="#3ffda4"/>
<polygon points="749.8,825.7 762.0,828.6 769.0,815.1 756.7,812.3" fill="#9101ff"/>
<polygon points="504.2,827.4 516.3,830.3 523.5,825.3 511.5,822.4" fill="#9600ff"/>
<polygon points="863.1,817.4 875.3,828.8 882.0,823.8 869.8,812.5" fill="#9101ff"/>
<polygon points="617.4,827.6 629.6,830.5 636.6,825.5 624.5,822.6" fill="#9600ff"/>
<polygon points="800.3,815.9 812.6,818.8 819.4,813.8 807.1,811.0" fill="#8a07ff"/>
<polygon points="311.5,434.5 324.4,463.5 331.9,459.0 319.1,430.1" fill="#b9e884"/>
<polygon points="730.6,827.8 742.9,830.7 749.8,825.7 737.5,822.8" fill="#9600ff"/>
<polygon points="314.7,323.2 328.7,388.0 336.2,383.6 322.2,319.0" fill="#ff9a4a"/>
<polygon points="324.0,272.2 337.2,310.5 344.6,306.3 331.5,268.1" fill="#ff4c1f"/>
<polygon points="284.8,540.1 296.6,542.7 302.8,503.2 290.3,483.1" fill="#00feab"/>
<polygon points="535.5,828.2 547.6,831.0 554.8,826.0 542.7,823.2" fill="#9600ff"/>
<polygon points="325.9,225.5 339.0,263.9 346.5,259.7 333.4,221.4" fill="#ff0701"/>
<polygon points="648.8,828.4 660.9,831.2 667.9,826.3 655.8,823.4" fill="#9600ff"/>
<polygon points="831.7,816.7 844.0,819.5 850.8,814.6 838.5,811.7" fill="#8a07ff"/>
<polygon points="249.8,542.4 263.2,579.9 270.7,575.3 257.4,537.8" fill="#00fcc0"/>
<polygon points="566.9,828.9 579.0,831.8 586.1,826.8 574.0,823.9" fill="#9600ff"/>
<polygon points="276.2,518.4 288.4,529.8 296.6,542.7 284.8,540.1" fill="#00ffb4"/>
<polygon points="680.1,829.1 692.3,832.0 699.3,827.0 687.1,824.2" fill="#9600ff"/>
<polygon points="484.9,829.5 497.0,832.4 504.2,827.4 492.2,824.5" fill="#9600ff"/>
<polygon points="306.2,401.0 319.1,430.1 326.5,425.7 313.7,396.7" fill="#edd06f"/>
<polygon points="598.2,829.7 610.3,832.6 617.4,827.6 605.3,824.7" fill="#9600ff"/>
<polygon points="781.2,818.0 793.5,820.9 800.3,815.9 788.1,813.0" fill="#8a07ff"/>
<polygon points="711.5,829.9 723.7,832.8 730.6,827.8 718.4,824.9" fill="#9600ff"/>
<polygon points="259.8,591.8 273.5,637.8 281.0,633.1 267.4,587.2" fill="#00e8d7"/>
<polygon points="270.7,575.3 282.2,569.2 288.4,529.8 276.2,518.4" fill="#00feba"/>
<polygon points="762.0,828.6 774.3,831.4 781.2,818.0 769.0,815.1" fill="#9101ff"/>
<polygon points="516.3,830.3 528.3,833.1 535.5,828.2 523.5,825.3" fill="#9600ff"/>
<polygon points="629.6,830.5 641.7,833.3 648.8,828.4 636.6,825.5" fill="#9600ff"/>
<polygon points="812.6,818.8 824.9,821.6 831.7,816.7 819.4,813.8" fill="#8a07ff"/>
<polygon points="742.9,830.7 755.1,833.5 762.0,828.6 749.8,825.7" fill="#9600ff"/>
<polygon points="255.6,584.5 267.4,587.2 274.6,573.9 263.2,579.9" fill="#00f6ca"/>
<polygon points="547.6,831.0 559.7,833.9 566.9,828.9 554.8,826.0" fill="#9600ff"/>
<polygon points="304.3,447.7 317.2,476.7 324.4,463.5 311.5,434.5" fill="#aeeb88"/>
<polygon points="660.9,831.2 673.1,834.1 680.1,829.1 667.9,826.3" fill="#9600ff"/>
<polygon points="844.0,819.5 856.4,822.4 863.1,817.4 850.8,814.6" fill="#8a07ff"/>
<polygon points="285.9,476.0 298.8,504.9 304.3,447.7 291.4,418.7" fill="#a6ee8b"/>
<polygon points="277.3,454.1 290.3,483.1 298.8,504.9 285.9,476.0" fill="#83f696"/>
<polygon points="579.0,831.8 591.1,834.7 598.2,829.7 586.1,826.8" fill="#9600ff"/>
<polygon points="692.3,832.0 704.5,834.9 711.5,829.9 699.3,827.0" fill="#9600ff"/>
<polygon points="497.0,832.4 509.0,835.2 516.3,830.3 504.2,827.4" fill="#9600ff"/>
<polygon points="856.4,822.4 868.5,833.8 875.3,828.8 863.1,817.4" fill="#9101ff"/>
<polygon points="610.3,832.6 622.5,835.5 629.6,830.5 617.4,827.6" fill="#9600ff"/>
<polygon points="271.5,502.5 284.8,540.1 290.3,483.1 277.3,454.1" fill="#63fa9d"/>
<polygon points="793.5,820.9 805.8,823.7 812.6,818.8 800.3,815.9" fill="#8a07ff"/>
<polygon points="723.7,832.8 736.0,835.7 742.9,830.7 730.6,827.8" fill="#9600ff"/>
<polygon points="307.1,327.5 321.2,392.3 328.7,388.0 314.7,323.2" fill="#ff9a4a"/>
<polygon points="316.5,276.4 329.7,314.7 337.2,310.5 324.0,272.2" fill="#ff4c1f"/>
<polygon points="774.3,831.4 786.6,834.3 793.5,820.9 781.2,818.0" fill="#9101ff"/>
<polygon points="528.3,833.1 540.4,836.0 547.6,831.0 535.5,828.2" fill="#9600ff"/>
<polygon points="318.4,229.6 331.5,268.1 339.0,263.9 325.9,225.5" fill="#ff0701"/>
<polygon points="641.7,833.3 653.9,836.2 660.9,831.2 648.8,828.4" fill="#9600ff"/>
<polygon points="824.9,821.6 837.3,824.5 844.0,819.5 831.7,816.7" fill="#8a07ff"/>
<polygon points="262.8,480.7 276.2,518.4 284.8,540.1 271.5,502.5" fill="#34fda5"/>
<polygon points="755.1,833.5 767.4,836.4 774.3,831.4 762.0,828.6" fill="#9600ff"/>
<polygon points="257.4,537.8 270.7,575.3 276.2,518.4 262.8,480.7" fill="#00ffaf"/>
<polygon points="242.2,547.0 255.6,584.5 263.2,579.9 249.8,542.4" fill="#00fcc0"/>
<polygon points="559.7,833.9 571.8,836.8 579.0,831.8 566.9,828.9" fill="#9600ff"/>
<polygon points="673.1,834.1 685.3,837.0 692.3,832.0 680.1,829.1" fill="#9600ff"/>
<polygon points="248.3,597.8 259.8,591.8 267.4,587.2 255.6,584.5" fill="#00f5cc"/>
<polygon points="298.7,405.4 311.5,434.5 319.1,430.1 306.2,401.0" fill="#edd06f"/>
<polygon points="591.1,834.7 603.2,837.6 610.3,832.6 598.2,829.7" fill="#9600ff"/>
<polygon points="704.5,834.9 716.8,837.8 723.7,832.8 711.5,829.9" fill="#9600ff"/>
<polygon points="252.2,596.5 265.9,642.5 273.5,637.8 259.8,591.8" fill="#00e8d7"/>
<polygon points="509.0,835.2 521.1,838.1 528.3,833.1 516.3,830.3" fill="#9600ff"/>
<polygon points="622.5,835.5 634.7,838.3 641.7,833.3 629.6,830.5" fill="#9600ff"/>
<polygon points="805.8,823.7 818.1,826.6 824.9,821.6 812.6,818.8" fill="#8a07ff"/>
<polygon points="736.0,835.7 748.2,838.5 755.1,833.5 742.9,830.7" fill="#9600ff"/>
<polygon points="786.6,834.3 798.9,837.2 805.8,823.7 793.5,820.9" fill="#9101ff"/>
<polygon points="540.4,836.0 552.5,838.9 559.7,833.9 547.6,831.0" fill="#9600ff"/>
<polygon points="653.9,836.2 666.1,839.1 673.1,834.1 660.9,831.2" fill="#9600ff"/>
<polygon points="837.3,824.5 849.6,827.4 856.4,822.4 844.0,819.5" fill="#8a07ff"/>
<polygon points="767.4,836.4 779.7,839.3 786.6,834.3 774.3,831.4" fill="#9600ff"/>
<polygon points="571.8,836.8 584.0,839.7 591.1,834.7 579.0,831.8" fill="#9600ff"/>
<polygon points="685.3,837.0 697.6,839.9 704.5,834.9 692.3,832.0" fill="#9600ff"/>
<polygon points="234.9,560.3 248.3,597.8 255.6,584.5 242.2,547.0" fill="#00fbc3"/>
<polygon points="849.6,827.4 861.8,838.8 868.5,833.8 856.4,822.4" fill="#9101ff"/>
<polygon points="603.2,837.6 615.4,840.5 622.5,835.5 610.3,832.6" fill="#9600ff"/>
<polygon points="716.8,837.8 729.0,840.7 736.0,835.7 723.7,832.8" fill="#9600ff"/>
<polygon points="291.4,418.7 304.3,447.7 311.5,434.5 298.7,405.4" fill="#e3d673"/>
<polygon points="299.5,331.8 313.7,396.7 321.2,392.3 307.1,327.5" fill="#ff9a4a"/>
<polygon points="309.0,280.6 322.2,319.0 329.7,314.7 316.5,276.4" fill="#ff4c1f"/>
<polygon points="521.1,838.1 533.2,841.0 540.4,836.0 528.3,833.1" fill="#9600ff"/>
<polygon points="634.7,838.3 646.9,841.2 653.9,836.2 641.7,833.3" fill="#9600ff"/>
<polygon points="818.1,826.6 830.5,829.5 837.3,824.5 824.9,821.6" fill="#8a07ff"/>
<polygon points="748.2,838.5 760.5,841.4 767.4,836.4 755.1,833.5" fill="#9600ff"/>
<polygon points="240.7,602.5 252.2,596.5 259.8,591.8 248.3,597.8" fill="#00f3ce"/>
<polygon points="798.9,837.2 811.2,840.1 818.1,826.6 805.8,823.7" fill="#9101ff"/>
<polygon points="552.5,838.9 564.7,841.8 571.8,836.8 559.7,833.9" fill="#9600ff"/>
<polygon points="310.5,224.7 324.0,272.2 331.5,268.1 318.4,229.6" fill="#ff0200"/>
<polygon points="666.1,839.1 678.3,842.0 685.3,837.0 673.1,834.1" fill="#9600ff"/>
<polygon points="779.7,839.3 792.0,842.2 798.9,837.2 786.6,834.3" fill="#9600ff"/>
<polygon points="584.0,839.7 596.1,842.6 603.2,837.6 591.1,834.7" fill="#9600ff"/>
<polygon points="697.6,839.9 709.8,842.8 716.8,837.8 704.5,834.9" fill="#9600ff"/>
<polygon points="615.4,840.5 627.6,843.4 634.7,838.3 622.5,835.5" fill="#9600ff"/>
<polygon points="227.3,564.9 240.7,602.5 248.3,597.8 234.9,560.3" fill="#00f9c6"/>
<polygon points="729.0,840.7 741.3,843.6 748.2,838.5 736.0,835.7" fill="#9600ff"/>
<polygon points="533.2,841.0 545.3,843.9 552.5,838.9 540.4,836.0" fill="#9600ff"/>
<polygon points="646.9,841.2 659.1,844.1 666.1,839.1 653.9,836.2" fill="#9600ff"/>
<polygon points="830.5,829.5 842.9,832.4 849.6,827.4 837.3,824.5" fill="#8a07ff"/>
<polygon points="760.5,841.4 772.8,844.3 779.7,839.3 767.4,836.4" fill="#9600ff"/>
<polygon points="811.2,840.1 823.5,843.0 830.5,829.5 818.1,826.6" fill="#9101ff"/>
<polygon points="564.7,841.8 576.8,844.7 584.0,839.7 571.8,836.8" fill="#9600ff"/>
<polygon points="678.3,842.0 690.6,844.9 697.6,839.9 685.3,837.0" fill="#9600ff"/>
<polygon points="792.0,842.2 804.4,845.1 811.2,840.1 798.9,837.2" fill="#9600ff"/>
<polygon points="842.9,832.4 855.1,843.8 861.8,838.8 849.6,827.4" fill="#9101ff"/>
<polygon points="596.1,842.6 608.3,845.5 615.4,840.5 603.2,837.6" fill="#9600ff"/>
<polygon points="709.8,842.8 722.1,845.7 729.0,840.7 716.8,837.8" fill="#9600ff"/>
<polygon points="292.0,336.1 306.2,401.0 313.7,396.7 299.5,331.8" fill="#ff9a4a"/>
<polygon points="301.4,284.8 314.7,323.2 322.2,319.0 309.0,280.6" fill="#ff4c1f"/>
<polygon points="627.6,843.4 639.8,846.3 646.9,841.2 634.7,838.3" fill="#9600ff"/>
<polygon points="741.3,843.6 753.6,846.5 760.5,841.4 748.2,838.5" fill="#9600ff"/>
<polygon points="236.0,495.9 249.8,542.4 257.4,537.8 242.1,456.0" fill="#5dfb9f"/>
<polygon points="545.3,843.9 557.5,846.8 564.7,841.8 552.5,838.9" fill="#9600ff"/>
<polygon points="659.1,844.1 671.3,847.0 678.3,842.0 666.1,839.1" fill="#9600ff"/>
<polygon points="772.8,844.3 785.2,847.2 792.0,842.2 779.7,839.3" fill="#9600ff"/>
<polygon points="823.5,843.0 835.9,845.9 842.9,832.4 830.5,829.5" fill="#9101ff"/>
<polygon points="576.8,844.7 589.0,847.6 596.1,842.6 584.0,839.7" fill="#9600ff"/>
<polygon points="690.6,844.9 702.8,847.8 709.8,842.8 697.6,839.9" fill="#9600ff"/>
<polygon points="804.4,845.1 816.7,848.0 823.5,843.0 811.2,840.1" fill="#9600ff"/>
<polygon points="608.3,845.5 620.5,848.4 627.6,843.4 615.4,840.5" fill="#9600ff"/>
<polygon points="228.4,500.4 242.2,547.0 249.8,542.4 236.0,495.9" fill="#34fda5"/>
<polygon points="302.6,219.8 316.5,276.4 324.0,272.2 310.5,224.7" fill="#ff0000"/>
<polygon points="722.1,845.7 734.4,848.6 741.3,843.6 729.0,840.7" fill="#9600ff"/>
<polygon points="639.8,846.3 652.0,849.2 659.1,844.1 646.9,841.2" fill="#9600ff"/>
<polygon points="753.6,846.5 765.9,849.4 772.8,844.3 760.5,841.4" fill="#9600ff"/>
<polygon points="835.9,845.9 848.3,848.8 855.1,843.8 842.9,832.4" fill="#9400ff"/>
<polygon points="557.5,846.8 569.6,849.7 576.8,844.7 564.7,841.8" fill="#9600ff"/>
<polygon points="671.3,847.0 683.6,849.9 690.6,844.9 678.3,842.0" fill="#9600ff"/>
<polygon points="785.2,847.2 797.5,850.1 804.4,845.1 792.0,842.2" fill="#9600ff"/>
<polygon points="589.0,847.6 601.2,850.5 608.3,845.5 596.1,842.6" fill="#9600ff"/>
<polygon points="702.8,847.8 715.1,850.7 722.1,845.7 709.8,842.8" fill="#9600ff"/>
<polygon points="816.7,848.0 829.1,850.9 835.9,845.9 823.5,843.0" fill="#9600ff"/>
<polygon points="284.4,340.4 298.7,405.4 306.2,401.0 292.0,336.1" fill="#ff9a4a"/>
<polygon points="293.8,289.1 307.1,327.5 314.7,323.2 301.4,284.8" fill="#ff4c1f"/>
<polygon points="620.5,848.4 632.7,851.3 639.8,846.3 627.6,843.4" fill="#9600ff"/>
<polygon points="734.4,848.6 746.7,851.5 753.6,846.5 741.3,843.6" fill="#9600ff"/>
<polygon points="221.1,513.8 234.9,560.3 242.2,547.0 228.4,500.4" fill="#00fea9"/>
<polygon points="270.2,376.0 285.9,476.0 291.4,418.7 276.7,344.7" fill="#ffbb5f"/>
<polygon points="652.0,849.2 664.3,852.1 671.3,847.0 659.1,844.1" fill="#9600ff"/>
<polygon points="765.9,849.4 778.3,852.3 785.2,847.2 772.8,844.3" fill="#9600ff"/>
<polygon points="569.6,849.7 581.8,852.6 589.0,847.6 576.8,844.7" fill="#9600ff"/>
<polygon points="683.6,849.9 695.8,852.8 702.8,847.8 690.6,844.9" fill="#9600ff"/>
<polygon points="262.1,371.4 277.3,454.1 285.9,476.0 270.2,376.0" fill="#fdc768"/>
<polygon points="797.5,850.1 809.9,853.1 816.7,848.0 804.4,845.1" fill="#9600ff"/>
<polygon points="256.3,420.5 271.5,502.5 277.3,454.1 262.1,371.4" fill="#e3d673"/>
<polygon points="601.2,850.5 613.4,853.4 620.5,848.4 608.3,845.5" fill="#9600ff"/>
<polygon points="715.1,850.7 727.4,853.6 734.4,848.6 722.1,845.7" fill="#9600ff"/>
<polygon points="829.1,850.9 841.5,853.8 848.3,848.8 835.9,845.9" fill="#9600ff"/>
<polygon points="632.7,851.3 644.9,854.2 652.0,849.2 639.8,846.3" fill="#9600ff"/>
<polygon points="295.0,223.9 309.0,280.6 316.5,276.4 302.6,219.8" fill="#ff0000"/>
<polygon points="746.7,851.5 759.0,854.4 765.9,849.4 753.6,846.5" fill="#9600ff"/>
<polygon points="247.5,398.1 262.8,480.7 271.5,502.5 256.3,420.5" fill="#d2de7a"/>
<polygon points="242.1,456.0 257.4,537.8 262.8,480.7 247.5,398.1" fill="#b9e884"/>
<polygon points="664.3,852.1 676.5,855.0 683.6,849.9 671.3,847.0" fill="#9600ff"/>
<polygon points="276.7,344.7 291.4,418.7 298.7,405.4 284.4,340.4" fill="#ff9c4b"/>
<polygon points="778.3,852.3 790.6,855.2 797.5,850.1 785.2,847.2" fill="#9600ff"/>
<polygon points="213.4,518.4 227.3,564.9 234.9,560.3 221.1,513.8" fill="#00feab"/>
<polygon points="581.8,852.6 594.0,855.6 601.2,850.5 589.0,847.6" fill="#9600ff"/>
<polygon points="695.8,852.8 708.1,855.8 715.1,850.7 702.8,847.8" fill="#9600ff"/>
<polygon points="809.9,853.1 822.3,856.0 829.1,850.9 816.7,848.0" fill="#9600ff"/>
<polygon points="286.2,293.3 299.5,331.8 307.1,327.5 293.8,289.1" fill="#ff4c1f"/>
<polygon points="613.4,853.4 625.6,856.3 632.7,851.3 620.5,848.4" fill="#9600ff"/>
<polygon points="727.4,853.6 739.7,856.5 746.7,851.5 734.4,848.6" fill="#9600ff"/>
<polygon points="644.9,854.2 657.2,857.1 664.3,852.1 652.0,849.2" fill="#9600ff"/>
<polygon points="759.0,854.4 771.4,857.3 778.3,852.3 765.9,849.4" fill="#9600ff"/>
<polygon points="676.5,855.0 688.8,857.9 695.8,852.8 683.6,849.9" fill="#9600ff"/>
<polygon points="790.6,855.2 803.0,858.1 809.9,853.1 797.5,850.1" fill="#9600ff"/>
<polygon points="594.0,855.6 606.2,858.5 613.4,853.4 601.2,850.5" fill="#9600ff"/>
<polygon points="708.1,855.8 720.4,858.7 727.4,853.6 715.1,850.7" fill="#9600ff"/>
<polygon points="822.3,856.0 834.7,858.9 841.5,853.8 829.1,850.9" fill="#9600ff"/>
<polygon points="625.6,856.3 637.8,859.3 644.9,854.2 632.7,851.3" fill="#9600ff"/>
<polygon points="287.4,228.1 301.4,284.8 309.0,280.6 295.0,223.9" fill="#ff0000"/>
<polygon points="739.7,856.5 752.1,859.5 759.0,854.4 746.7,851.5" fill="#9600ff"/>
<polygon points="657.2,857.1 669.5,860.0 676.5,855.0 664.3,852.1" fill="#9600ff"/>
<polygon points="771.4,857.3 783.7,860.3 790.6,855.2 778.3,852.3" fill="#9600ff"/>
<polygon points="688.8,857.9 701.1,860.8 708.1,855.8 695.8,852.8" fill="#9600ff"/>
<polygon points="803.0,858.1 815.4,861.0 822.3,856.0 809.9,853.1" fill="#9600ff"/>
<polygon points="278.6,297.6 292.0,336.1 299.5,331.8 286.2,293.3" fill="#ff4c1f"/>
<polygon points="606.2,858.5 618.5,861.4 625.6,856.3 613.4,853.4" fill="#9600ff"/>
<polygon points="720.4,858.7 732.8,861.6 739.7,856.5 727.4,853.6" fill="#9600ff"/>
<polygon points="637.8,859.3 650.1,862.2 657.2,857.1 644.9,854.2" fill="#9600ff"/>
<polygon points="752.1,859.5 764.5,862.4 771.4,857.3 759.0,854.4" fill="#9600ff"/>
<polygon points="669.5,860.0 681.8,863.0 688.8,857.9 676.5,855.0" fill="#9600ff"/>
<polygon points="783.7,860.3 796.1,863.2 803.0,858.1 790.6,855.2" fill="#9600ff"/>
<polygon points="701.1,860.8 713.4,863.8 720.4,858.7 708.1,855.8" fill="#9600ff"/>
<polygon points="815.4,861.0 827.8,864.0 834.7,858.9 822.3,856.0" fill="#9600ff"/>
<polygon points="618.5,861.4 630.7,864.3 637.8,859.3 625.6,856.3" fill="#9600ff"/>
<polygon points="279.8,232.2 293.8,289.1 301.4,284.8 287.4,228.1" fill="#ff0000"/>
<polygon points="732.8,861.6 745.1,864.5 752.1,859.5 739.7,856.5" fill="#9600ff"/>
<polygon points="650.1,862.2 662.4,865.1 669.5,860.0 657.2,857.1" fill="#9600ff"/>
<polygon points="764.5,862.4 776.8,865.3 783.7,860.3 771.4,857.3" fill="#9600ff"/>
<polygon points="681.8,863.0 694.1,865.9 701.1,860.8 688.8,857.9" fill="#9600ff"/>
<polygon points="796.1,863.2 808.6,866.1 815.4,861.0 803.0,858.1" fill="#9600ff"/>
<polygon points="271.0,301.8 284.4,340.4 292.0,336.1 278.6,297.6" fill="#ff4c1f"/>
<polygon points="713.4,863.8 725.8,866.7 732.8,861.6 720.4,858.7" fill="#9600ff"/>
<polygon points="213.2,426.8 228.4,500.4 236.0,495.9 220.9,422.3" fill="#d2de7a"/>
<polygon points="630.7,864.3 643.0,867.3 650.1,862.2 637.8,859.3" fill="#9600ff"/>
<polygon points="745.1,864.5 757.5,867.5 764.5,862.4 752.1,859.5" fill="#9600ff"/>
<polygon points="662.4,865.1 674.7,868.1 681.8,863.0 669.5,860.0" fill="#9600ff"/>
<polygon points="776.8,865.3 789.2,868.3 796.1,863.2 783.7,860.3" fill="#9600ff"/>
<polygon points="694.1,865.9 706.4,868.8 713.4,863.8 701.1,860.8" fill="#9600ff"/>
<polygon points="808.6,866.1 821.0,869.1 827.8,864.0 815.4,861.0" fill="#9600ff"/>
<polygon points="272.1,236.4 286.2,293.3 293.8,289.1 279.8,232.2" fill="#ff0000"/>
<polygon points="725.8,866.7 738.2,869.6 745.1,864.5 732.8,861.6" fill="#9600ff"/>
<polygon points="643.0,867.3 655.3,870.2 662.4,865.1 650.1,862.2" fill="#9600ff"/>
<polygon points="757.5,867.5 769.9,870.4 776.8,865.3 764.5,862.4" fill="#9600ff"/>
<polygon points="205.8,440.2 221.1,513.8 228.4,500.4 213.2,426.8" fill="#cbe17d"/>
<polygon points="674.7,868.1 687.0,871.0 694.1,865.9 681.8,863.0" fill="#9600ff"/>
<polygon points="220.9,422.3 236.0,495.9 242.1,456.0 225.8,354.9" fill="#ffc566"/>
<polygon points="789.2,868.3 801.7,871.2 808.6,866.1 796.1,863.2" fill="#9600ff"/>
<polygon points="263.3,306.1 276.7,344.7 284.4,340.4 271.0,301.8" fill="#ff4c1f"/>
<polygon points="706.4,868.8 718.8,871.8 725.8,866.7 713.4,863.8" fill="#9600ff"/>
<polygon points="738.2,869.6 750.6,872.6 757.5,867.5 745.1,864.5" fill="#9600ff"/>
<polygon points="655.3,870.2 667.6,873.2 674.7,868.1 662.4,865.1" fill="#9600ff"/>
<polygon points="769.9,870.4 782.3,873.4 789.2,868.3 776.8,865.3" fill="#9600ff"/>
<polygon points="255.6,310.4 270.2,376.0 276.7,344.7 263.3,306.1" fill="#ff5624"/>
<polygon points="687.0,871.0 699.4,873.9 706.4,868.8 694.1,865.9" fill="#9600ff"/>
<polygon points="198.0,444.7 213.4,518.4 221.1,513.8 205.8,440.2" fill="#c0e581"/>
<polygon points="801.7,871.2 814.1,874.2 821.0,869.1 808.6,866.1" fill="#9600ff"/>
<polygon points="264.4,240.6 278.6,297.6 286.2,293.3 272.1,236.4" fill="#ff0000"/>
<polygon points="718.8,871.8 731.2,874.7 738.2,869.6 725.8,866.7" fill="#9600ff"/>
<polygon points="750.6,872.6 763.0,875.5 769.9,870.4 757.5,867.5" fill="#9600ff"/>
<polygon points="667.6,873.2 680.0,876.1 687.0,871.0 674.7,868.1" fill="#9600ff"/>
<polygon points="782.3,873.4 794.8,876.3 801.7,871.2 789.2,868.3" fill="#9600ff"/>
<polygon points="241.3,346.2 256.3,420.5 262.1,371.4 247.9,314.7" fill="#ff7937"/>
<polygon points="699.4,873.9 711.8,876.9 718.8,871.8 706.4,868.8" fill="#9600ff"/>
<polygon points="247.9,314.7 262.1,371.4 270.2,376.0 255.6,310.4" fill="#ff5f29"/>
<polygon points="731.2,874.7 743.6,877.7 750.6,872.6 738.2,869.6" fill="#9600ff"/>
<polygon points="763.0,875.5 775.4,878.5 782.3,873.4 769.9,870.4" fill="#9600ff"/>
<polygon points="680.0,876.1 692.3,879.1 699.4,873.9 687.0,871.0" fill="#9600ff"/>
<polygon points="232.8,332.4 247.5,398.1 256.3,420.5 241.3,346.2" fill="#ff823c"/>
<polygon points="794.8,876.3 807.2,879.3 814.1,874.2 801.7,871.2" fill="#9600ff"/>
<polygon points="256.7,244.8 271.0,301.8 278.6,297.6 264.4,240.6" fill="#ff0000"/>
<polygon points="711.8,876.9 724.2,879.9 731.2,874.7 718.8,871.8" fill="#9600ff"/>
<polygon points="743.6,877.7 756.0,880.6 763.0,875.5 750.6,872.6" fill="#9600ff"/>
<polygon points="775.4,878.5 787.8,881.4 794.8,876.3 782.3,873.4" fill="#9600ff"/>
<polygon points="225.8,354.9 242.1,456.0 247.5,398.1 232.8,332.4" fill="#ff8d42"/>
<polygon points="692.3,879.1 704.7,882.0 711.8,876.9 699.4,873.9" fill="#9600ff"/>
<polygon points="724.2,879.9 736.6,882.8 743.6,877.7 731.2,874.7" fill="#9600ff"/>
<polygon points="756.0,880.6 768.4,883.6 775.4,878.5 763.0,875.5" fill="#9600ff"/>
<polygon points="249.4,258.2 263.3,306.1 271.0,301.8 256.7,244.8" fill="#ff0000"/>
<polygon points="787.8,881.4 800.3,884.4 807.2,879.3 794.8,876.3" fill="#9600ff"/>
<polygon points="704.7,882.0 717.1,885.0 724.2,879.9 711.8,876.9" fill="#9600ff"/>
<polygon points="736.6,882.8 749.0,885.8 756.0,880.6 743.6,877.7" fill="#9600ff"/>
<polygon points="768.4,883.6 780.9,886.6 787.8,881.4 775.4,878.5" fill="#9600ff"/>
<polygon points="717.1,885.0 729.5,888.0 736.6,882.8 724.2,879.9" fill="#9600ff"/>
<polygon points="241.6,262.4 255.6,310.4 263.3,306.1 249.4,258.2" fill="#ff0100"/>
<polygon points="749.0,885.8 761.5,888.8 768.4,883.6 756.0,880.6" fill="#9600ff"/>
<polygon points="780.9,886.6 793.4,889.6 800.3,884.4 787.8,881.4" fill="#9600ff"/>
<polygon points="729.5,888.0 742.0,890.9 749.0,885.8 736.6,882.8" fill="#9600ff"/>
<polygon points="761.5,888.8 773.9,891.7 780.9,886.6 768.4,883.6" fill="#9600ff"/>
<polygon points="233.9,266.7 247.9,314.7 255.6,310.4 241.6,262.4" fill="#ff0100"/>
<polygon points="742.0,890.9 754.5,893.9 761.5,888.8 749.0,885.8" fill="#9600ff"/>
<polygon points="773.9,891.7 786.4,894.7 793.4,889.6 780.9,886.6" fill="#9600ff"/>
<polygon points="226.1,270.9 241.3,346.2 247.9,314.7 233.9,266.7" fill="#ff0b02"/>
<polygon points="754.5,893.9 767.0,896.9 773.9,891.7 761.5,888.8" fill="#9600ff"/>
<polygon points="218.7,284.4 232.8,332.4 241.3,346.2 226.1,270.9" fill="#ff1204"/>
<polygon points="767.0,896.9 779.5,899.9 786.4,894.7 773.9,891.7" fill="#9600ff"/>
<polygon points="195.1,297.3 213.2,426.8 220.9,422.3 203.0,293.0" fill="#ff5c27"/>
<polygon points="203.0,293.0 220.9,422.3 225.8,354.9 210.9,288.7" fill="#ff3f18"/>
<polygon points="210.9,288.7 225.8,354.9 232.8,332.4 218.7,284.4" fill="#ff1906"/>
<polygon points="187.2,301.6 205.8,440.2 213.2,426.8 195.1,297.3" fill="#ff5f29"/>
<polygon points="179.3,306.0 198.0,444.7 205.8,440.2 187.2,301.6" fill="#ff622b"/>
</g>
<g fill="none" stroke="#000" stroke-width="2.2" stroke-linecap="square">
<polyline points="135.5,778.3 798.8,938.4"/>
<polyline points="798.8,938.4 1155.2,669.9"/>
<polyline points="1155.2,669.9 1181.6,185.9"/>
</g>
<g fill="none" stroke="#000" stroke-width="2">
<polyline points="169.4,782.1 156.8,790.1"/>
<polyline points="811.4,924.1 829.9,928.5"/>
<polyline points="286.0,810.1 273.5,818.4"/>
<polyline points="879.9,872.5 898.4,876.8"/>
<polyline points="404.5,838.7 392.1,847.1"/>
<polyline points="946.5,822.3 965.0,826.6"/>
<polyline points="525.0,867.7 512.7,876.3"/>
<polyline points="1011.2,773.6 1029.7,777.8"/>
<polyline points="647.6,897.2 635.4,906.0"/>
<polyline points="1074.1,726.2 1092.6,730.4"/>
<polyline points="772.2,927.2 760.1,936.2"/>
<polyline points="1135.3,680.2 1153.8,684.2"/>
<polyline points="1149.6,626.1 1169.2,630.3"/>
<polyline points="1152.4,576.4 1171.9,580.5"/>
<polyline points="1155.1,526.1 1174.7,530.2"/>
<polyline points="1157.9,475.3 1177.4,479.3"/>
<polyline points="1160.7,423.9 1180.3,427.9"/>
<polyline points="1163.5,372.0 1183.1,375.9"/>
<polyline points="1166.3,319.5 1186.0,323.3"/>
<polyline points="1169.2,266.4 1188.9,270.1"/>
<polyline points="1172.2,212.7 1191.8,216.4"/>
</g>
<g font-family="'Liberation Serif',serif" font-weight="bold" font-size="33.3" text-anchor="middle" fill="#000">
<text x="142.2" y="852.9">0</text>
<text x="857.9" y="986.3">0</text>
<text x="258.8" y="881.0">1</text>
<text x="925.3" y="934.0">1</text>
<text x="377.4" y="909.6">2</text>
<text x="990.8" y="883.3">2</text>
<text x="497.9" y="938.7">3</text>
<text x="1054.4" y="833.9">3</text>
<text x="620.5" y="968.3">4</text>
<text x="1116.2" y="785.9">4</text>
<text x="745.1" y="998.4">5</text>
<text x="1176.2" y="739.2">5</text>
<text x="1216.1" y="646.1">50</text>
<text x="1218.8" y="596.4">55</text>
<text x="1221.5" y="546.1">60</text>
<text x="1224.3" y="495.2">65</text>
<text x="1227.1" y="443.8">70</text>
<text x="1229.9" y="391.8">75</text>
<text x="1232.8" y="339.3">80</text>
<text x="1235.7" y="286.2">85</text>
<text x="1238.6" y="232.4">90</text>
</g>
<g font-family="'Liberation Serif',serif" font-weight="bold" fill="#000" text-anchor="middle">
<text x="396.5" y="965.5" font-size="66" font-style="italic" text-anchor="start">γ</text>
<text x="1068" y="889.5" font-size="57">C</text>
<text y="59.5" font-size="61.1" text-anchor="start"><tspan x="350.3" textLength="218.2" lengthAdjust="spacing">Average</tspan><tspan> </tspan><tspan x="586.7" textLength="350" lengthAdjust="spacing">Accuracy(%)</tspan></text>
</g>
<rect x="26" y="113.5" width="530.5" height="106.5" rx="10" ry="10" fill="#fff" fill-opacity="0.32" stroke="#000" stroke-opacity="0.16" stroke-width="2"/>
<g font-family="'Liberation Serif',serif" font-weight="bold" font-size="41.7" fill="#000" text-anchor="middle">
<text y="154.9" text-anchor="start"><tspan x="38.6" textLength="151.8" lengthAdjust="spacing">Average</tspan><tspan> </tspan><tspan x="204.0" textLength="171.3" lengthAdjust="spacing">Accuracy</tspan><tspan> </tspan><tspan x="389.7">=</tspan><tspan> </tspan><tspan x="426.2" textLength="116.0" lengthAdjust="spacing">92.1%</tspan></text>
<text y="196.6" text-anchor="start"><tspan x="64.8" textLength="94.5" lengthAdjust="spacing">when</tspan><tspan> </tspan><tspan x="172.5">C</tspan><tspan> </tspan><tspan x="214.9">=</tspan><tspan> </tspan><tspan x="251.7" textLength="50.9" lengthAdjust="spacing">1.4</tspan><tspan> </tspan><tspan x="316.1" textLength="65.4" lengthAdjust="spacing">and</tspan><tspan> </tspan><tspan x="395.2" font-style="italic" font-size="43.7">γ</tspan><tspan> </tspan><tspan x="426.7">=</tspan><tspan> </tspan><tspan x="463.6" textLength="50.8" lengthAdjust="spacing">0.1</tspan></text>
</g>
</svg>
</body></html>
